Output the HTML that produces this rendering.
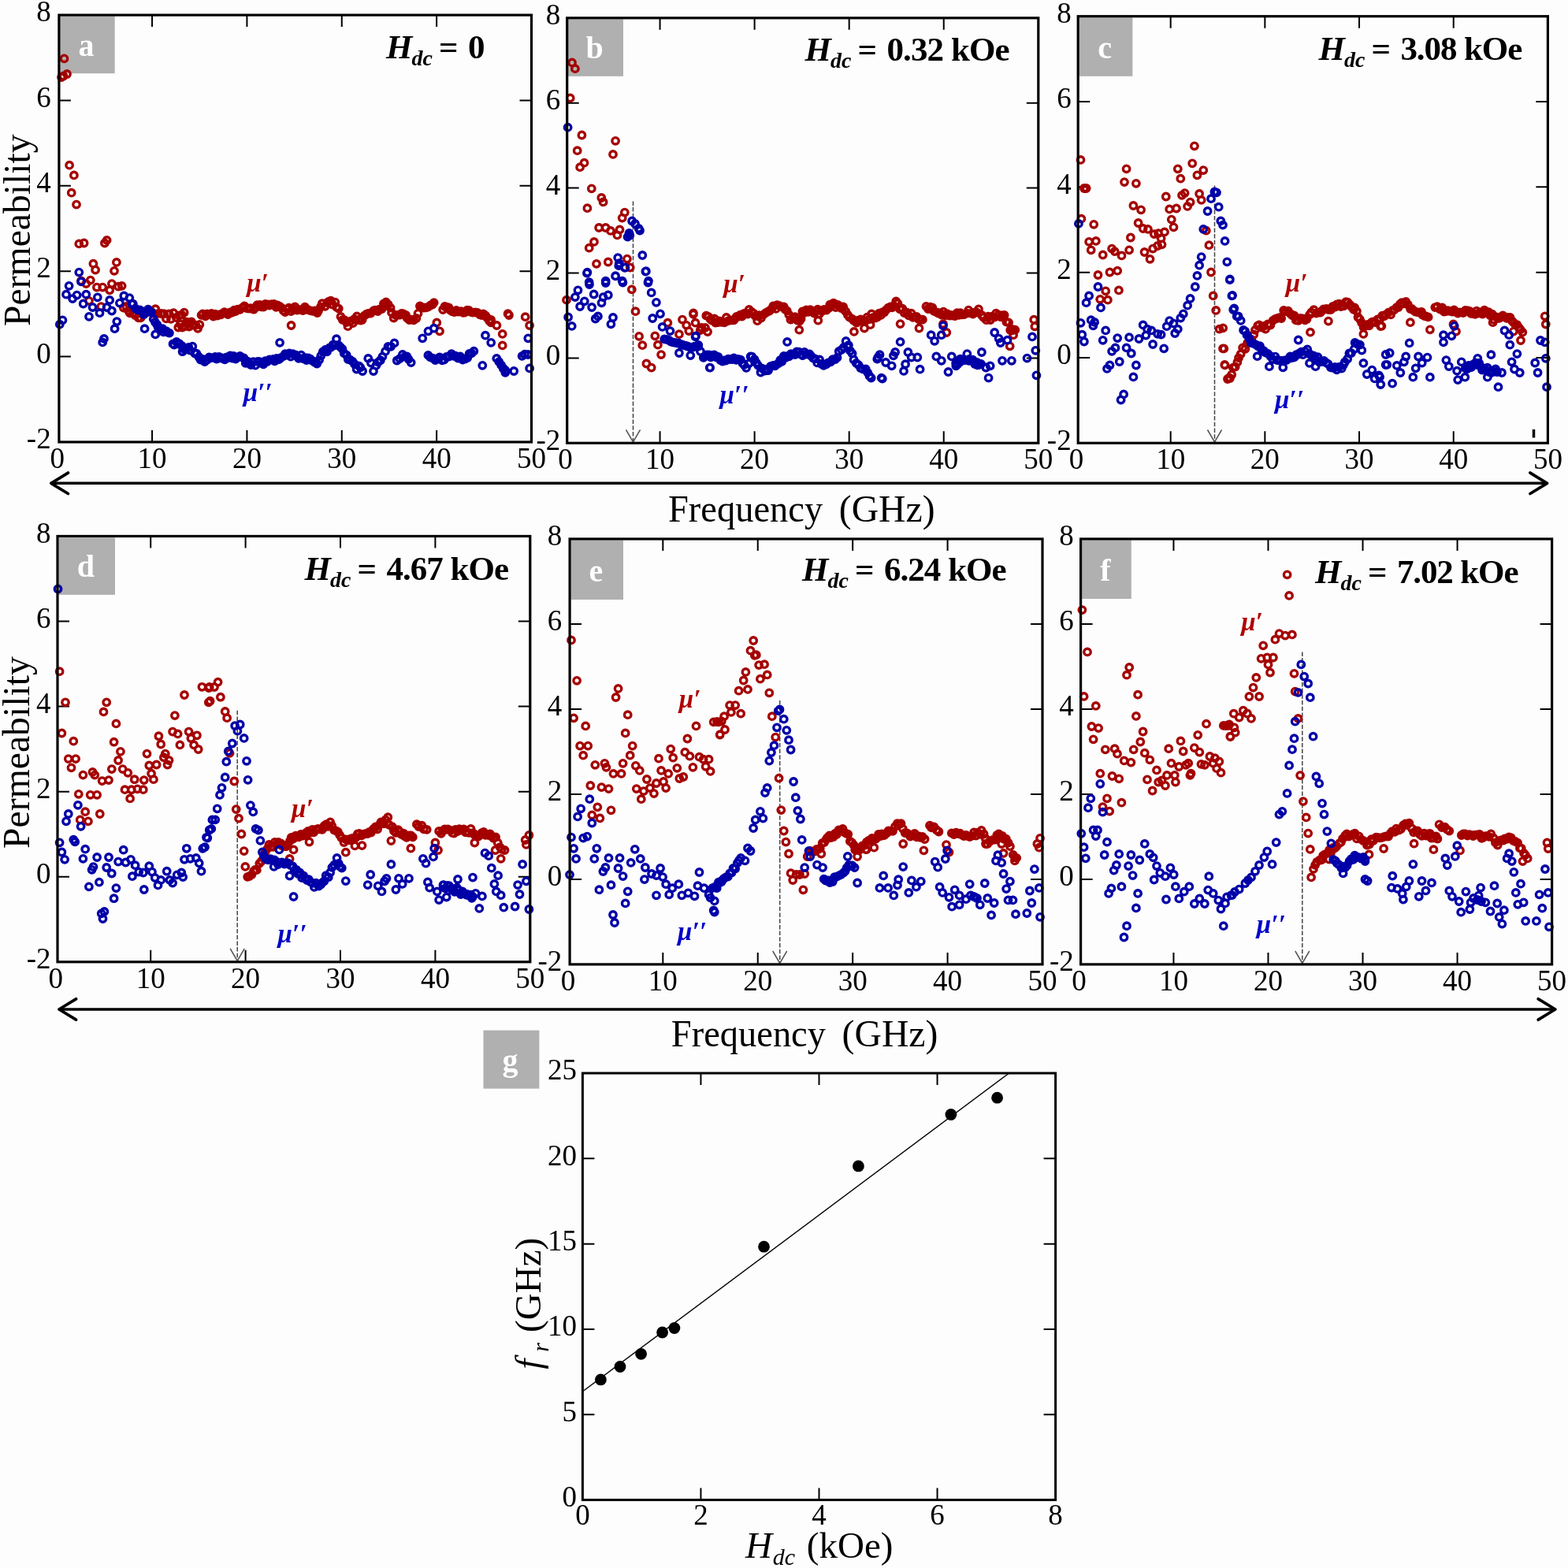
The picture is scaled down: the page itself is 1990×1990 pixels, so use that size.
<!DOCTYPE html>
<html><head><meta charset="utf-8"><title>Permeability spectra vs. frequency under DC field</title>
<style>
html,body{margin:0;padding:0;background:#fdfdfd;width:1990px;height:1990px;overflow:hidden;}
svg{display:block;}
.tl{font-family:'Liberation Serif','Times New Roman',serif;font-size:37px;fill:#000;}
.ax{font-family:'Liberation Serif','Times New Roman',serif;font-size:47.7px;fill:#000;}
.gx{font-family:'Liberation Serif','Times New Roman',serif;font-size:47px;fill:#000;}
.hl{font-family:'Liberation Serif','Times New Roman',serif;font-size:43px;font-weight:bold;fill:#000;}
.pl{font-family:'Liberation Serif','Times New Roman',serif;font-size:40px;font-weight:bold;fill:#fff;}
.mu{font-family:'Liberation Serif','Times New Roman',serif;font-size:33px;font-weight:bold;font-style:italic;}
</style></head><body>
<svg width="1990" height="1990" viewBox="0 0 1990 1990" xmlns="http://www.w3.org/2000/svg">
<rect x="76.2" y="20.6" width="69.5" height="72.6" fill="#b0b0b0"/>
<text x="109.45" y="70.5" class="pl" text-anchor="middle">a</text>
<rect x="721" y="24.3" width="70" height="72.5" fill="#b0b0b0"/>
<text x="754.5" y="74.1" class="pl" text-anchor="middle">b</text>
<rect x="1370" y="22.3" width="67.4" height="74.5" fill="#b0b0b0"/>
<text x="1402.2" y="74.1" class="pl" text-anchor="middle">c</text>
<rect x="74.5" y="682.4" width="71.5" height="72.5" fill="#b0b0b0"/>
<text x="108.75" y="732.2" class="pl" text-anchor="middle">d</text>
<rect x="724.7" y="685.5" width="66.3" height="75.5" fill="#b0b0b0"/>
<text x="756.35" y="738.3" class="pl" text-anchor="middle">e</text>
<rect x="1373.2" y="685.5" width="62.6" height="74.5" fill="#b0b0b0"/>
<text x="1403" y="737.3" class="pl" text-anchor="middle">f</text>
<path d="M193.06 561V546M193.06 19.1V34.1M313.42 561V546M313.42 19.1V34.1M433.78 561V546M433.78 19.1V34.1M554.14 561V546M554.14 19.1V34.1M74.9 127.48H89.9M674.5 127.48H659.5M74.9 235.86H89.9M674.5 235.86H659.5M74.9 344.24H89.9M674.5 344.24H659.5M74.9 452.62H89.9M674.5 452.62H659.5" stroke="#000" stroke-width="2" fill="none"/>
<text x="64.7" y="27.3" text-anchor="end" class="tl">8</text>
<text x="64.7" y="135.68" text-anchor="end" class="tl">6</text>
<text x="64.7" y="244.06" text-anchor="end" class="tl">4</text>
<text x="64.7" y="352.44" text-anchor="end" class="tl">2</text>
<text x="64.7" y="460.82" text-anchor="end" class="tl">0</text>
<text x="64.7" y="569.2" text-anchor="end" class="tl">-2</text>
<text x="72.7" y="594" text-anchor="middle" class="tl">0</text>
<text x="193.06" y="594" text-anchor="middle" class="tl">10</text>
<text x="313.42" y="594" text-anchor="middle" class="tl">20</text>
<text x="433.78" y="594" text-anchor="middle" class="tl">30</text>
<text x="554.14" y="594" text-anchor="middle" class="tl">40</text>
<text x="674.5" y="594" text-anchor="middle" class="tl">50</text>
<path d="M837.56 562.3V547.3M837.56 22.8V37.8M957.62 562.3V547.3M957.62 22.8V37.8M1077.68 562.3V547.3M1077.68 22.8V37.8M1197.74 562.3V547.3M1197.74 22.8V37.8M719.7 130.7H734.7M1317.8 130.7H1302.8M719.7 238.6H734.7M1317.8 238.6H1302.8M719.7 346.5H734.7M1317.8 346.5H1302.8M719.7 454.4H734.7M1317.8 454.4H1302.8" stroke="#000" stroke-width="2" fill="none"/>
<text x="711.3" y="31" text-anchor="end" class="tl">8</text>
<text x="711.3" y="138.9" text-anchor="end" class="tl">6</text>
<text x="711.3" y="246.8" text-anchor="end" class="tl">4</text>
<text x="711.3" y="354.7" text-anchor="end" class="tl">2</text>
<text x="711.3" y="462.6" text-anchor="end" class="tl">0</text>
<text x="711.3" y="570.5" text-anchor="end" class="tl">-2</text>
<text x="717.5" y="595.3" text-anchor="middle" class="tl">0</text>
<text x="837.56" y="595.3" text-anchor="middle" class="tl">10</text>
<text x="957.62" y="595.3" text-anchor="middle" class="tl">20</text>
<text x="1077.68" y="595.3" text-anchor="middle" class="tl">30</text>
<text x="1197.74" y="595.3" text-anchor="middle" class="tl">40</text>
<text x="1317.8" y="595.3" text-anchor="middle" class="tl">50</text>
<path d="M1485.68 562.3V547.3M1485.68 20.7V35.7M1605.36 562.3V547.3M1605.36 20.7V35.7M1725.04 562.3V547.3M1725.04 20.7V35.7M1844.72 562.3V547.3M1844.72 20.7V35.7M1368.2 129.02H1383.2M1964.4 129.02H1949.4M1368.2 237.34H1383.2M1964.4 237.34H1949.4M1368.2 345.66H1383.2M1964.4 345.66H1949.4M1368.2 453.98H1383.2M1964.4 453.98H1949.4" stroke="#000" stroke-width="2" fill="none"/>
<text x="1359.7" y="28.9" text-anchor="end" class="tl">8</text>
<text x="1359.7" y="137.22" text-anchor="end" class="tl">6</text>
<text x="1359.7" y="245.54" text-anchor="end" class="tl">4</text>
<text x="1359.7" y="353.86" text-anchor="end" class="tl">2</text>
<text x="1359.7" y="462.18" text-anchor="end" class="tl">0</text>
<text x="1359.7" y="570.5" text-anchor="end" class="tl">-2</text>
<text x="1366" y="595.3" text-anchor="middle" class="tl">0</text>
<text x="1485.68" y="595.3" text-anchor="middle" class="tl">10</text>
<text x="1605.36" y="595.3" text-anchor="middle" class="tl">20</text>
<text x="1725.04" y="595.3" text-anchor="middle" class="tl">30</text>
<text x="1844.72" y="595.3" text-anchor="middle" class="tl">40</text>
<text x="1964.4" y="595.3" text-anchor="middle" class="tl">50</text>
<path d="M191.2 1220.8V1205.8M191.2 680.5V695.5M311.6 1220.8V1205.8M311.6 680.5V695.5M432 1220.8V1205.8M432 680.5V695.5M552.4 1220.8V1205.8M552.4 680.5V695.5M73 788.56H88M672.8 788.56H657.8M73 896.62H88M672.8 896.62H657.8M73 1004.68H88M672.8 1004.68H657.8M73 1112.74H88M672.8 1112.74H657.8" stroke="#000" stroke-width="2" fill="none"/>
<text x="64.5" y="688.7" text-anchor="end" class="tl">8</text>
<text x="64.5" y="796.76" text-anchor="end" class="tl">6</text>
<text x="64.5" y="904.82" text-anchor="end" class="tl">4</text>
<text x="64.5" y="1012.88" text-anchor="end" class="tl">2</text>
<text x="64.5" y="1120.94" text-anchor="end" class="tl">0</text>
<text x="64.5" y="1229" text-anchor="end" class="tl">-2</text>
<text x="70.8" y="1253.8" text-anchor="middle" class="tl">0</text>
<text x="191.2" y="1253.8" text-anchor="middle" class="tl">10</text>
<text x="311.6" y="1253.8" text-anchor="middle" class="tl">20</text>
<text x="432" y="1253.8" text-anchor="middle" class="tl">30</text>
<text x="552.4" y="1253.8" text-anchor="middle" class="tl">40</text>
<text x="672.8" y="1253.8" text-anchor="middle" class="tl">50</text>
<path d="M841.32 1223.9V1208.9M841.32 684V699M961.74 1223.9V1208.9M961.74 684V699M1082.16 1223.9V1208.9M1082.16 684V699M1202.58 1223.9V1208.9M1202.58 684V699M723.1 791.98H738.1M1323 791.98H1308M723.1 899.96H738.1M1323 899.96H1308M723.1 1007.94H738.1M1323 1007.94H1308M723.1 1115.92H738.1M1323 1115.92H1308" stroke="#000" stroke-width="2" fill="none"/>
<text x="713.3" y="692.2" text-anchor="end" class="tl">8</text>
<text x="713.3" y="800.18" text-anchor="end" class="tl">6</text>
<text x="713.3" y="908.16" text-anchor="end" class="tl">4</text>
<text x="713.3" y="1016.14" text-anchor="end" class="tl">2</text>
<text x="713.3" y="1124.12" text-anchor="end" class="tl">0</text>
<text x="713.3" y="1232.1" text-anchor="end" class="tl">-2</text>
<text x="720.9" y="1256.9" text-anchor="middle" class="tl">0</text>
<text x="841.32" y="1256.9" text-anchor="middle" class="tl">10</text>
<text x="961.74" y="1256.9" text-anchor="middle" class="tl">20</text>
<text x="1082.16" y="1256.9" text-anchor="middle" class="tl">30</text>
<text x="1202.58" y="1256.9" text-anchor="middle" class="tl">40</text>
<text x="1323" y="1256.9" text-anchor="middle" class="tl">50</text>
<path d="M1489.44 1223.9V1208.9M1489.44 684V699M1609.48 1223.9V1208.9M1609.48 684V699M1729.52 1223.9V1208.9M1729.52 684V699M1849.56 1223.9V1208.9M1849.56 684V699M1371.6 791.98H1386.6M1969.6 791.98H1954.6M1371.6 899.96H1386.6M1969.6 899.96H1954.6M1371.6 1007.94H1386.6M1969.6 1007.94H1954.6M1371.6 1115.92H1386.6M1969.6 1115.92H1954.6" stroke="#000" stroke-width="2" fill="none"/>
<text x="1362.8" y="692.2" text-anchor="end" class="tl">8</text>
<text x="1362.8" y="800.18" text-anchor="end" class="tl">6</text>
<text x="1362.8" y="908.16" text-anchor="end" class="tl">4</text>
<text x="1362.8" y="1016.14" text-anchor="end" class="tl">2</text>
<text x="1362.8" y="1124.12" text-anchor="end" class="tl">0</text>
<text x="1362.8" y="1232.1" text-anchor="end" class="tl">-2</text>
<text x="1369.4" y="1256.9" text-anchor="middle" class="tl">0</text>
<text x="1489.44" y="1256.9" text-anchor="middle" class="tl">10</text>
<text x="1609.48" y="1256.9" text-anchor="middle" class="tl">20</text>
<text x="1729.52" y="1256.9" text-anchor="middle" class="tl">30</text>
<text x="1849.56" y="1256.9" text-anchor="middle" class="tl">40</text>
<text x="1969.6" y="1256.9" text-anchor="middle" class="tl">50</text>
<path d="M803.5 255.4V561" stroke="#444" stroke-width="1.5" stroke-dasharray="5.5 2.2" fill="none"/>
<path d="M794.5 545.5L803.5 561L812.5 545.5" stroke="#555" stroke-width="1.5" fill="none"/>
<path d="M1541.5 235.5V561" stroke="#444" stroke-width="1.5" stroke-dasharray="5.5 2.2" fill="none"/>
<path d="M1532.5 545.5L1541.5 561L1550.5 545.5" stroke="#555" stroke-width="1.5" fill="none"/>
<path d="M301.2 901.8V1219.5" stroke="#444" stroke-width="1.5" stroke-dasharray="5.5 2.2" fill="none"/>
<path d="M292.2 1204.0L301.2 1219.5L310.2 1204.0" stroke="#555" stroke-width="1.5" fill="none"/>
<path d="M989.7 889V1222.5" stroke="#444" stroke-width="1.5" stroke-dasharray="5.5 2.2" fill="none"/>
<path d="M980.7 1207.0L989.7 1222.5L998.7 1207.0" stroke="#555" stroke-width="1.5" fill="none"/>
<path d="M1652.8 827.4V1222.5" stroke="#444" stroke-width="1.5" stroke-dasharray="5.5 2.2" fill="none"/>
<path d="M1643.8 1207.0L1652.8 1222.5L1661.8 1207.0" stroke="#555" stroke-width="1.5" fill="none"/>
<path d="M83.9 209.7a4.2 4.2 0 1 0 8.4 0a4.2 4.2 0 1 0 -8.4 0M89.7 222.4a4.2 4.2 0 1 0 8.4 0a4.2 4.2 0 1 0 -8.4 0M86.5 244.7a4.2 4.2 0 1 0 8.4 0a4.2 4.2 0 1 0 -8.4 0M92.8 259.6a4.2 4.2 0 1 0 8.4 0a4.2 4.2 0 1 0 -8.4 0M96.1 309.4a4.2 4.2 0 1 0 8.4 0a4.2 4.2 0 1 0 -8.4 0M102.4 308.5a4.2 4.2 0 1 0 8.4 0a4.2 4.2 0 1 0 -8.4 0M128.7 308.5a4.2 4.2 0 1 0 8.4 0a4.2 4.2 0 1 0 -8.4 0M131.4 304.9a4.2 4.2 0 1 0 8.4 0a4.2 4.2 0 1 0 -8.4 0M114.2 334.7a4.2 4.2 0 1 0 8.4 0a4.2 4.2 0 1 0 -8.4 0M116.9 342.5a4.2 4.2 0 1 0 8.4 0a4.2 4.2 0 1 0 -8.4 0M143.7 332.9a4.2 4.2 0 1 0 8.4 0a4.2 4.2 0 1 0 -8.4 0M140.8 343.8a4.2 4.2 0 1 0 8.4 0a4.2 4.2 0 1 0 -8.4 0M98.8 356.5a4.2 4.2 0 1 0 8.4 0a4.2 4.2 0 1 0 -8.4 0M110.6 355.6a4.2 4.2 0 1 0 8.4 0a4.2 4.2 0 1 0 -8.4 0M105.1 360.1a4.2 4.2 0 1 0 8.4 0a4.2 4.2 0 1 0 -8.4 0M118.7 364.6a4.2 4.2 0 1 0 8.4 0a4.2 4.2 0 1 0 -8.4 0M126.0 364.6a4.2 4.2 0 1 0 8.4 0a4.2 4.2 0 1 0 -8.4 0M135.0 368.3a4.2 4.2 0 1 0 8.4 0a4.2 4.2 0 1 0 -8.4 0M137.7 360.1a4.2 4.2 0 1 0 8.4 0a4.2 4.2 0 1 0 -8.4 0M145.9 363.7a4.2 4.2 0 1 0 8.4 0a4.2 4.2 0 1 0 -8.4 0M150.4 362.8a4.2 4.2 0 1 0 8.4 0a4.2 4.2 0 1 0 -8.4 0M108.8 381.8a4.2 4.2 0 1 0 8.4 0a4.2 4.2 0 1 0 -8.4 0M124.1 389.1a4.2 4.2 0 1 0 8.4 0a4.2 4.2 0 1 0 -8.4 0M77.3 74.3a4.2 4.2 0 1 0 8.4 0a4.2 4.2 0 1 0 -8.4 0M80.8 94.0a4.2 4.2 0 1 0 8.4 0a4.2 4.2 0 1 0 -8.4 0M73.8 98.0a4.2 4.2 0 1 0 8.4 0a4.2 4.2 0 1 0 -8.4 0M76.3 96.5a4.2 4.2 0 1 0 8.4 0a4.2 4.2 0 1 0 -8.4 0M365.4 413.0a4.2 4.2 0 1 0 8.4 0a4.2 4.2 0 1 0 -8.4 0M550.1 409.4a4.2 4.2 0 1 0 8.4 0a4.2 4.2 0 1 0 -8.4 0M553.8 420.3a4.2 4.2 0 1 0 8.4 0a4.2 4.2 0 1 0 -8.4 0M633.5 423.9a4.2 4.2 0 1 0 8.4 0a4.2 4.2 0 1 0 -8.4 0M633.5 438.4a4.2 4.2 0 1 0 8.4 0a4.2 4.2 0 1 0 -8.4 0M662.5 402.2a4.2 4.2 0 1 0 8.4 0a4.2 4.2 0 1 0 -8.4 0M667.9 413.0a4.2 4.2 0 1 0 8.4 0a4.2 4.2 0 1 0 -8.4 0M626.2 413.0a4.2 4.2 0 1 0 8.4 0a4.2 4.2 0 1 0 -8.4 0M619.0 409.4a4.2 4.2 0 1 0 8.4 0a4.2 4.2 0 1 0 -8.4 0M152.6 390.6a4.2 4.2 0 1 0 8.4 0a4.2 4.2 0 1 0 -8.4 0M156.1 389.0a4.2 4.2 0 1 0 8.4 0a4.2 4.2 0 1 0 -8.4 0M159.1 394.5a4.2 4.2 0 1 0 8.4 0a4.2 4.2 0 1 0 -8.4 0M160.7 397.4a4.2 4.2 0 1 0 8.4 0a4.2 4.2 0 1 0 -8.4 0M164.6 397.4a4.2 4.2 0 1 0 8.4 0a4.2 4.2 0 1 0 -8.4 0M167.3 400.1a4.2 4.2 0 1 0 8.4 0a4.2 4.2 0 1 0 -8.4 0M171.6 403.4a4.2 4.2 0 1 0 8.4 0a4.2 4.2 0 1 0 -8.4 0M174.3 403.4a4.2 4.2 0 1 0 8.4 0a4.2 4.2 0 1 0 -8.4 0M177.0 399.4a4.2 4.2 0 1 0 8.4 0a4.2 4.2 0 1 0 -8.4 0M178.9 397.2a4.2 4.2 0 1 0 8.4 0a4.2 4.2 0 1 0 -8.4 0M181.8 396.4a4.2 4.2 0 1 0 8.4 0a4.2 4.2 0 1 0 -8.4 0M185.2 394.5a4.2 4.2 0 1 0 8.4 0a4.2 4.2 0 1 0 -8.4 0M187.8 395.6a4.2 4.2 0 1 0 8.4 0a4.2 4.2 0 1 0 -8.4 0M190.7 397.9a4.2 4.2 0 1 0 8.4 0a4.2 4.2 0 1 0 -8.4 0M193.1 392.2a4.2 4.2 0 1 0 8.4 0a4.2 4.2 0 1 0 -8.4 0M196.5 397.8a4.2 4.2 0 1 0 8.4 0a4.2 4.2 0 1 0 -8.4 0M200.4 398.0a4.2 4.2 0 1 0 8.4 0a4.2 4.2 0 1 0 -8.4 0M203.8 398.2a4.2 4.2 0 1 0 8.4 0a4.2 4.2 0 1 0 -8.4 0M206.7 404.4a4.2 4.2 0 1 0 8.4 0a4.2 4.2 0 1 0 -8.4 0M210.4 398.3a4.2 4.2 0 1 0 8.4 0a4.2 4.2 0 1 0 -8.4 0M212.7 404.9a4.2 4.2 0 1 0 8.4 0a4.2 4.2 0 1 0 -8.4 0M216.0 397.2a4.2 4.2 0 1 0 8.4 0a4.2 4.2 0 1 0 -8.4 0M219.5 403.0a4.2 4.2 0 1 0 8.4 0a4.2 4.2 0 1 0 -8.4 0M223.3 400.5a4.2 4.2 0 1 0 8.4 0a4.2 4.2 0 1 0 -8.4 0M226.6 399.6a4.2 4.2 0 1 0 8.4 0a4.2 4.2 0 1 0 -8.4 0M229.5 396.6a4.2 4.2 0 1 0 8.4 0a4.2 4.2 0 1 0 -8.4 0M232.9 408.7a4.2 4.2 0 1 0 8.4 0a4.2 4.2 0 1 0 -8.4 0M235.7 414.5a4.2 4.2 0 1 0 8.4 0a4.2 4.2 0 1 0 -8.4 0M238.8 408.4a4.2 4.2 0 1 0 8.4 0a4.2 4.2 0 1 0 -8.4 0M241.2 412.7a4.2 4.2 0 1 0 8.4 0a4.2 4.2 0 1 0 -8.4 0M244.2 412.6a4.2 4.2 0 1 0 8.4 0a4.2 4.2 0 1 0 -8.4 0M246.9 416.8a4.2 4.2 0 1 0 8.4 0a4.2 4.2 0 1 0 -8.4 0M249.1 412.0a4.2 4.2 0 1 0 8.4 0a4.2 4.2 0 1 0 -8.4 0M222.1 415.5a4.2 4.2 0 1 0 8.4 0a4.2 4.2 0 1 0 -8.4 0M224.7 411.4a4.2 4.2 0 1 0 8.4 0a4.2 4.2 0 1 0 -8.4 0M227.1 415.6a4.2 4.2 0 1 0 8.4 0a4.2 4.2 0 1 0 -8.4 0M230.8 414.2a4.2 4.2 0 1 0 8.4 0a4.2 4.2 0 1 0 -8.4 0M232.7 410.7a4.2 4.2 0 1 0 8.4 0a4.2 4.2 0 1 0 -8.4 0M235.8 410.0a4.2 4.2 0 1 0 8.4 0a4.2 4.2 0 1 0 -8.4 0M251.4 399.9a4.2 4.2 0 1 0 8.4 0a4.2 4.2 0 1 0 -8.4 0M253.1 398.5a4.2 4.2 0 1 0 8.4 0a4.2 4.2 0 1 0 -8.4 0M256.5 401.3a4.2 4.2 0 1 0 8.4 0a4.2 4.2 0 1 0 -8.4 0M258.9 398.3a4.2 4.2 0 1 0 8.4 0a4.2 4.2 0 1 0 -8.4 0M261.1 399.1a4.2 4.2 0 1 0 8.4 0a4.2 4.2 0 1 0 -8.4 0M264.2 398.0a4.2 4.2 0 1 0 8.4 0a4.2 4.2 0 1 0 -8.4 0M266.6 401.5a4.2 4.2 0 1 0 8.4 0a4.2 4.2 0 1 0 -8.4 0M268.7 398.7a4.2 4.2 0 1 0 8.4 0a4.2 4.2 0 1 0 -8.4 0M271.7 400.7a4.2 4.2 0 1 0 8.4 0a4.2 4.2 0 1 0 -8.4 0M273.6 399.5a4.2 4.2 0 1 0 8.4 0a4.2 4.2 0 1 0 -8.4 0M276.1 399.4a4.2 4.2 0 1 0 8.4 0a4.2 4.2 0 1 0 -8.4 0M278.0 397.9a4.2 4.2 0 1 0 8.4 0a4.2 4.2 0 1 0 -8.4 0M280.6 396.2a4.2 4.2 0 1 0 8.4 0a4.2 4.2 0 1 0 -8.4 0M283.5 397.1a4.2 4.2 0 1 0 8.4 0a4.2 4.2 0 1 0 -8.4 0M285.1 399.0a4.2 4.2 0 1 0 8.4 0a4.2 4.2 0 1 0 -8.4 0M288.6 396.2a4.2 4.2 0 1 0 8.4 0a4.2 4.2 0 1 0 -8.4 0M290.5 396.5a4.2 4.2 0 1 0 8.4 0a4.2 4.2 0 1 0 -8.4 0M293.0 393.7a4.2 4.2 0 1 0 8.4 0a4.2 4.2 0 1 0 -8.4 0M294.8 395.2a4.2 4.2 0 1 0 8.4 0a4.2 4.2 0 1 0 -8.4 0M297.4 392.6a4.2 4.2 0 1 0 8.4 0a4.2 4.2 0 1 0 -8.4 0M300.5 392.8a4.2 4.2 0 1 0 8.4 0a4.2 4.2 0 1 0 -8.4 0M303.5 390.3a4.2 4.2 0 1 0 8.4 0a4.2 4.2 0 1 0 -8.4 0M306.0 388.4a4.2 4.2 0 1 0 8.4 0a4.2 4.2 0 1 0 -8.4 0M309.5 391.4a4.2 4.2 0 1 0 8.4 0a4.2 4.2 0 1 0 -8.4 0M312.1 391.5a4.2 4.2 0 1 0 8.4 0a4.2 4.2 0 1 0 -8.4 0M314.0 391.2a4.2 4.2 0 1 0 8.4 0a4.2 4.2 0 1 0 -8.4 0M317.8 392.7a4.2 4.2 0 1 0 8.4 0a4.2 4.2 0 1 0 -8.4 0M320.2 390.2a4.2 4.2 0 1 0 8.4 0a4.2 4.2 0 1 0 -8.4 0M322.2 387.1a4.2 4.2 0 1 0 8.4 0a4.2 4.2 0 1 0 -8.4 0M325.5 387.0a4.2 4.2 0 1 0 8.4 0a4.2 4.2 0 1 0 -8.4 0M327.1 389.3a4.2 4.2 0 1 0 8.4 0a4.2 4.2 0 1 0 -8.4 0M330.2 389.5a4.2 4.2 0 1 0 8.4 0a4.2 4.2 0 1 0 -8.4 0M332.5 385.8a4.2 4.2 0 1 0 8.4 0a4.2 4.2 0 1 0 -8.4 0M336.0 386.3a4.2 4.2 0 1 0 8.4 0a4.2 4.2 0 1 0 -8.4 0M337.7 387.5a4.2 4.2 0 1 0 8.4 0a4.2 4.2 0 1 0 -8.4 0M340.6 386.1a4.2 4.2 0 1 0 8.4 0a4.2 4.2 0 1 0 -8.4 0M343.5 385.9a4.2 4.2 0 1 0 8.4 0a4.2 4.2 0 1 0 -8.4 0M346.3 389.9a4.2 4.2 0 1 0 8.4 0a4.2 4.2 0 1 0 -8.4 0M347.9 387.4a4.2 4.2 0 1 0 8.4 0a4.2 4.2 0 1 0 -8.4 0M350.5 388.6a4.2 4.2 0 1 0 8.4 0a4.2 4.2 0 1 0 -8.4 0M353.1 390.7a4.2 4.2 0 1 0 8.4 0a4.2 4.2 0 1 0 -8.4 0M355.6 394.3a4.2 4.2 0 1 0 8.4 0a4.2 4.2 0 1 0 -8.4 0M357.7 396.1a4.2 4.2 0 1 0 8.4 0a4.2 4.2 0 1 0 -8.4 0M360.6 392.4a4.2 4.2 0 1 0 8.4 0a4.2 4.2 0 1 0 -8.4 0M362.4 390.7a4.2 4.2 0 1 0 8.4 0a4.2 4.2 0 1 0 -8.4 0M365.1 395.1a4.2 4.2 0 1 0 8.4 0a4.2 4.2 0 1 0 -8.4 0M367.4 392.0a4.2 4.2 0 1 0 8.4 0a4.2 4.2 0 1 0 -8.4 0M370.2 389.5a4.2 4.2 0 1 0 8.4 0a4.2 4.2 0 1 0 -8.4 0M372.6 393.5a4.2 4.2 0 1 0 8.4 0a4.2 4.2 0 1 0 -8.4 0M375.2 392.8a4.2 4.2 0 1 0 8.4 0a4.2 4.2 0 1 0 -8.4 0M377.5 393.4a4.2 4.2 0 1 0 8.4 0a4.2 4.2 0 1 0 -8.4 0M380.3 394.0a4.2 4.2 0 1 0 8.4 0a4.2 4.2 0 1 0 -8.4 0M382.8 389.7a4.2 4.2 0 1 0 8.4 0a4.2 4.2 0 1 0 -8.4 0M385.1 392.2a4.2 4.2 0 1 0 8.4 0a4.2 4.2 0 1 0 -8.4 0M387.0 393.4a4.2 4.2 0 1 0 8.4 0a4.2 4.2 0 1 0 -8.4 0M390.3 394.3a4.2 4.2 0 1 0 8.4 0a4.2 4.2 0 1 0 -8.4 0M392.8 394.9a4.2 4.2 0 1 0 8.4 0a4.2 4.2 0 1 0 -8.4 0M395.4 394.5a4.2 4.2 0 1 0 8.4 0a4.2 4.2 0 1 0 -8.4 0M398.5 397.1a4.2 4.2 0 1 0 8.4 0a4.2 4.2 0 1 0 -8.4 0M399.8 394.4a4.2 4.2 0 1 0 8.4 0a4.2 4.2 0 1 0 -8.4 0M402.8 389.5a4.2 4.2 0 1 0 8.4 0a4.2 4.2 0 1 0 -8.4 0M404.6 385.2a4.2 4.2 0 1 0 8.4 0a4.2 4.2 0 1 0 -8.4 0M408.4 388.8a4.2 4.2 0 1 0 8.4 0a4.2 4.2 0 1 0 -8.4 0M411.2 384.0a4.2 4.2 0 1 0 8.4 0a4.2 4.2 0 1 0 -8.4 0M413.1 382.6a4.2 4.2 0 1 0 8.4 0a4.2 4.2 0 1 0 -8.4 0M415.6 381.7a4.2 4.2 0 1 0 8.4 0a4.2 4.2 0 1 0 -8.4 0M417.9 386.5a4.2 4.2 0 1 0 8.4 0a4.2 4.2 0 1 0 -8.4 0M421.2 383.6a4.2 4.2 0 1 0 8.4 0a4.2 4.2 0 1 0 -8.4 0M422.9 389.9a4.2 4.2 0 1 0 8.4 0a4.2 4.2 0 1 0 -8.4 0M425.6 391.6a4.2 4.2 0 1 0 8.4 0a4.2 4.2 0 1 0 -8.4 0M428.3 401.9a4.2 4.2 0 1 0 8.4 0a4.2 4.2 0 1 0 -8.4 0M430.6 405.9a4.2 4.2 0 1 0 8.4 0a4.2 4.2 0 1 0 -8.4 0M433.0 406.1a4.2 4.2 0 1 0 8.4 0a4.2 4.2 0 1 0 -8.4 0M435.5 409.1a4.2 4.2 0 1 0 8.4 0a4.2 4.2 0 1 0 -8.4 0M437.3 414.2a4.2 4.2 0 1 0 8.4 0a4.2 4.2 0 1 0 -8.4 0M440.6 407.7a4.2 4.2 0 1 0 8.4 0a4.2 4.2 0 1 0 -8.4 0M443.6 410.2a4.2 4.2 0 1 0 8.4 0a4.2 4.2 0 1 0 -8.4 0M445.5 405.0a4.2 4.2 0 1 0 8.4 0a4.2 4.2 0 1 0 -8.4 0M448.7 401.5a4.2 4.2 0 1 0 8.4 0a4.2 4.2 0 1 0 -8.4 0M450.8 406.0a4.2 4.2 0 1 0 8.4 0a4.2 4.2 0 1 0 -8.4 0M453.7 406.5a4.2 4.2 0 1 0 8.4 0a4.2 4.2 0 1 0 -8.4 0M455.4 406.0a4.2 4.2 0 1 0 8.4 0a4.2 4.2 0 1 0 -8.4 0M458.5 400.3a4.2 4.2 0 1 0 8.4 0a4.2 4.2 0 1 0 -8.4 0M461.3 398.5a4.2 4.2 0 1 0 8.4 0a4.2 4.2 0 1 0 -8.4 0M464.1 397.6a4.2 4.2 0 1 0 8.4 0a4.2 4.2 0 1 0 -8.4 0M466.2 397.5a4.2 4.2 0 1 0 8.4 0a4.2 4.2 0 1 0 -8.4 0M470.1 394.2a4.2 4.2 0 1 0 8.4 0a4.2 4.2 0 1 0 -8.4 0M472.4 393.7a4.2 4.2 0 1 0 8.4 0a4.2 4.2 0 1 0 -8.4 0M475.3 395.1a4.2 4.2 0 1 0 8.4 0a4.2 4.2 0 1 0 -8.4 0M477.2 392.7a4.2 4.2 0 1 0 8.4 0a4.2 4.2 0 1 0 -8.4 0M480.5 392.0a4.2 4.2 0 1 0 8.4 0a4.2 4.2 0 1 0 -8.4 0M482.7 385.5a4.2 4.2 0 1 0 8.4 0a4.2 4.2 0 1 0 -8.4 0M485.7 383.4a4.2 4.2 0 1 0 8.4 0a4.2 4.2 0 1 0 -8.4 0M488.5 386.4a4.2 4.2 0 1 0 8.4 0a4.2 4.2 0 1 0 -8.4 0M491.4 390.7a4.2 4.2 0 1 0 8.4 0a4.2 4.2 0 1 0 -8.4 0M492.8 396.6a4.2 4.2 0 1 0 8.4 0a4.2 4.2 0 1 0 -8.4 0M495.5 403.5a4.2 4.2 0 1 0 8.4 0a4.2 4.2 0 1 0 -8.4 0M497.8 399.9a4.2 4.2 0 1 0 8.4 0a4.2 4.2 0 1 0 -8.4 0M500.6 399.9a4.2 4.2 0 1 0 8.4 0a4.2 4.2 0 1 0 -8.4 0M503.6 399.5a4.2 4.2 0 1 0 8.4 0a4.2 4.2 0 1 0 -8.4 0M505.3 397.9a4.2 4.2 0 1 0 8.4 0a4.2 4.2 0 1 0 -8.4 0M507.4 398.2a4.2 4.2 0 1 0 8.4 0a4.2 4.2 0 1 0 -8.4 0M510.9 400.0a4.2 4.2 0 1 0 8.4 0a4.2 4.2 0 1 0 -8.4 0M512.5 403.5a4.2 4.2 0 1 0 8.4 0a4.2 4.2 0 1 0 -8.4 0M515.4 406.2a4.2 4.2 0 1 0 8.4 0a4.2 4.2 0 1 0 -8.4 0M518.6 405.6a4.2 4.2 0 1 0 8.4 0a4.2 4.2 0 1 0 -8.4 0M520.8 406.4a4.2 4.2 0 1 0 8.4 0a4.2 4.2 0 1 0 -8.4 0M524.2 404.0a4.2 4.2 0 1 0 8.4 0a4.2 4.2 0 1 0 -8.4 0M526.3 397.8a4.2 4.2 0 1 0 8.4 0a4.2 4.2 0 1 0 -8.4 0M528.7 388.5a4.2 4.2 0 1 0 8.4 0a4.2 4.2 0 1 0 -8.4 0M530.9 390.0a4.2 4.2 0 1 0 8.4 0a4.2 4.2 0 1 0 -8.4 0M533.6 390.5a4.2 4.2 0 1 0 8.4 0a4.2 4.2 0 1 0 -8.4 0M536.7 390.4a4.2 4.2 0 1 0 8.4 0a4.2 4.2 0 1 0 -8.4 0M539.0 389.6a4.2 4.2 0 1 0 8.4 0a4.2 4.2 0 1 0 -8.4 0M542.2 387.5a4.2 4.2 0 1 0 8.4 0a4.2 4.2 0 1 0 -8.4 0M544.5 386.7a4.2 4.2 0 1 0 8.4 0a4.2 4.2 0 1 0 -8.4 0M546.5 384.1a4.2 4.2 0 1 0 8.4 0a4.2 4.2 0 1 0 -8.4 0M557.9 393.0a4.2 4.2 0 1 0 8.4 0a4.2 4.2 0 1 0 -8.4 0M560.3 389.0a4.2 4.2 0 1 0 8.4 0a4.2 4.2 0 1 0 -8.4 0M562.8 389.7a4.2 4.2 0 1 0 8.4 0a4.2 4.2 0 1 0 -8.4 0M565.4 390.5a4.2 4.2 0 1 0 8.4 0a4.2 4.2 0 1 0 -8.4 0M567.5 393.8a4.2 4.2 0 1 0 8.4 0a4.2 4.2 0 1 0 -8.4 0M569.8 395.3a4.2 4.2 0 1 0 8.4 0a4.2 4.2 0 1 0 -8.4 0M572.4 396.2a4.2 4.2 0 1 0 8.4 0a4.2 4.2 0 1 0 -8.4 0M574.9 393.8a4.2 4.2 0 1 0 8.4 0a4.2 4.2 0 1 0 -8.4 0M577.6 395.7a4.2 4.2 0 1 0 8.4 0a4.2 4.2 0 1 0 -8.4 0M581.0 395.1a4.2 4.2 0 1 0 8.4 0a4.2 4.2 0 1 0 -8.4 0M583.7 396.9a4.2 4.2 0 1 0 8.4 0a4.2 4.2 0 1 0 -8.4 0M585.7 396.5a4.2 4.2 0 1 0 8.4 0a4.2 4.2 0 1 0 -8.4 0M588.7 393.7a4.2 4.2 0 1 0 8.4 0a4.2 4.2 0 1 0 -8.4 0M590.9 393.9a4.2 4.2 0 1 0 8.4 0a4.2 4.2 0 1 0 -8.4 0M593.7 396.1a4.2 4.2 0 1 0 8.4 0a4.2 4.2 0 1 0 -8.4 0M595.7 396.7a4.2 4.2 0 1 0 8.4 0a4.2 4.2 0 1 0 -8.4 0M599.1 396.4a4.2 4.2 0 1 0 8.4 0a4.2 4.2 0 1 0 -8.4 0M601.8 396.8a4.2 4.2 0 1 0 8.4 0a4.2 4.2 0 1 0 -8.4 0M604.8 399.3a4.2 4.2 0 1 0 8.4 0a4.2 4.2 0 1 0 -8.4 0M607.2 400.0a4.2 4.2 0 1 0 8.4 0a4.2 4.2 0 1 0 -8.4 0M609.2 398.3a4.2 4.2 0 1 0 8.4 0a4.2 4.2 0 1 0 -8.4 0M612.0 400.5a4.2 4.2 0 1 0 8.4 0a4.2 4.2 0 1 0 -8.4 0M613.8 403.1a4.2 4.2 0 1 0 8.4 0a4.2 4.2 0 1 0 -8.4 0M616.7 407.0a4.2 4.2 0 1 0 8.4 0a4.2 4.2 0 1 0 -8.4 0M619.0 406.0a4.2 4.2 0 1 0 8.4 0a4.2 4.2 0 1 0 -8.4 0M640.4 398.2a4.2 4.2 0 1 0 8.4 0a4.2 4.2 0 1 0 -8.4 0M641.8 400.0a4.2 4.2 0 1 0 8.4 0a4.2 4.2 0 1 0 -8.4 0" stroke="#a50000" stroke-width="3.4" fill="none"/>
<path d="M75.2 406.3a4.2 4.2 0 1 0 8.4 0a4.2 4.2 0 1 0 -8.4 0M71.6 411.7a4.2 4.2 0 1 0 8.4 0a4.2 4.2 0 1 0 -8.4 0M96.1 345.6a4.2 4.2 0 1 0 8.4 0a4.2 4.2 0 1 0 -8.4 0M98.8 357.4a4.2 4.2 0 1 0 8.4 0a4.2 4.2 0 1 0 -8.4 0M83.4 362.8a4.2 4.2 0 1 0 8.4 0a4.2 4.2 0 1 0 -8.4 0M79.8 373.7a4.2 4.2 0 1 0 8.4 0a4.2 4.2 0 1 0 -8.4 0M87.9 379.1a4.2 4.2 0 1 0 8.4 0a4.2 4.2 0 1 0 -8.4 0M93.4 374.6a4.2 4.2 0 1 0 8.4 0a4.2 4.2 0 1 0 -8.4 0M105.1 373.7a4.2 4.2 0 1 0 8.4 0a4.2 4.2 0 1 0 -8.4 0M101.5 385.5a4.2 4.2 0 1 0 8.4 0a4.2 4.2 0 1 0 -8.4 0M108.8 401.8a4.2 4.2 0 1 0 8.4 0a4.2 4.2 0 1 0 -8.4 0M113.3 390.0a4.2 4.2 0 1 0 8.4 0a4.2 4.2 0 1 0 -8.4 0M119.6 377.3a4.2 4.2 0 1 0 8.4 0a4.2 4.2 0 1 0 -8.4 0M122.3 397.2a4.2 4.2 0 1 0 8.4 0a4.2 4.2 0 1 0 -8.4 0M131.4 390.0a4.2 4.2 0 1 0 8.4 0a4.2 4.2 0 1 0 -8.4 0M135.0 380.9a4.2 4.2 0 1 0 8.4 0a4.2 4.2 0 1 0 -8.4 0M137.7 394.5a4.2 4.2 0 1 0 8.4 0a4.2 4.2 0 1 0 -8.4 0M144.1 408.1a4.2 4.2 0 1 0 8.4 0a4.2 4.2 0 1 0 -8.4 0M141.4 417.2a4.2 4.2 0 1 0 8.4 0a4.2 4.2 0 1 0 -8.4 0M127.8 429.9a4.2 4.2 0 1 0 8.4 0a4.2 4.2 0 1 0 -8.4 0M126.0 434.4a4.2 4.2 0 1 0 8.4 0a4.2 4.2 0 1 0 -8.4 0M147.7 384.6a4.2 4.2 0 1 0 8.4 0a4.2 4.2 0 1 0 -8.4 0M153.1 375.5a4.2 4.2 0 1 0 8.4 0a4.2 4.2 0 1 0 -8.4 0M179.4 417.2a4.2 4.2 0 1 0 8.4 0a4.2 4.2 0 1 0 -8.4 0M193.0 424.4a4.2 4.2 0 1 0 8.4 0a4.2 4.2 0 1 0 -8.4 0M227.4 446.2a4.2 4.2 0 1 0 8.4 0a4.2 4.2 0 1 0 -8.4 0M350.9 434.8a4.2 4.2 0 1 0 8.4 0a4.2 4.2 0 1 0 -8.4 0M539.3 420.3a4.2 4.2 0 1 0 8.4 0a4.2 4.2 0 1 0 -8.4 0M546.5 416.7a4.2 4.2 0 1 0 8.4 0a4.2 4.2 0 1 0 -8.4 0M611.8 425.7a4.2 4.2 0 1 0 8.4 0a4.2 4.2 0 1 0 -8.4 0M619.0 434.8a4.2 4.2 0 1 0 8.4 0a4.2 4.2 0 1 0 -8.4 0M666.1 429.3a4.2 4.2 0 1 0 8.4 0a4.2 4.2 0 1 0 -8.4 0M667.9 467.4a4.2 4.2 0 1 0 8.4 0a4.2 4.2 0 1 0 -8.4 0M532.0 429.3a4.2 4.2 0 1 0 8.4 0a4.2 4.2 0 1 0 -8.4 0M608.1 463.8a4.2 4.2 0 1 0 8.4 0a4.2 4.2 0 1 0 -8.4 0M637.1 472.8a4.2 4.2 0 1 0 8.4 0a4.2 4.2 0 1 0 -8.4 0M648.0 471.0a4.2 4.2 0 1 0 8.4 0a4.2 4.2 0 1 0 -8.4 0M160.1 378.1a4.2 4.2 0 1 0 8.4 0a4.2 4.2 0 1 0 -8.4 0M163.1 385.8a4.2 4.2 0 1 0 8.4 0a4.2 4.2 0 1 0 -8.4 0M164.6 385.6a4.2 4.2 0 1 0 8.4 0a4.2 4.2 0 1 0 -8.4 0M167.6 391.4a4.2 4.2 0 1 0 8.4 0a4.2 4.2 0 1 0 -8.4 0M170.3 393.2a4.2 4.2 0 1 0 8.4 0a4.2 4.2 0 1 0 -8.4 0M173.4 393.5a4.2 4.2 0 1 0 8.4 0a4.2 4.2 0 1 0 -8.4 0M175.7 394.9a4.2 4.2 0 1 0 8.4 0a4.2 4.2 0 1 0 -8.4 0M178.5 399.1a4.2 4.2 0 1 0 8.4 0a4.2 4.2 0 1 0 -8.4 0M180.9 396.8a4.2 4.2 0 1 0 8.4 0a4.2 4.2 0 1 0 -8.4 0M183.8 392.6a4.2 4.2 0 1 0 8.4 0a4.2 4.2 0 1 0 -8.4 0M185.5 394.9a4.2 4.2 0 1 0 8.4 0a4.2 4.2 0 1 0 -8.4 0M187.9 396.4a4.2 4.2 0 1 0 8.4 0a4.2 4.2 0 1 0 -8.4 0M190.6 404.9a4.2 4.2 0 1 0 8.4 0a4.2 4.2 0 1 0 -8.4 0M192.8 409.0a4.2 4.2 0 1 0 8.4 0a4.2 4.2 0 1 0 -8.4 0M195.3 412.2a4.2 4.2 0 1 0 8.4 0a4.2 4.2 0 1 0 -8.4 0M196.5 415.5a4.2 4.2 0 1 0 8.4 0a4.2 4.2 0 1 0 -8.4 0M198.9 416.9a4.2 4.2 0 1 0 8.4 0a4.2 4.2 0 1 0 -8.4 0M202.1 417.2a4.2 4.2 0 1 0 8.4 0a4.2 4.2 0 1 0 -8.4 0M203.3 421.3a4.2 4.2 0 1 0 8.4 0a4.2 4.2 0 1 0 -8.4 0M206.8 420.1a4.2 4.2 0 1 0 8.4 0a4.2 4.2 0 1 0 -8.4 0M208.9 421.9a4.2 4.2 0 1 0 8.4 0a4.2 4.2 0 1 0 -8.4 0M210.7 422.6a4.2 4.2 0 1 0 8.4 0a4.2 4.2 0 1 0 -8.4 0M215.3 436.4a4.2 4.2 0 1 0 8.4 0a4.2 4.2 0 1 0 -8.4 0M216.8 437.6a4.2 4.2 0 1 0 8.4 0a4.2 4.2 0 1 0 -8.4 0M219.8 433.8a4.2 4.2 0 1 0 8.4 0a4.2 4.2 0 1 0 -8.4 0M221.3 436.4a4.2 4.2 0 1 0 8.4 0a4.2 4.2 0 1 0 -8.4 0M223.4 436.2a4.2 4.2 0 1 0 8.4 0a4.2 4.2 0 1 0 -8.4 0M226.6 438.8a4.2 4.2 0 1 0 8.4 0a4.2 4.2 0 1 0 -8.4 0M229.7 443.2a4.2 4.2 0 1 0 8.4 0a4.2 4.2 0 1 0 -8.4 0M232.4 443.2a4.2 4.2 0 1 0 8.4 0a4.2 4.2 0 1 0 -8.4 0M235.2 440.8a4.2 4.2 0 1 0 8.4 0a4.2 4.2 0 1 0 -8.4 0M236.8 444.6a4.2 4.2 0 1 0 8.4 0a4.2 4.2 0 1 0 -8.4 0M240.1 439.6a4.2 4.2 0 1 0 8.4 0a4.2 4.2 0 1 0 -8.4 0M243.2 448.6a4.2 4.2 0 1 0 8.4 0a4.2 4.2 0 1 0 -8.4 0M245.2 448.7a4.2 4.2 0 1 0 8.4 0a4.2 4.2 0 1 0 -8.4 0M248.1 453.0a4.2 4.2 0 1 0 8.4 0a4.2 4.2 0 1 0 -8.4 0M250.4 456.6a4.2 4.2 0 1 0 8.4 0a4.2 4.2 0 1 0 -8.4 0M253.1 455.8a4.2 4.2 0 1 0 8.4 0a4.2 4.2 0 1 0 -8.4 0M255.6 459.0a4.2 4.2 0 1 0 8.4 0a4.2 4.2 0 1 0 -8.4 0M258.1 457.2a4.2 4.2 0 1 0 8.4 0a4.2 4.2 0 1 0 -8.4 0M261.2 453.3a4.2 4.2 0 1 0 8.4 0a4.2 4.2 0 1 0 -8.4 0M263.3 454.4a4.2 4.2 0 1 0 8.4 0a4.2 4.2 0 1 0 -8.4 0M266.0 453.8a4.2 4.2 0 1 0 8.4 0a4.2 4.2 0 1 0 -8.4 0M269.0 452.9a4.2 4.2 0 1 0 8.4 0a4.2 4.2 0 1 0 -8.4 0M270.7 455.7a4.2 4.2 0 1 0 8.4 0a4.2 4.2 0 1 0 -8.4 0M273.8 452.8a4.2 4.2 0 1 0 8.4 0a4.2 4.2 0 1 0 -8.4 0M276.5 454.7a4.2 4.2 0 1 0 8.4 0a4.2 4.2 0 1 0 -8.4 0M277.9 454.5a4.2 4.2 0 1 0 8.4 0a4.2 4.2 0 1 0 -8.4 0M281.1 456.4a4.2 4.2 0 1 0 8.4 0a4.2 4.2 0 1 0 -8.4 0M283.5 453.3a4.2 4.2 0 1 0 8.4 0a4.2 4.2 0 1 0 -8.4 0M285.2 454.1a4.2 4.2 0 1 0 8.4 0a4.2 4.2 0 1 0 -8.4 0M288.0 451.3a4.2 4.2 0 1 0 8.4 0a4.2 4.2 0 1 0 -8.4 0M290.5 454.6a4.2 4.2 0 1 0 8.4 0a4.2 4.2 0 1 0 -8.4 0M292.3 451.9a4.2 4.2 0 1 0 8.4 0a4.2 4.2 0 1 0 -8.4 0M294.9 455.5a4.2 4.2 0 1 0 8.4 0a4.2 4.2 0 1 0 -8.4 0M298.0 453.1a4.2 4.2 0 1 0 8.4 0a4.2 4.2 0 1 0 -8.4 0M300.3 451.9a4.2 4.2 0 1 0 8.4 0a4.2 4.2 0 1 0 -8.4 0M302.6 453.4a4.2 4.2 0 1 0 8.4 0a4.2 4.2 0 1 0 -8.4 0M305.3 454.3a4.2 4.2 0 1 0 8.4 0a4.2 4.2 0 1 0 -8.4 0M307.5 460.8a4.2 4.2 0 1 0 8.4 0a4.2 4.2 0 1 0 -8.4 0M310.1 458.6a4.2 4.2 0 1 0 8.4 0a4.2 4.2 0 1 0 -8.4 0M311.8 460.4a4.2 4.2 0 1 0 8.4 0a4.2 4.2 0 1 0 -8.4 0M314.2 463.2a4.2 4.2 0 1 0 8.4 0a4.2 4.2 0 1 0 -8.4 0M317.2 459.2a4.2 4.2 0 1 0 8.4 0a4.2 4.2 0 1 0 -8.4 0M319.9 463.7a4.2 4.2 0 1 0 8.4 0a4.2 4.2 0 1 0 -8.4 0M322.7 458.9a4.2 4.2 0 1 0 8.4 0a4.2 4.2 0 1 0 -8.4 0M324.7 459.0a4.2 4.2 0 1 0 8.4 0a4.2 4.2 0 1 0 -8.4 0M327.7 461.0a4.2 4.2 0 1 0 8.4 0a4.2 4.2 0 1 0 -8.4 0M330.1 462.4a4.2 4.2 0 1 0 8.4 0a4.2 4.2 0 1 0 -8.4 0M332.4 458.2a4.2 4.2 0 1 0 8.4 0a4.2 4.2 0 1 0 -8.4 0M334.7 459.2a4.2 4.2 0 1 0 8.4 0a4.2 4.2 0 1 0 -8.4 0M337.8 456.4a4.2 4.2 0 1 0 8.4 0a4.2 4.2 0 1 0 -8.4 0M340.5 456.6a4.2 4.2 0 1 0 8.4 0a4.2 4.2 0 1 0 -8.4 0M342.5 456.0a4.2 4.2 0 1 0 8.4 0a4.2 4.2 0 1 0 -8.4 0M344.4 458.4a4.2 4.2 0 1 0 8.4 0a4.2 4.2 0 1 0 -8.4 0M346.9 455.0a4.2 4.2 0 1 0 8.4 0a4.2 4.2 0 1 0 -8.4 0M349.8 456.2a4.2 4.2 0 1 0 8.4 0a4.2 4.2 0 1 0 -8.4 0M352.5 453.9a4.2 4.2 0 1 0 8.4 0a4.2 4.2 0 1 0 -8.4 0M355.8 451.8a4.2 4.2 0 1 0 8.4 0a4.2 4.2 0 1 0 -8.4 0M357.7 449.1a4.2 4.2 0 1 0 8.4 0a4.2 4.2 0 1 0 -8.4 0M360.1 450.5a4.2 4.2 0 1 0 8.4 0a4.2 4.2 0 1 0 -8.4 0M362.9 448.4a4.2 4.2 0 1 0 8.4 0a4.2 4.2 0 1 0 -8.4 0M364.8 452.7a4.2 4.2 0 1 0 8.4 0a4.2 4.2 0 1 0 -8.4 0M367.5 449.2a4.2 4.2 0 1 0 8.4 0a4.2 4.2 0 1 0 -8.4 0M370.8 450.4a4.2 4.2 0 1 0 8.4 0a4.2 4.2 0 1 0 -8.4 0M372.4 451.8a4.2 4.2 0 1 0 8.4 0a4.2 4.2 0 1 0 -8.4 0M374.8 454.8a4.2 4.2 0 1 0 8.4 0a4.2 4.2 0 1 0 -8.4 0M378.0 450.6a4.2 4.2 0 1 0 8.4 0a4.2 4.2 0 1 0 -8.4 0M380.4 455.0a4.2 4.2 0 1 0 8.4 0a4.2 4.2 0 1 0 -8.4 0M382.8 453.9a4.2 4.2 0 1 0 8.4 0a4.2 4.2 0 1 0 -8.4 0M384.8 457.0a4.2 4.2 0 1 0 8.4 0a4.2 4.2 0 1 0 -8.4 0M387.1 454.4a4.2 4.2 0 1 0 8.4 0a4.2 4.2 0 1 0 -8.4 0M389.2 455.3a4.2 4.2 0 1 0 8.4 0a4.2 4.2 0 1 0 -8.4 0M392.3 457.9a4.2 4.2 0 1 0 8.4 0a4.2 4.2 0 1 0 -8.4 0M395.2 459.8a4.2 4.2 0 1 0 8.4 0a4.2 4.2 0 1 0 -8.4 0M398.0 461.6a4.2 4.2 0 1 0 8.4 0a4.2 4.2 0 1 0 -8.4 0M400.9 456.9a4.2 4.2 0 1 0 8.4 0a4.2 4.2 0 1 0 -8.4 0M403.1 451.6a4.2 4.2 0 1 0 8.4 0a4.2 4.2 0 1 0 -8.4 0M405.6 446.4a4.2 4.2 0 1 0 8.4 0a4.2 4.2 0 1 0 -8.4 0M408.7 444.0a4.2 4.2 0 1 0 8.4 0a4.2 4.2 0 1 0 -8.4 0M410.8 446.4a4.2 4.2 0 1 0 8.4 0a4.2 4.2 0 1 0 -8.4 0M414.0 441.4a4.2 4.2 0 1 0 8.4 0a4.2 4.2 0 1 0 -8.4 0M415.7 440.9a4.2 4.2 0 1 0 8.4 0a4.2 4.2 0 1 0 -8.4 0M418.3 437.7a4.2 4.2 0 1 0 8.4 0a4.2 4.2 0 1 0 -8.4 0M421.2 438.0a4.2 4.2 0 1 0 8.4 0a4.2 4.2 0 1 0 -8.4 0M422.8 430.2a4.2 4.2 0 1 0 8.4 0a4.2 4.2 0 1 0 -8.4 0M425.7 438.3a4.2 4.2 0 1 0 8.4 0a4.2 4.2 0 1 0 -8.4 0M428.0 440.7a4.2 4.2 0 1 0 8.4 0a4.2 4.2 0 1 0 -8.4 0M430.2 442.9a4.2 4.2 0 1 0 8.4 0a4.2 4.2 0 1 0 -8.4 0M432.6 448.3a4.2 4.2 0 1 0 8.4 0a4.2 4.2 0 1 0 -8.4 0M435.6 450.7a4.2 4.2 0 1 0 8.4 0a4.2 4.2 0 1 0 -8.4 0M437.6 456.0a4.2 4.2 0 1 0 8.4 0a4.2 4.2 0 1 0 -8.4 0M440.1 456.6a4.2 4.2 0 1 0 8.4 0a4.2 4.2 0 1 0 -8.4 0M443.2 458.6a4.2 4.2 0 1 0 8.4 0a4.2 4.2 0 1 0 -8.4 0M445.9 462.2a4.2 4.2 0 1 0 8.4 0a4.2 4.2 0 1 0 -8.4 0M448.4 468.5a4.2 4.2 0 1 0 8.4 0a4.2 4.2 0 1 0 -8.4 0M451.6 464.7a4.2 4.2 0 1 0 8.4 0a4.2 4.2 0 1 0 -8.4 0M453.2 466.3a4.2 4.2 0 1 0 8.4 0a4.2 4.2 0 1 0 -8.4 0M455.9 471.0a4.2 4.2 0 1 0 8.4 0a4.2 4.2 0 1 0 -8.4 0M463.1 454.9a4.2 4.2 0 1 0 8.4 0a4.2 4.2 0 1 0 -8.4 0M466.7 460.5a4.2 4.2 0 1 0 8.4 0a4.2 4.2 0 1 0 -8.4 0M469.8 471.1a4.2 4.2 0 1 0 8.4 0a4.2 4.2 0 1 0 -8.4 0M473.1 463.9a4.2 4.2 0 1 0 8.4 0a4.2 4.2 0 1 0 -8.4 0M475.8 459.6a4.2 4.2 0 1 0 8.4 0a4.2 4.2 0 1 0 -8.4 0M478.6 457.2a4.2 4.2 0 1 0 8.4 0a4.2 4.2 0 1 0 -8.4 0M481.2 452.6a4.2 4.2 0 1 0 8.4 0a4.2 4.2 0 1 0 -8.4 0M484.9 445.9a4.2 4.2 0 1 0 8.4 0a4.2 4.2 0 1 0 -8.4 0M488.3 439.8a4.2 4.2 0 1 0 8.4 0a4.2 4.2 0 1 0 -8.4 0M491.9 439.8a4.2 4.2 0 1 0 8.4 0a4.2 4.2 0 1 0 -8.4 0M496.3 435.4a4.2 4.2 0 1 0 8.4 0a4.2 4.2 0 1 0 -8.4 0M499.6 457.5a4.2 4.2 0 1 0 8.4 0a4.2 4.2 0 1 0 -8.4 0M503.1 455.2a4.2 4.2 0 1 0 8.4 0a4.2 4.2 0 1 0 -8.4 0M506.7 450.0a4.2 4.2 0 1 0 8.4 0a4.2 4.2 0 1 0 -8.4 0M509.8 452.6a4.2 4.2 0 1 0 8.4 0a4.2 4.2 0 1 0 -8.4 0M512.2 452.4a4.2 4.2 0 1 0 8.4 0a4.2 4.2 0 1 0 -8.4 0M514.3 455.8a4.2 4.2 0 1 0 8.4 0a4.2 4.2 0 1 0 -8.4 0M517.5 460.1a4.2 4.2 0 1 0 8.4 0a4.2 4.2 0 1 0 -8.4 0M539.2 450.9a4.2 4.2 0 1 0 8.4 0a4.2 4.2 0 1 0 -8.4 0M541.9 453.4a4.2 4.2 0 1 0 8.4 0a4.2 4.2 0 1 0 -8.4 0M545.1 454.6a4.2 4.2 0 1 0 8.4 0a4.2 4.2 0 1 0 -8.4 0M548.3 457.2a4.2 4.2 0 1 0 8.4 0a4.2 4.2 0 1 0 -8.4 0M551.4 455.0a4.2 4.2 0 1 0 8.4 0a4.2 4.2 0 1 0 -8.4 0M553.7 453.5a4.2 4.2 0 1 0 8.4 0a4.2 4.2 0 1 0 -8.4 0M557.0 457.3a4.2 4.2 0 1 0 8.4 0a4.2 4.2 0 1 0 -8.4 0M559.5 456.7a4.2 4.2 0 1 0 8.4 0a4.2 4.2 0 1 0 -8.4 0M562.4 452.8a4.2 4.2 0 1 0 8.4 0a4.2 4.2 0 1 0 -8.4 0M565.5 452.5a4.2 4.2 0 1 0 8.4 0a4.2 4.2 0 1 0 -8.4 0M568.8 449.2a4.2 4.2 0 1 0 8.4 0a4.2 4.2 0 1 0 -8.4 0M571.6 451.8a4.2 4.2 0 1 0 8.4 0a4.2 4.2 0 1 0 -8.4 0M573.9 451.7a4.2 4.2 0 1 0 8.4 0a4.2 4.2 0 1 0 -8.4 0M577.1 454.7a4.2 4.2 0 1 0 8.4 0a4.2 4.2 0 1 0 -8.4 0M579.8 452.5a4.2 4.2 0 1 0 8.4 0a4.2 4.2 0 1 0 -8.4 0M583.0 456.5a4.2 4.2 0 1 0 8.4 0a4.2 4.2 0 1 0 -8.4 0M586.1 455.5a4.2 4.2 0 1 0 8.4 0a4.2 4.2 0 1 0 -8.4 0M589.1 454.0a4.2 4.2 0 1 0 8.4 0a4.2 4.2 0 1 0 -8.4 0M591.4 448.9a4.2 4.2 0 1 0 8.4 0a4.2 4.2 0 1 0 -8.4 0M594.3 448.4a4.2 4.2 0 1 0 8.4 0a4.2 4.2 0 1 0 -8.4 0M597.2 445.7a4.2 4.2 0 1 0 8.4 0a4.2 4.2 0 1 0 -8.4 0M626.1 454.9a4.2 4.2 0 1 0 8.4 0a4.2 4.2 0 1 0 -8.4 0M629.0 459.1a4.2 4.2 0 1 0 8.4 0a4.2 4.2 0 1 0 -8.4 0M631.9 463.3a4.2 4.2 0 1 0 8.4 0a4.2 4.2 0 1 0 -8.4 0M634.5 467.5a4.2 4.2 0 1 0 8.4 0a4.2 4.2 0 1 0 -8.4 0M637.1 470.0a4.2 4.2 0 1 0 8.4 0a4.2 4.2 0 1 0 -8.4 0M658.4 451.9a4.2 4.2 0 1 0 8.4 0a4.2 4.2 0 1 0 -8.4 0M661.8 449.6a4.2 4.2 0 1 0 8.4 0a4.2 4.2 0 1 0 -8.4 0M665.8 450.0a4.2 4.2 0 1 0 8.4 0a4.2 4.2 0 1 0 -8.4 0" stroke="#0000a8" stroke-width="3.4" fill="none"/>
<text x="313.2" y="369.5" class="mu" fill="#b00000">&#956;&#8242;</text>
<text x="308.7" y="509.3" class="mu" fill="#0000c8">&#956;&#8242;&#8242;</text>
<path d="M721.8 79.4a4.2 4.2 0 1 0 8.4 0a4.2 4.2 0 1 0 -8.4 0M725.7 87.2a4.2 4.2 0 1 0 8.4 0a4.2 4.2 0 1 0 -8.4 0M719.5 124.4a4.2 4.2 0 1 0 8.4 0a4.2 4.2 0 1 0 -8.4 0M734.2 171.5a4.2 4.2 0 1 0 8.4 0a4.2 4.2 0 1 0 -8.4 0M776.9 178.8a4.2 4.2 0 1 0 8.4 0a4.2 4.2 0 1 0 -8.4 0M728.5 191.2a4.2 4.2 0 1 0 8.4 0a4.2 4.2 0 1 0 -8.4 0M773.8 195.9a4.2 4.2 0 1 0 8.4 0a4.2 4.2 0 1 0 -8.4 0M737.3 206.7a4.2 4.2 0 1 0 8.4 0a4.2 4.2 0 1 0 -8.4 0M731.9 212.2a4.2 4.2 0 1 0 8.4 0a4.2 4.2 0 1 0 -8.4 0M746.6 239.3a4.2 4.2 0 1 0 8.4 0a4.2 4.2 0 1 0 -8.4 0M759.1 251.0a4.2 4.2 0 1 0 8.4 0a4.2 4.2 0 1 0 -8.4 0M761.4 256.4a4.2 4.2 0 1 0 8.4 0a4.2 4.2 0 1 0 -8.4 0M741.2 264.2a4.2 4.2 0 1 0 8.4 0a4.2 4.2 0 1 0 -8.4 0M788.6 269.6a4.2 4.2 0 1 0 8.4 0a4.2 4.2 0 1 0 -8.4 0M785.5 276.6a4.2 4.2 0 1 0 8.4 0a4.2 4.2 0 1 0 -8.4 0M755.9 289.0a4.2 4.2 0 1 0 8.4 0a4.2 4.2 0 1 0 -8.4 0M764.5 289.0a4.2 4.2 0 1 0 8.4 0a4.2 4.2 0 1 0 -8.4 0M770.7 292.9a4.2 4.2 0 1 0 8.4 0a4.2 4.2 0 1 0 -8.4 0M782.3 291.4a4.2 4.2 0 1 0 8.4 0a4.2 4.2 0 1 0 -8.4 0M779.2 298.4a4.2 4.2 0 1 0 8.4 0a4.2 4.2 0 1 0 -8.4 0M749.8 306.9a4.2 4.2 0 1 0 8.4 0a4.2 4.2 0 1 0 -8.4 0M743.5 314.7a4.2 4.2 0 1 0 8.4 0a4.2 4.2 0 1 0 -8.4 0M752.8 334.8a4.2 4.2 0 1 0 8.4 0a4.2 4.2 0 1 0 -8.4 0M767.6 332.5a4.2 4.2 0 1 0 8.4 0a4.2 4.2 0 1 0 -8.4 0M791.7 328.6a4.2 4.2 0 1 0 8.4 0a4.2 4.2 0 1 0 -8.4 0M795.5 339.5a4.2 4.2 0 1 0 8.4 0a4.2 4.2 0 1 0 -8.4 0M797.6 367.3a4.2 4.2 0 1 0 8.4 0a4.2 4.2 0 1 0 -8.4 0M714.8 380.7a4.2 4.2 0 1 0 8.4 0a4.2 4.2 0 1 0 -8.4 0M802.3 395.2a4.2 4.2 0 1 0 8.4 0a4.2 4.2 0 1 0 -8.4 0M806.9 426.8a4.2 4.2 0 1 0 8.4 0a4.2 4.2 0 1 0 -8.4 0M811.1 438.2a4.2 4.2 0 1 0 8.4 0a4.2 4.2 0 1 0 -8.4 0M827.1 426.3a4.2 4.2 0 1 0 8.4 0a4.2 4.2 0 1 0 -8.4 0M830.7 437.7a4.2 4.2 0 1 0 8.4 0a4.2 4.2 0 1 0 -8.4 0M834.9 450.1a4.2 4.2 0 1 0 8.4 0a4.2 4.2 0 1 0 -8.4 0M816.2 461.5a4.2 4.2 0 1 0 8.4 0a4.2 4.2 0 1 0 -8.4 0M822.5 466.6a4.2 4.2 0 1 0 8.4 0a4.2 4.2 0 1 0 -8.4 0M843.2 409.7a4.2 4.2 0 1 0 8.4 0a4.2 4.2 0 1 0 -8.4 0M857.7 424.2a4.2 4.2 0 1 0 8.4 0a4.2 4.2 0 1 0 -8.4 0M861.8 405.6a4.2 4.2 0 1 0 8.4 0a4.2 4.2 0 1 0 -8.4 0M867.0 412.8a4.2 4.2 0 1 0 8.4 0a4.2 4.2 0 1 0 -8.4 0M870.1 420.1a4.2 4.2 0 1 0 8.4 0a4.2 4.2 0 1 0 -8.4 0M875.8 398.8a4.2 4.2 0 1 0 8.4 0a4.2 4.2 0 1 0 -8.4 0M878.4 409.7a4.2 4.2 0 1 0 8.4 0a4.2 4.2 0 1 0 -8.4 0M884.6 419.0a4.2 4.2 0 1 0 8.4 0a4.2 4.2 0 1 0 -8.4 0M890.8 415.9a4.2 4.2 0 1 0 8.4 0a4.2 4.2 0 1 0 -8.4 0M893.9 421.1a4.2 4.2 0 1 0 8.4 0a4.2 4.2 0 1 0 -8.4 0M875.8 397.3a4.2 4.2 0 1 0 8.4 0a4.2 4.2 0 1 0 -8.4 0M886.2 415.9a4.2 4.2 0 1 0 8.4 0a4.2 4.2 0 1 0 -8.4 0M1010.1 418.7a4.2 4.2 0 1 0 8.4 0a4.2 4.2 0 1 0 -8.4 0M1034.1 406.7a4.2 4.2 0 1 0 8.4 0a4.2 4.2 0 1 0 -8.4 0M1079.7 420.9a4.2 4.2 0 1 0 8.4 0a4.2 4.2 0 1 0 -8.4 0M1092.8 416.5a4.2 4.2 0 1 0 8.4 0a4.2 4.2 0 1 0 -8.4 0M1100.4 412.2a4.2 4.2 0 1 0 8.4 0a4.2 4.2 0 1 0 -8.4 0M1138.4 411.1a4.2 4.2 0 1 0 8.4 0a4.2 4.2 0 1 0 -8.4 0M1162.3 416.5a4.2 4.2 0 1 0 8.4 0a4.2 4.2 0 1 0 -8.4 0M1192.8 411.1a4.2 4.2 0 1 0 8.4 0a4.2 4.2 0 1 0 -8.4 0M1197.1 422.0a4.2 4.2 0 1 0 8.4 0a4.2 4.2 0 1 0 -8.4 0M1277.5 439.3a4.2 4.2 0 1 0 8.4 0a4.2 4.2 0 1 0 -8.4 0M1308.0 405.7a4.2 4.2 0 1 0 8.4 0a4.2 4.2 0 1 0 -8.4 0M1309.1 414.3a4.2 4.2 0 1 0 8.4 0a4.2 4.2 0 1 0 -8.4 0M1281.9 425.2a4.2 4.2 0 1 0 8.4 0a4.2 4.2 0 1 0 -8.4 0M892.1 400.6a4.2 4.2 0 1 0 8.4 0a4.2 4.2 0 1 0 -8.4 0M894.8 401.8a4.2 4.2 0 1 0 8.4 0a4.2 4.2 0 1 0 -8.4 0M897.5 405.2a4.2 4.2 0 1 0 8.4 0a4.2 4.2 0 1 0 -8.4 0M899.3 406.7a4.2 4.2 0 1 0 8.4 0a4.2 4.2 0 1 0 -8.4 0M902.5 404.5a4.2 4.2 0 1 0 8.4 0a4.2 4.2 0 1 0 -8.4 0M903.8 409.7a4.2 4.2 0 1 0 8.4 0a4.2 4.2 0 1 0 -8.4 0M907.2 409.1a4.2 4.2 0 1 0 8.4 0a4.2 4.2 0 1 0 -8.4 0M908.8 407.4a4.2 4.2 0 1 0 8.4 0a4.2 4.2 0 1 0 -8.4 0M911.7 408.9a4.2 4.2 0 1 0 8.4 0a4.2 4.2 0 1 0 -8.4 0M915.2 409.3a4.2 4.2 0 1 0 8.4 0a4.2 4.2 0 1 0 -8.4 0M917.7 403.0a4.2 4.2 0 1 0 8.4 0a4.2 4.2 0 1 0 -8.4 0M920.2 407.1a4.2 4.2 0 1 0 8.4 0a4.2 4.2 0 1 0 -8.4 0M921.8 406.7a4.2 4.2 0 1 0 8.4 0a4.2 4.2 0 1 0 -8.4 0M924.4 406.4a4.2 4.2 0 1 0 8.4 0a4.2 4.2 0 1 0 -8.4 0M927.1 406.3a4.2 4.2 0 1 0 8.4 0a4.2 4.2 0 1 0 -8.4 0M930.5 401.8a4.2 4.2 0 1 0 8.4 0a4.2 4.2 0 1 0 -8.4 0M932.0 402.1a4.2 4.2 0 1 0 8.4 0a4.2 4.2 0 1 0 -8.4 0M935.3 399.7a4.2 4.2 0 1 0 8.4 0a4.2 4.2 0 1 0 -8.4 0M937.4 401.6a4.2 4.2 0 1 0 8.4 0a4.2 4.2 0 1 0 -8.4 0M940.1 397.8a4.2 4.2 0 1 0 8.4 0a4.2 4.2 0 1 0 -8.4 0M941.8 397.5a4.2 4.2 0 1 0 8.4 0a4.2 4.2 0 1 0 -8.4 0M944.9 398.6a4.2 4.2 0 1 0 8.4 0a4.2 4.2 0 1 0 -8.4 0M946.5 393.0a4.2 4.2 0 1 0 8.4 0a4.2 4.2 0 1 0 -8.4 0M949.9 396.0a4.2 4.2 0 1 0 8.4 0a4.2 4.2 0 1 0 -8.4 0M952.1 397.6a4.2 4.2 0 1 0 8.4 0a4.2 4.2 0 1 0 -8.4 0M954.5 401.2a4.2 4.2 0 1 0 8.4 0a4.2 4.2 0 1 0 -8.4 0M957.0 407.2a4.2 4.2 0 1 0 8.4 0a4.2 4.2 0 1 0 -8.4 0M959.1 400.1a4.2 4.2 0 1 0 8.4 0a4.2 4.2 0 1 0 -8.4 0M961.8 403.6a4.2 4.2 0 1 0 8.4 0a4.2 4.2 0 1 0 -8.4 0M964.6 399.3a4.2 4.2 0 1 0 8.4 0a4.2 4.2 0 1 0 -8.4 0M967.6 397.2a4.2 4.2 0 1 0 8.4 0a4.2 4.2 0 1 0 -8.4 0M969.8 395.9a4.2 4.2 0 1 0 8.4 0a4.2 4.2 0 1 0 -8.4 0M972.4 394.5a4.2 4.2 0 1 0 8.4 0a4.2 4.2 0 1 0 -8.4 0M975.1 392.2a4.2 4.2 0 1 0 8.4 0a4.2 4.2 0 1 0 -8.4 0M977.1 388.5a4.2 4.2 0 1 0 8.4 0a4.2 4.2 0 1 0 -8.4 0M980.6 391.9a4.2 4.2 0 1 0 8.4 0a4.2 4.2 0 1 0 -8.4 0M982.1 387.2a4.2 4.2 0 1 0 8.4 0a4.2 4.2 0 1 0 -8.4 0M984.6 387.9a4.2 4.2 0 1 0 8.4 0a4.2 4.2 0 1 0 -8.4 0M987.8 389.3a4.2 4.2 0 1 0 8.4 0a4.2 4.2 0 1 0 -8.4 0M990.6 389.5a4.2 4.2 0 1 0 8.4 0a4.2 4.2 0 1 0 -8.4 0M992.2 392.6a4.2 4.2 0 1 0 8.4 0a4.2 4.2 0 1 0 -8.4 0M994.7 394.7a4.2 4.2 0 1 0 8.4 0a4.2 4.2 0 1 0 -8.4 0M997.1 399.3a4.2 4.2 0 1 0 8.4 0a4.2 4.2 0 1 0 -8.4 0M999.2 405.7a4.2 4.2 0 1 0 8.4 0a4.2 4.2 0 1 0 -8.4 0M1002.0 403.6a4.2 4.2 0 1 0 8.4 0a4.2 4.2 0 1 0 -8.4 0M1004.8 402.2a4.2 4.2 0 1 0 8.4 0a4.2 4.2 0 1 0 -8.4 0M1007.8 406.7a4.2 4.2 0 1 0 8.4 0a4.2 4.2 0 1 0 -8.4 0M1010.6 407.4a4.2 4.2 0 1 0 8.4 0a4.2 4.2 0 1 0 -8.4 0M1012.4 404.5a4.2 4.2 0 1 0 8.4 0a4.2 4.2 0 1 0 -8.4 0M1014.2 395.5a4.2 4.2 0 1 0 8.4 0a4.2 4.2 0 1 0 -8.4 0M1017.2 396.6a4.2 4.2 0 1 0 8.4 0a4.2 4.2 0 1 0 -8.4 0M1019.1 393.3a4.2 4.2 0 1 0 8.4 0a4.2 4.2 0 1 0 -8.4 0M1021.5 395.8a4.2 4.2 0 1 0 8.4 0a4.2 4.2 0 1 0 -8.4 0M1024.1 393.1a4.2 4.2 0 1 0 8.4 0a4.2 4.2 0 1 0 -8.4 0M1026.7 394.7a4.2 4.2 0 1 0 8.4 0a4.2 4.2 0 1 0 -8.4 0M1029.1 397.6a4.2 4.2 0 1 0 8.4 0a4.2 4.2 0 1 0 -8.4 0M1031.1 394.8a4.2 4.2 0 1 0 8.4 0a4.2 4.2 0 1 0 -8.4 0M1033.6 392.7a4.2 4.2 0 1 0 8.4 0a4.2 4.2 0 1 0 -8.4 0M1035.7 398.3a4.2 4.2 0 1 0 8.4 0a4.2 4.2 0 1 0 -8.4 0M1038.9 395.1a4.2 4.2 0 1 0 8.4 0a4.2 4.2 0 1 0 -8.4 0M1041.5 392.9a4.2 4.2 0 1 0 8.4 0a4.2 4.2 0 1 0 -8.4 0M1044.7 393.6a4.2 4.2 0 1 0 8.4 0a4.2 4.2 0 1 0 -8.4 0M1047.6 391.0a4.2 4.2 0 1 0 8.4 0a4.2 4.2 0 1 0 -8.4 0M1049.1 386.6a4.2 4.2 0 1 0 8.4 0a4.2 4.2 0 1 0 -8.4 0M1051.7 387.4a4.2 4.2 0 1 0 8.4 0a4.2 4.2 0 1 0 -8.4 0M1053.7 384.7a4.2 4.2 0 1 0 8.4 0a4.2 4.2 0 1 0 -8.4 0M1056.5 390.1a4.2 4.2 0 1 0 8.4 0a4.2 4.2 0 1 0 -8.4 0M1059.1 387.0a4.2 4.2 0 1 0 8.4 0a4.2 4.2 0 1 0 -8.4 0M1061.8 388.9a4.2 4.2 0 1 0 8.4 0a4.2 4.2 0 1 0 -8.4 0M1063.4 391.0a4.2 4.2 0 1 0 8.4 0a4.2 4.2 0 1 0 -8.4 0M1066.0 389.3a4.2 4.2 0 1 0 8.4 0a4.2 4.2 0 1 0 -8.4 0M1069.0 395.2a4.2 4.2 0 1 0 8.4 0a4.2 4.2 0 1 0 -8.4 0M1071.6 399.5a4.2 4.2 0 1 0 8.4 0a4.2 4.2 0 1 0 -8.4 0M1073.9 402.6a4.2 4.2 0 1 0 8.4 0a4.2 4.2 0 1 0 -8.4 0M1077.2 404.6a4.2 4.2 0 1 0 8.4 0a4.2 4.2 0 1 0 -8.4 0M1079.2 406.8a4.2 4.2 0 1 0 8.4 0a4.2 4.2 0 1 0 -8.4 0M1083.0 409.7a4.2 4.2 0 1 0 8.4 0a4.2 4.2 0 1 0 -8.4 0M1084.6 406.6a4.2 4.2 0 1 0 8.4 0a4.2 4.2 0 1 0 -8.4 0M1088.0 405.4a4.2 4.2 0 1 0 8.4 0a4.2 4.2 0 1 0 -8.4 0M1090.1 407.9a4.2 4.2 0 1 0 8.4 0a4.2 4.2 0 1 0 -8.4 0M1093.5 407.2a4.2 4.2 0 1 0 8.4 0a4.2 4.2 0 1 0 -8.4 0M1096.3 402.6a4.2 4.2 0 1 0 8.4 0a4.2 4.2 0 1 0 -8.4 0M1099.4 405.0a4.2 4.2 0 1 0 8.4 0a4.2 4.2 0 1 0 -8.4 0M1102.0 398.5a4.2 4.2 0 1 0 8.4 0a4.2 4.2 0 1 0 -8.4 0M1104.1 403.0a4.2 4.2 0 1 0 8.4 0a4.2 4.2 0 1 0 -8.4 0M1106.8 403.5a4.2 4.2 0 1 0 8.4 0a4.2 4.2 0 1 0 -8.4 0M1109.1 402.7a4.2 4.2 0 1 0 8.4 0a4.2 4.2 0 1 0 -8.4 0M1111.5 397.7a4.2 4.2 0 1 0 8.4 0a4.2 4.2 0 1 0 -8.4 0M1113.9 399.9a4.2 4.2 0 1 0 8.4 0a4.2 4.2 0 1 0 -8.4 0M1116.0 396.1a4.2 4.2 0 1 0 8.4 0a4.2 4.2 0 1 0 -8.4 0M1117.9 396.7a4.2 4.2 0 1 0 8.4 0a4.2 4.2 0 1 0 -8.4 0M1120.3 393.3a4.2 4.2 0 1 0 8.4 0a4.2 4.2 0 1 0 -8.4 0M1123.0 390.6a4.2 4.2 0 1 0 8.4 0a4.2 4.2 0 1 0 -8.4 0M1125.8 389.4a4.2 4.2 0 1 0 8.4 0a4.2 4.2 0 1 0 -8.4 0M1127.9 390.3a4.2 4.2 0 1 0 8.4 0a4.2 4.2 0 1 0 -8.4 0M1130.1 388.1a4.2 4.2 0 1 0 8.4 0a4.2 4.2 0 1 0 -8.4 0M1133.0 382.4a4.2 4.2 0 1 0 8.4 0a4.2 4.2 0 1 0 -8.4 0M1135.2 385.1a4.2 4.2 0 1 0 8.4 0a4.2 4.2 0 1 0 -8.4 0M1137.9 392.4a4.2 4.2 0 1 0 8.4 0a4.2 4.2 0 1 0 -8.4 0M1141.1 391.7a4.2 4.2 0 1 0 8.4 0a4.2 4.2 0 1 0 -8.4 0M1143.4 397.1a4.2 4.2 0 1 0 8.4 0a4.2 4.2 0 1 0 -8.4 0M1147.0 396.7a4.2 4.2 0 1 0 8.4 0a4.2 4.2 0 1 0 -8.4 0M1149.0 400.3a4.2 4.2 0 1 0 8.4 0a4.2 4.2 0 1 0 -8.4 0M1152.4 397.7a4.2 4.2 0 1 0 8.4 0a4.2 4.2 0 1 0 -8.4 0M1154.5 402.8a4.2 4.2 0 1 0 8.4 0a4.2 4.2 0 1 0 -8.4 0M1157.5 402.3a4.2 4.2 0 1 0 8.4 0a4.2 4.2 0 1 0 -8.4 0M1159.1 402.0a4.2 4.2 0 1 0 8.4 0a4.2 4.2 0 1 0 -8.4 0M1162.1 405.3a4.2 4.2 0 1 0 8.4 0a4.2 4.2 0 1 0 -8.4 0M1164.3 405.3a4.2 4.2 0 1 0 8.4 0a4.2 4.2 0 1 0 -8.4 0M1166.7 405.7a4.2 4.2 0 1 0 8.4 0a4.2 4.2 0 1 0 -8.4 0M1171.3 388.9a4.2 4.2 0 1 0 8.4 0a4.2 4.2 0 1 0 -8.4 0M1173.7 392.0a4.2 4.2 0 1 0 8.4 0a4.2 4.2 0 1 0 -8.4 0M1176.6 389.7a4.2 4.2 0 1 0 8.4 0a4.2 4.2 0 1 0 -8.4 0M1179.1 390.5a4.2 4.2 0 1 0 8.4 0a4.2 4.2 0 1 0 -8.4 0M1181.1 394.9a4.2 4.2 0 1 0 8.4 0a4.2 4.2 0 1 0 -8.4 0M1184.6 396.3a4.2 4.2 0 1 0 8.4 0a4.2 4.2 0 1 0 -8.4 0M1186.6 397.6a4.2 4.2 0 1 0 8.4 0a4.2 4.2 0 1 0 -8.4 0M1188.6 397.1a4.2 4.2 0 1 0 8.4 0a4.2 4.2 0 1 0 -8.4 0M1190.9 399.7a4.2 4.2 0 1 0 8.4 0a4.2 4.2 0 1 0 -8.4 0M1193.2 395.6a4.2 4.2 0 1 0 8.4 0a4.2 4.2 0 1 0 -8.4 0M1196.2 400.0a4.2 4.2 0 1 0 8.4 0a4.2 4.2 0 1 0 -8.4 0M1197.8 398.2a4.2 4.2 0 1 0 8.4 0a4.2 4.2 0 1 0 -8.4 0M1200.8 400.7a4.2 4.2 0 1 0 8.4 0a4.2 4.2 0 1 0 -8.4 0M1203.1 400.0a4.2 4.2 0 1 0 8.4 0a4.2 4.2 0 1 0 -8.4 0M1205.2 400.5a4.2 4.2 0 1 0 8.4 0a4.2 4.2 0 1 0 -8.4 0M1207.8 401.1a4.2 4.2 0 1 0 8.4 0a4.2 4.2 0 1 0 -8.4 0M1210.5 397.1a4.2 4.2 0 1 0 8.4 0a4.2 4.2 0 1 0 -8.4 0M1213.0 399.9a4.2 4.2 0 1 0 8.4 0a4.2 4.2 0 1 0 -8.4 0M1214.6 397.2a4.2 4.2 0 1 0 8.4 0a4.2 4.2 0 1 0 -8.4 0M1217.2 399.4a4.2 4.2 0 1 0 8.4 0a4.2 4.2 0 1 0 -8.4 0M1219.5 399.2a4.2 4.2 0 1 0 8.4 0a4.2 4.2 0 1 0 -8.4 0M1222.8 397.6a4.2 4.2 0 1 0 8.4 0a4.2 4.2 0 1 0 -8.4 0M1225.0 393.6a4.2 4.2 0 1 0 8.4 0a4.2 4.2 0 1 0 -8.4 0M1228.3 397.6a4.2 4.2 0 1 0 8.4 0a4.2 4.2 0 1 0 -8.4 0M1230.6 398.5a4.2 4.2 0 1 0 8.4 0a4.2 4.2 0 1 0 -8.4 0M1232.7 396.7a4.2 4.2 0 1 0 8.4 0a4.2 4.2 0 1 0 -8.4 0M1235.3 396.4a4.2 4.2 0 1 0 8.4 0a4.2 4.2 0 1 0 -8.4 0M1237.8 392.5a4.2 4.2 0 1 0 8.4 0a4.2 4.2 0 1 0 -8.4 0M1241.7 400.0a4.2 4.2 0 1 0 8.4 0a4.2 4.2 0 1 0 -8.4 0M1244.0 402.8a4.2 4.2 0 1 0 8.4 0a4.2 4.2 0 1 0 -8.4 0M1247.6 406.2a4.2 4.2 0 1 0 8.4 0a4.2 4.2 0 1 0 -8.4 0M1249.9 401.7a4.2 4.2 0 1 0 8.4 0a4.2 4.2 0 1 0 -8.4 0M1252.7 406.1a4.2 4.2 0 1 0 8.4 0a4.2 4.2 0 1 0 -8.4 0M1254.7 401.6a4.2 4.2 0 1 0 8.4 0a4.2 4.2 0 1 0 -8.4 0M1257.9 402.7a4.2 4.2 0 1 0 8.4 0a4.2 4.2 0 1 0 -8.4 0M1260.0 397.6a4.2 4.2 0 1 0 8.4 0a4.2 4.2 0 1 0 -8.4 0M1263.2 399.6a4.2 4.2 0 1 0 8.4 0a4.2 4.2 0 1 0 -8.4 0M1265.5 402.2a4.2 4.2 0 1 0 8.4 0a4.2 4.2 0 1 0 -8.4 0M1268.1 400.1a4.2 4.2 0 1 0 8.4 0a4.2 4.2 0 1 0 -8.4 0M1270.4 400.0a4.2 4.2 0 1 0 8.4 0a4.2 4.2 0 1 0 -8.4 0M1273.1 408.5a4.2 4.2 0 1 0 8.4 0a4.2 4.2 0 1 0 -8.4 0M1275.9 409.3a4.2 4.2 0 1 0 8.4 0a4.2 4.2 0 1 0 -8.4 0M1278.0 419.0a4.2 4.2 0 1 0 8.4 0a4.2 4.2 0 1 0 -8.4 0M1280.2 419.4a4.2 4.2 0 1 0 8.4 0a4.2 4.2 0 1 0 -8.4 0M1281.5 418.1a4.2 4.2 0 1 0 8.4 0a4.2 4.2 0 1 0 -8.4 0M1284.1 418.7a4.2 4.2 0 1 0 8.4 0a4.2 4.2 0 1 0 -8.4 0" stroke="#a50000" stroke-width="3.4" fill="none"/>
<path d="M716.4 161.7a4.2 4.2 0 1 0 8.4 0a4.2 4.2 0 1 0 -8.4 0M797.9 280.5a4.2 4.2 0 1 0 8.4 0a4.2 4.2 0 1 0 -8.4 0M794.3 296.0a4.2 4.2 0 1 0 8.4 0a4.2 4.2 0 1 0 -8.4 0M801.8 284.0a4.2 4.2 0 1 0 8.4 0a4.2 4.2 0 1 0 -8.4 0M807.8 292.5a4.2 4.2 0 1 0 8.4 0a4.2 4.2 0 1 0 -8.4 0M795.1 298.8a4.2 4.2 0 1 0 8.4 0a4.2 4.2 0 1 0 -8.4 0M806.4 289.8a4.2 4.2 0 1 0 8.4 0a4.2 4.2 0 1 0 -8.4 0M792.4 300.7a4.2 4.2 0 1 0 8.4 0a4.2 4.2 0 1 0 -8.4 0M811.1 324.0a4.2 4.2 0 1 0 8.4 0a4.2 4.2 0 1 0 -8.4 0M780.0 327.1a4.2 4.2 0 1 0 8.4 0a4.2 4.2 0 1 0 -8.4 0M781.6 334.1a4.2 4.2 0 1 0 8.4 0a4.2 4.2 0 1 0 -8.4 0M789.3 339.5a4.2 4.2 0 1 0 8.4 0a4.2 4.2 0 1 0 -8.4 0M741.2 345.7a4.2 4.2 0 1 0 8.4 0a4.2 4.2 0 1 0 -8.4 0M776.9 350.4a4.2 4.2 0 1 0 8.4 0a4.2 4.2 0 1 0 -8.4 0M815.7 344.2a4.2 4.2 0 1 0 8.4 0a4.2 4.2 0 1 0 -8.4 0M743.5 358.1a4.2 4.2 0 1 0 8.4 0a4.2 4.2 0 1 0 -8.4 0M764.5 356.6a4.2 4.2 0 1 0 8.4 0a4.2 4.2 0 1 0 -8.4 0M785.5 356.6a4.2 4.2 0 1 0 8.4 0a4.2 4.2 0 1 0 -8.4 0M818.8 356.6a4.2 4.2 0 1 0 8.4 0a4.2 4.2 0 1 0 -8.4 0M781.1 337.2a4.2 4.2 0 1 0 8.4 0a4.2 4.2 0 1 0 -8.4 0M788.8 339.8a4.2 4.2 0 1 0 8.4 0a4.2 4.2 0 1 0 -8.4 0M740.7 346.6a4.2 4.2 0 1 0 8.4 0a4.2 4.2 0 1 0 -8.4 0M776.9 350.2a4.2 4.2 0 1 0 8.4 0a4.2 4.2 0 1 0 -8.4 0M786.2 358.5a4.2 4.2 0 1 0 8.4 0a4.2 4.2 0 1 0 -8.4 0M764.5 359.0a4.2 4.2 0 1 0 8.4 0a4.2 4.2 0 1 0 -8.4 0M743.8 361.1a4.2 4.2 0 1 0 8.4 0a4.2 4.2 0 1 0 -8.4 0M729.3 368.3a4.2 4.2 0 1 0 8.4 0a4.2 4.2 0 1 0 -8.4 0M725.7 377.1a4.2 4.2 0 1 0 8.4 0a4.2 4.2 0 1 0 -8.4 0M749.5 373.5a4.2 4.2 0 1 0 8.4 0a4.2 4.2 0 1 0 -8.4 0M767.6 374.5a4.2 4.2 0 1 0 8.4 0a4.2 4.2 0 1 0 -8.4 0M761.4 377.1a4.2 4.2 0 1 0 8.4 0a4.2 4.2 0 1 0 -8.4 0M737.6 382.3a4.2 4.2 0 1 0 8.4 0a4.2 4.2 0 1 0 -8.4 0M731.9 389.0a4.2 4.2 0 1 0 8.4 0a4.2 4.2 0 1 0 -8.4 0M746.9 390.0a4.2 4.2 0 1 0 8.4 0a4.2 4.2 0 1 0 -8.4 0M759.3 384.3a4.2 4.2 0 1 0 8.4 0a4.2 4.2 0 1 0 -8.4 0M754.7 401.4a4.2 4.2 0 1 0 8.4 0a4.2 4.2 0 1 0 -8.4 0M751.5 404.5a4.2 4.2 0 1 0 8.4 0a4.2 4.2 0 1 0 -8.4 0M773.8 403.0a4.2 4.2 0 1 0 8.4 0a4.2 4.2 0 1 0 -8.4 0M771.2 411.3a4.2 4.2 0 1 0 8.4 0a4.2 4.2 0 1 0 -8.4 0M716.9 402.5a4.2 4.2 0 1 0 8.4 0a4.2 4.2 0 1 0 -8.4 0M721.5 413.9a4.2 4.2 0 1 0 8.4 0a4.2 4.2 0 1 0 -8.4 0M815.2 344.5a4.2 4.2 0 1 0 8.4 0a4.2 4.2 0 1 0 -8.4 0M818.3 358.5a4.2 4.2 0 1 0 8.4 0a4.2 4.2 0 1 0 -8.4 0M822.5 371.4a4.2 4.2 0 1 0 8.4 0a4.2 4.2 0 1 0 -8.4 0M828.7 383.8a4.2 4.2 0 1 0 8.4 0a4.2 4.2 0 1 0 -8.4 0M833.8 398.3a4.2 4.2 0 1 0 8.4 0a4.2 4.2 0 1 0 -8.4 0M824.0 404.0a4.2 4.2 0 1 0 8.4 0a4.2 4.2 0 1 0 -8.4 0M836.4 414.9a4.2 4.2 0 1 0 8.4 0a4.2 4.2 0 1 0 -8.4 0M846.3 420.1a4.2 4.2 0 1 0 8.4 0a4.2 4.2 0 1 0 -8.4 0M839.0 430.4a4.2 4.2 0 1 0 8.4 0a4.2 4.2 0 1 0 -8.4 0M857.7 448.0a4.2 4.2 0 1 0 8.4 0a4.2 4.2 0 1 0 -8.4 0M872.1 451.1a4.2 4.2 0 1 0 8.4 0a4.2 4.2 0 1 0 -8.4 0M878.4 427.3a4.2 4.2 0 1 0 8.4 0a4.2 4.2 0 1 0 -8.4 0M897.0 466.6a4.2 4.2 0 1 0 8.4 0a4.2 4.2 0 1 0 -8.4 0M878.9 426.3a4.2 4.2 0 1 0 8.4 0a4.2 4.2 0 1 0 -8.4 0M882.0 439.7a4.2 4.2 0 1 0 8.4 0a4.2 4.2 0 1 0 -8.4 0M896.5 466.6a4.2 4.2 0 1 0 8.4 0a4.2 4.2 0 1 0 -8.4 0M994.9 433.9a4.2 4.2 0 1 0 8.4 0a4.2 4.2 0 1 0 -8.4 0M1110.1 453.5a4.2 4.2 0 1 0 8.4 0a4.2 4.2 0 1 0 -8.4 0M1114.5 479.6a4.2 4.2 0 1 0 8.4 0a4.2 4.2 0 1 0 -8.4 0M1112.3 450.2a4.2 4.2 0 1 0 8.4 0a4.2 4.2 0 1 0 -8.4 0M1109.1 455.7a4.2 4.2 0 1 0 8.4 0a4.2 4.2 0 1 0 -8.4 0M1119.9 460.0a4.2 4.2 0 1 0 8.4 0a4.2 4.2 0 1 0 -8.4 0M1127.5 464.3a4.2 4.2 0 1 0 8.4 0a4.2 4.2 0 1 0 -8.4 0M1115.6 480.7a4.2 4.2 0 1 0 8.4 0a4.2 4.2 0 1 0 -8.4 0M1138.4 433.9a4.2 4.2 0 1 0 8.4 0a4.2 4.2 0 1 0 -8.4 0M1131.9 447.0a4.2 4.2 0 1 0 8.4 0a4.2 4.2 0 1 0 -8.4 0M1129.7 451.3a4.2 4.2 0 1 0 8.4 0a4.2 4.2 0 1 0 -8.4 0M1148.2 447.0a4.2 4.2 0 1 0 8.4 0a4.2 4.2 0 1 0 -8.4 0M1152.5 453.5a4.2 4.2 0 1 0 8.4 0a4.2 4.2 0 1 0 -8.4 0M1160.1 453.5a4.2 4.2 0 1 0 8.4 0a4.2 4.2 0 1 0 -8.4 0M1144.9 462.2a4.2 4.2 0 1 0 8.4 0a4.2 4.2 0 1 0 -8.4 0M1142.8 470.9a4.2 4.2 0 1 0 8.4 0a4.2 4.2 0 1 0 -8.4 0M1163.4 468.7a4.2 4.2 0 1 0 8.4 0a4.2 4.2 0 1 0 -8.4 0M1177.5 425.2a4.2 4.2 0 1 0 8.4 0a4.2 4.2 0 1 0 -8.4 0M1181.9 432.8a4.2 4.2 0 1 0 8.4 0a4.2 4.2 0 1 0 -8.4 0M1190.6 425.2a4.2 4.2 0 1 0 8.4 0a4.2 4.2 0 1 0 -8.4 0M1192.8 413.3a4.2 4.2 0 1 0 8.4 0a4.2 4.2 0 1 0 -8.4 0M1184.1 452.4a4.2 4.2 0 1 0 8.4 0a4.2 4.2 0 1 0 -8.4 0M1190.6 457.8a4.2 4.2 0 1 0 8.4 0a4.2 4.2 0 1 0 -8.4 0M1199.3 472.0a4.2 4.2 0 1 0 8.4 0a4.2 4.2 0 1 0 -8.4 0M1203.6 452.4a4.2 4.2 0 1 0 8.4 0a4.2 4.2 0 1 0 -8.4 0M1209.1 464.3a4.2 4.2 0 1 0 8.4 0a4.2 4.2 0 1 0 -8.4 0M1214.5 455.7a4.2 4.2 0 1 0 8.4 0a4.2 4.2 0 1 0 -8.4 0M1223.2 449.1a4.2 4.2 0 1 0 8.4 0a4.2 4.2 0 1 0 -8.4 0M1225.4 457.8a4.2 4.2 0 1 0 8.4 0a4.2 4.2 0 1 0 -8.4 0M1236.2 463.3a4.2 4.2 0 1 0 8.4 0a4.2 4.2 0 1 0 -8.4 0M1241.7 447.0a4.2 4.2 0 1 0 8.4 0a4.2 4.2 0 1 0 -8.4 0M1247.1 466.5a4.2 4.2 0 1 0 8.4 0a4.2 4.2 0 1 0 -8.4 0M1252.5 464.3a4.2 4.2 0 1 0 8.4 0a4.2 4.2 0 1 0 -8.4 0M1250.4 479.6a4.2 4.2 0 1 0 8.4 0a4.2 4.2 0 1 0 -8.4 0M1258.0 422.0a4.2 4.2 0 1 0 8.4 0a4.2 4.2 0 1 0 -8.4 0M1263.4 429.6a4.2 4.2 0 1 0 8.4 0a4.2 4.2 0 1 0 -8.4 0M1265.6 435.0a4.2 4.2 0 1 0 8.4 0a4.2 4.2 0 1 0 -8.4 0M1274.3 431.7a4.2 4.2 0 1 0 8.4 0a4.2 4.2 0 1 0 -8.4 0M1267.8 457.8a4.2 4.2 0 1 0 8.4 0a4.2 4.2 0 1 0 -8.4 0M1279.7 457.8a4.2 4.2 0 1 0 8.4 0a4.2 4.2 0 1 0 -8.4 0M1299.3 454.6a4.2 4.2 0 1 0 8.4 0a4.2 4.2 0 1 0 -8.4 0M1305.8 427.4a4.2 4.2 0 1 0 8.4 0a4.2 4.2 0 1 0 -8.4 0M1310.1 444.8a4.2 4.2 0 1 0 8.4 0a4.2 4.2 0 1 0 -8.4 0M1311.2 476.3a4.2 4.2 0 1 0 8.4 0a4.2 4.2 0 1 0 -8.4 0M841.7 430.8a4.2 4.2 0 1 0 8.4 0a4.2 4.2 0 1 0 -8.4 0M845.0 432.0a4.2 4.2 0 1 0 8.4 0a4.2 4.2 0 1 0 -8.4 0M847.2 433.6a4.2 4.2 0 1 0 8.4 0a4.2 4.2 0 1 0 -8.4 0M849.8 434.4a4.2 4.2 0 1 0 8.4 0a4.2 4.2 0 1 0 -8.4 0M852.4 434.8a4.2 4.2 0 1 0 8.4 0a4.2 4.2 0 1 0 -8.4 0M854.8 435.3a4.2 4.2 0 1 0 8.4 0a4.2 4.2 0 1 0 -8.4 0M857.0 435.5a4.2 4.2 0 1 0 8.4 0a4.2 4.2 0 1 0 -8.4 0M859.9 437.0a4.2 4.2 0 1 0 8.4 0a4.2 4.2 0 1 0 -8.4 0M862.0 437.7a4.2 4.2 0 1 0 8.4 0a4.2 4.2 0 1 0 -8.4 0M865.4 438.6a4.2 4.2 0 1 0 8.4 0a4.2 4.2 0 1 0 -8.4 0M868.2 439.5a4.2 4.2 0 1 0 8.4 0a4.2 4.2 0 1 0 -8.4 0M870.8 440.4a4.2 4.2 0 1 0 8.4 0a4.2 4.2 0 1 0 -8.4 0M872.9 440.9a4.2 4.2 0 1 0 8.4 0a4.2 4.2 0 1 0 -8.4 0M875.4 440.5a4.2 4.2 0 1 0 8.4 0a4.2 4.2 0 1 0 -8.4 0M877.4 439.7a4.2 4.2 0 1 0 8.4 0a4.2 4.2 0 1 0 -8.4 0M879.9 439.6a4.2 4.2 0 1 0 8.4 0a4.2 4.2 0 1 0 -8.4 0M882.1 437.9a4.2 4.2 0 1 0 8.4 0a4.2 4.2 0 1 0 -8.4 0M884.8 446.0a4.2 4.2 0 1 0 8.4 0a4.2 4.2 0 1 0 -8.4 0M888.6 453.9a4.2 4.2 0 1 0 8.4 0a4.2 4.2 0 1 0 -8.4 0M890.3 452.4a4.2 4.2 0 1 0 8.4 0a4.2 4.2 0 1 0 -8.4 0M892.5 450.5a4.2 4.2 0 1 0 8.4 0a4.2 4.2 0 1 0 -8.4 0M895.4 450.4a4.2 4.2 0 1 0 8.4 0a4.2 4.2 0 1 0 -8.4 0M897.9 453.3a4.2 4.2 0 1 0 8.4 0a4.2 4.2 0 1 0 -8.4 0M899.8 450.9a4.2 4.2 0 1 0 8.4 0a4.2 4.2 0 1 0 -8.4 0M902.2 450.5a4.2 4.2 0 1 0 8.4 0a4.2 4.2 0 1 0 -8.4 0M905.3 453.6a4.2 4.2 0 1 0 8.4 0a4.2 4.2 0 1 0 -8.4 0M907.3 452.9a4.2 4.2 0 1 0 8.4 0a4.2 4.2 0 1 0 -8.4 0M910.1 457.0a4.2 4.2 0 1 0 8.4 0a4.2 4.2 0 1 0 -8.4 0M912.8 458.7a4.2 4.2 0 1 0 8.4 0a4.2 4.2 0 1 0 -8.4 0M914.8 457.5a4.2 4.2 0 1 0 8.4 0a4.2 4.2 0 1 0 -8.4 0M917.0 457.7a4.2 4.2 0 1 0 8.4 0a4.2 4.2 0 1 0 -8.4 0M920.0 455.6a4.2 4.2 0 1 0 8.4 0a4.2 4.2 0 1 0 -8.4 0M922.4 456.0a4.2 4.2 0 1 0 8.4 0a4.2 4.2 0 1 0 -8.4 0M925.5 456.0a4.2 4.2 0 1 0 8.4 0a4.2 4.2 0 1 0 -8.4 0M927.2 454.5a4.2 4.2 0 1 0 8.4 0a4.2 4.2 0 1 0 -8.4 0M930.2 456.8a4.2 4.2 0 1 0 8.4 0a4.2 4.2 0 1 0 -8.4 0M932.8 455.8a4.2 4.2 0 1 0 8.4 0a4.2 4.2 0 1 0 -8.4 0M935.8 456.7a4.2 4.2 0 1 0 8.4 0a4.2 4.2 0 1 0 -8.4 0M938.4 461.2a4.2 4.2 0 1 0 8.4 0a4.2 4.2 0 1 0 -8.4 0M940.1 463.0a4.2 4.2 0 1 0 8.4 0a4.2 4.2 0 1 0 -8.4 0M942.9 466.9a4.2 4.2 0 1 0 8.4 0a4.2 4.2 0 1 0 -8.4 0M945.9 461.6a4.2 4.2 0 1 0 8.4 0a4.2 4.2 0 1 0 -8.4 0M948.4 452.3a4.2 4.2 0 1 0 8.4 0a4.2 4.2 0 1 0 -8.4 0M950.1 452.7a4.2 4.2 0 1 0 8.4 0a4.2 4.2 0 1 0 -8.4 0M953.3 456.2a4.2 4.2 0 1 0 8.4 0a4.2 4.2 0 1 0 -8.4 0M955.6 460.4a4.2 4.2 0 1 0 8.4 0a4.2 4.2 0 1 0 -8.4 0M958.0 463.8a4.2 4.2 0 1 0 8.4 0a4.2 4.2 0 1 0 -8.4 0M961.3 472.5a4.2 4.2 0 1 0 8.4 0a4.2 4.2 0 1 0 -8.4 0M963.1 467.6a4.2 4.2 0 1 0 8.4 0a4.2 4.2 0 1 0 -8.4 0M966.5 470.6a4.2 4.2 0 1 0 8.4 0a4.2 4.2 0 1 0 -8.4 0M968.5 468.6a4.2 4.2 0 1 0 8.4 0a4.2 4.2 0 1 0 -8.4 0M970.9 470.1a4.2 4.2 0 1 0 8.4 0a4.2 4.2 0 1 0 -8.4 0M973.8 464.9a4.2 4.2 0 1 0 8.4 0a4.2 4.2 0 1 0 -8.4 0M976.9 464.0a4.2 4.2 0 1 0 8.4 0a4.2 4.2 0 1 0 -8.4 0M979.4 464.4a4.2 4.2 0 1 0 8.4 0a4.2 4.2 0 1 0 -8.4 0M980.6 463.2a4.2 4.2 0 1 0 8.4 0a4.2 4.2 0 1 0 -8.4 0M983.9 461.0a4.2 4.2 0 1 0 8.4 0a4.2 4.2 0 1 0 -8.4 0M986.1 457.0a4.2 4.2 0 1 0 8.4 0a4.2 4.2 0 1 0 -8.4 0M988.1 458.8a4.2 4.2 0 1 0 8.4 0a4.2 4.2 0 1 0 -8.4 0M990.6 451.8a4.2 4.2 0 1 0 8.4 0a4.2 4.2 0 1 0 -8.4 0M993.1 453.8a4.2 4.2 0 1 0 8.4 0a4.2 4.2 0 1 0 -8.4 0M995.5 452.0a4.2 4.2 0 1 0 8.4 0a4.2 4.2 0 1 0 -8.4 0M997.2 452.3a4.2 4.2 0 1 0 8.4 0a4.2 4.2 0 1 0 -8.4 0M999.6 449.2a4.2 4.2 0 1 0 8.4 0a4.2 4.2 0 1 0 -8.4 0M1002.4 449.5a4.2 4.2 0 1 0 8.4 0a4.2 4.2 0 1 0 -8.4 0M1004.7 450.0a4.2 4.2 0 1 0 8.4 0a4.2 4.2 0 1 0 -8.4 0M1006.9 446.5a4.2 4.2 0 1 0 8.4 0a4.2 4.2 0 1 0 -8.4 0M1009.6 446.7a4.2 4.2 0 1 0 8.4 0a4.2 4.2 0 1 0 -8.4 0M1012.4 449.9a4.2 4.2 0 1 0 8.4 0a4.2 4.2 0 1 0 -8.4 0M1014.6 451.2a4.2 4.2 0 1 0 8.4 0a4.2 4.2 0 1 0 -8.4 0M1016.7 446.9a4.2 4.2 0 1 0 8.4 0a4.2 4.2 0 1 0 -8.4 0M1019.8 449.3a4.2 4.2 0 1 0 8.4 0a4.2 4.2 0 1 0 -8.4 0M1023.2 449.3a4.2 4.2 0 1 0 8.4 0a4.2 4.2 0 1 0 -8.4 0M1025.0 451.7a4.2 4.2 0 1 0 8.4 0a4.2 4.2 0 1 0 -8.4 0M1027.9 454.5a4.2 4.2 0 1 0 8.4 0a4.2 4.2 0 1 0 -8.4 0M1030.3 455.4a4.2 4.2 0 1 0 8.4 0a4.2 4.2 0 1 0 -8.4 0M1033.0 460.4a4.2 4.2 0 1 0 8.4 0a4.2 4.2 0 1 0 -8.4 0M1035.9 456.5a4.2 4.2 0 1 0 8.4 0a4.2 4.2 0 1 0 -8.4 0M1038.5 462.0a4.2 4.2 0 1 0 8.4 0a4.2 4.2 0 1 0 -8.4 0M1041.1 463.8a4.2 4.2 0 1 0 8.4 0a4.2 4.2 0 1 0 -8.4 0M1044.4 462.4a4.2 4.2 0 1 0 8.4 0a4.2 4.2 0 1 0 -8.4 0M1046.4 460.7a4.2 4.2 0 1 0 8.4 0a4.2 4.2 0 1 0 -8.4 0M1049.9 459.4a4.2 4.2 0 1 0 8.4 0a4.2 4.2 0 1 0 -8.4 0M1052.6 456.1a4.2 4.2 0 1 0 8.4 0a4.2 4.2 0 1 0 -8.4 0M1055.8 456.1a4.2 4.2 0 1 0 8.4 0a4.2 4.2 0 1 0 -8.4 0M1058.3 453.8a4.2 4.2 0 1 0 8.4 0a4.2 4.2 0 1 0 -8.4 0M1060.5 445.9a4.2 4.2 0 1 0 8.4 0a4.2 4.2 0 1 0 -8.4 0M1063.9 443.8a4.2 4.2 0 1 0 8.4 0a4.2 4.2 0 1 0 -8.4 0M1066.5 440.8a4.2 4.2 0 1 0 8.4 0a4.2 4.2 0 1 0 -8.4 0M1069.4 432.9a4.2 4.2 0 1 0 8.4 0a4.2 4.2 0 1 0 -8.4 0M1071.3 439.7a4.2 4.2 0 1 0 8.4 0a4.2 4.2 0 1 0 -8.4 0M1072.7 438.1a4.2 4.2 0 1 0 8.4 0a4.2 4.2 0 1 0 -8.4 0M1074.9 445.4a4.2 4.2 0 1 0 8.4 0a4.2 4.2 0 1 0 -8.4 0M1077.4 448.6a4.2 4.2 0 1 0 8.4 0a4.2 4.2 0 1 0 -8.4 0M1079.4 456.5a4.2 4.2 0 1 0 8.4 0a4.2 4.2 0 1 0 -8.4 0M1082.5 460.8a4.2 4.2 0 1 0 8.4 0a4.2 4.2 0 1 0 -8.4 0M1085.3 463.1a4.2 4.2 0 1 0 8.4 0a4.2 4.2 0 1 0 -8.4 0M1088.0 467.0a4.2 4.2 0 1 0 8.4 0a4.2 4.2 0 1 0 -8.4 0M1090.7 468.4a4.2 4.2 0 1 0 8.4 0a4.2 4.2 0 1 0 -8.4 0M1094.5 468.4a4.2 4.2 0 1 0 8.4 0a4.2 4.2 0 1 0 -8.4 0M1097.0 472.8a4.2 4.2 0 1 0 8.4 0a4.2 4.2 0 1 0 -8.4 0M1099.3 477.2a4.2 4.2 0 1 0 8.4 0a4.2 4.2 0 1 0 -8.4 0M1101.5 479.6a4.2 4.2 0 1 0 8.4 0a4.2 4.2 0 1 0 -8.4 0M1208.9 460.9a4.2 4.2 0 1 0 8.4 0a4.2 4.2 0 1 0 -8.4 0M1210.9 462.5a4.2 4.2 0 1 0 8.4 0a4.2 4.2 0 1 0 -8.4 0M1213.7 459.9a4.2 4.2 0 1 0 8.4 0a4.2 4.2 0 1 0 -8.4 0M1215.6 458.4a4.2 4.2 0 1 0 8.4 0a4.2 4.2 0 1 0 -8.4 0M1218.2 455.9a4.2 4.2 0 1 0 8.4 0a4.2 4.2 0 1 0 -8.4 0M1220.4 457.2a4.2 4.2 0 1 0 8.4 0a4.2 4.2 0 1 0 -8.4 0M1223.1 456.9a4.2 4.2 0 1 0 8.4 0a4.2 4.2 0 1 0 -8.4 0M1225.9 456.0a4.2 4.2 0 1 0 8.4 0a4.2 4.2 0 1 0 -8.4 0M1228.6 457.5a4.2 4.2 0 1 0 8.4 0a4.2 4.2 0 1 0 -8.4 0M1230.3 456.6a4.2 4.2 0 1 0 8.4 0a4.2 4.2 0 1 0 -8.4 0M1233.0 462.1a4.2 4.2 0 1 0 8.4 0a4.2 4.2 0 1 0 -8.4 0M1235.7 460.0a4.2 4.2 0 1 0 8.4 0a4.2 4.2 0 1 0 -8.4 0M1237.9 463.2a4.2 4.2 0 1 0 8.4 0a4.2 4.2 0 1 0 -8.4 0M1240.8 462.0a4.2 4.2 0 1 0 8.4 0a4.2 4.2 0 1 0 -8.4 0" stroke="#0000a8" stroke-width="3.4" fill="none"/>
<text x="918.2" y="371.3" class="mu" fill="#b00000">&#956;&#8242;</text>
<text x="913.5" y="511.5" class="mu" fill="#0000c8">&#956;&#8242;&#8242;</text>
<path d="M1367.3 202.9a4.2 4.2 0 1 0 8.4 0a4.2 4.2 0 1 0 -8.4 0M1371.7 239.0a4.2 4.2 0 1 0 8.4 0a4.2 4.2 0 1 0 -8.4 0M1374.4 239.0a4.2 4.2 0 1 0 8.4 0a4.2 4.2 0 1 0 -8.4 0M1425.4 214.3a4.2 4.2 0 1 0 8.4 0a4.2 4.2 0 1 0 -8.4 0M1422.8 231.1a4.2 4.2 0 1 0 8.4 0a4.2 4.2 0 1 0 -8.4 0M1437.7 232.8a4.2 4.2 0 1 0 8.4 0a4.2 4.2 0 1 0 -8.4 0M1368.2 277.7a4.2 4.2 0 1 0 8.4 0a4.2 4.2 0 1 0 -8.4 0M1384.0 284.8a4.2 4.2 0 1 0 8.4 0a4.2 4.2 0 1 0 -8.4 0M1434.2 261.0a4.2 4.2 0 1 0 8.4 0a4.2 4.2 0 1 0 -8.4 0M1443.9 266.3a4.2 4.2 0 1 0 8.4 0a4.2 4.2 0 1 0 -8.4 0M1440.4 283.0a4.2 4.2 0 1 0 8.4 0a4.2 4.2 0 1 0 -8.4 0M1446.5 290.0a4.2 4.2 0 1 0 8.4 0a4.2 4.2 0 1 0 -8.4 0M1452.7 290.9a4.2 4.2 0 1 0 8.4 0a4.2 4.2 0 1 0 -8.4 0M1460.6 297.1a4.2 4.2 0 1 0 8.4 0a4.2 4.2 0 1 0 -8.4 0M1430.7 301.5a4.2 4.2 0 1 0 8.4 0a4.2 4.2 0 1 0 -8.4 0M1377.9 306.8a4.2 4.2 0 1 0 8.4 0a4.2 4.2 0 1 0 -8.4 0M1386.7 305.9a4.2 4.2 0 1 0 8.4 0a4.2 4.2 0 1 0 -8.4 0M1380.5 317.3a4.2 4.2 0 1 0 8.4 0a4.2 4.2 0 1 0 -8.4 0M1395.5 323.5a4.2 4.2 0 1 0 8.4 0a4.2 4.2 0 1 0 -8.4 0M1406.9 315.6a4.2 4.2 0 1 0 8.4 0a4.2 4.2 0 1 0 -8.4 0M1410.5 319.1a4.2 4.2 0 1 0 8.4 0a4.2 4.2 0 1 0 -8.4 0M1419.3 324.4a4.2 4.2 0 1 0 8.4 0a4.2 4.2 0 1 0 -8.4 0M1428.9 317.3a4.2 4.2 0 1 0 8.4 0a4.2 4.2 0 1 0 -8.4 0M1448.3 320.0a4.2 4.2 0 1 0 8.4 0a4.2 4.2 0 1 0 -8.4 0M1455.3 328.8a4.2 4.2 0 1 0 8.4 0a4.2 4.2 0 1 0 -8.4 0M1458.9 315.6a4.2 4.2 0 1 0 8.4 0a4.2 4.2 0 1 0 -8.4 0M1465.0 312.0a4.2 4.2 0 1 0 8.4 0a4.2 4.2 0 1 0 -8.4 0M1470.3 310.3a4.2 4.2 0 1 0 8.4 0a4.2 4.2 0 1 0 -8.4 0M1469.4 302.4a4.2 4.2 0 1 0 8.4 0a4.2 4.2 0 1 0 -8.4 0M1473.8 294.4a4.2 4.2 0 1 0 8.4 0a4.2 4.2 0 1 0 -8.4 0M1465.9 296.2a4.2 4.2 0 1 0 8.4 0a4.2 4.2 0 1 0 -8.4 0M1485.3 288.3a4.2 4.2 0 1 0 8.4 0a4.2 4.2 0 1 0 -8.4 0M1482.6 278.6a4.2 4.2 0 1 0 8.4 0a4.2 4.2 0 1 0 -8.4 0M1480.0 265.4a4.2 4.2 0 1 0 8.4 0a4.2 4.2 0 1 0 -8.4 0M1488.8 264.5a4.2 4.2 0 1 0 8.4 0a4.2 4.2 0 1 0 -8.4 0M1475.6 249.5a4.2 4.2 0 1 0 8.4 0a4.2 4.2 0 1 0 -8.4 0M1490.6 214.3a4.2 4.2 0 1 0 8.4 0a4.2 4.2 0 1 0 -8.4 0M1494.1 226.7a4.2 4.2 0 1 0 8.4 0a4.2 4.2 0 1 0 -8.4 0M1499.4 245.1a4.2 4.2 0 1 0 8.4 0a4.2 4.2 0 1 0 -8.4 0M1495.8 247.8a4.2 4.2 0 1 0 8.4 0a4.2 4.2 0 1 0 -8.4 0M1506.4 256.6a4.2 4.2 0 1 0 8.4 0a4.2 4.2 0 1 0 -8.4 0M1502.9 261.9a4.2 4.2 0 1 0 8.4 0a4.2 4.2 0 1 0 -8.4 0M1509.0 207.3a4.2 4.2 0 1 0 8.4 0a4.2 4.2 0 1 0 -8.4 0M1511.7 185.3a4.2 4.2 0 1 0 8.4 0a4.2 4.2 0 1 0 -8.4 0M1515.2 222.3a4.2 4.2 0 1 0 8.4 0a4.2 4.2 0 1 0 -8.4 0M1523.1 216.1a4.2 4.2 0 1 0 8.4 0a4.2 4.2 0 1 0 -8.4 0M1517.9 246.0a4.2 4.2 0 1 0 8.4 0a4.2 4.2 0 1 0 -8.4 0M1520.5 253.9a4.2 4.2 0 1 0 8.4 0a4.2 4.2 0 1 0 -8.4 0M1526.6 292.7a4.2 4.2 0 1 0 8.4 0a4.2 4.2 0 1 0 -8.4 0M1530.2 311.2a4.2 4.2 0 1 0 8.4 0a4.2 4.2 0 1 0 -8.4 0M1532.8 345.5a4.2 4.2 0 1 0 8.4 0a4.2 4.2 0 1 0 -8.4 0M1535.5 375.4a4.2 4.2 0 1 0 8.4 0a4.2 4.2 0 1 0 -8.4 0M1539.0 393.9a4.2 4.2 0 1 0 8.4 0a4.2 4.2 0 1 0 -8.4 0M1543.4 417.7a4.2 4.2 0 1 0 8.4 0a4.2 4.2 0 1 0 -8.4 0M1547.8 442.3a4.2 4.2 0 1 0 8.4 0a4.2 4.2 0 1 0 -8.4 0M1550.4 463.4a4.2 4.2 0 1 0 8.4 0a4.2 4.2 0 1 0 -8.4 0M1555.7 479.3a4.2 4.2 0 1 0 8.4 0a4.2 4.2 0 1 0 -8.4 0M1389.3 349.0a4.2 4.2 0 1 0 8.4 0a4.2 4.2 0 1 0 -8.4 0M1404.3 345.5a4.2 4.2 0 1 0 8.4 0a4.2 4.2 0 1 0 -8.4 0M1414.0 343.7a4.2 4.2 0 1 0 8.4 0a4.2 4.2 0 1 0 -8.4 0M1399.0 369.3a4.2 4.2 0 1 0 8.4 0a4.2 4.2 0 1 0 -8.4 0M1415.7 368.4a4.2 4.2 0 1 0 8.4 0a4.2 4.2 0 1 0 -8.4 0M1392.0 379.8a4.2 4.2 0 1 0 8.4 0a4.2 4.2 0 1 0 -8.4 0M1401.7 380.7a4.2 4.2 0 1 0 8.4 0a4.2 4.2 0 1 0 -8.4 0M1548.0 416.3a4.2 4.2 0 1 0 8.4 0a4.2 4.2 0 1 0 -8.4 0M1549.1 442.4a4.2 4.2 0 1 0 8.4 0a4.2 4.2 0 1 0 -8.4 0M1550.1 463.0a4.2 4.2 0 1 0 8.4 0a4.2 4.2 0 1 0 -8.4 0M1553.8 481.0a4.2 4.2 0 1 0 8.4 0a4.2 4.2 0 1 0 -8.4 0M1658.8 421.7a4.2 4.2 0 1 0 8.4 0a4.2 4.2 0 1 0 -8.4 0M1681.7 407.6a4.2 4.2 0 1 0 8.4 0a4.2 4.2 0 1 0 -8.4 0M1726.2 423.9a4.2 4.2 0 1 0 8.4 0a4.2 4.2 0 1 0 -8.4 0M1748.0 414.1a4.2 4.2 0 1 0 8.4 0a4.2 4.2 0 1 0 -8.4 0M1749.2 413.8a4.2 4.2 0 1 0 8.4 0a4.2 4.2 0 1 0 -8.4 0M1785.7 409.2a4.2 4.2 0 1 0 8.4 0a4.2 4.2 0 1 0 -8.4 0M1810.7 418.3a4.2 4.2 0 1 0 8.4 0a4.2 4.2 0 1 0 -8.4 0M1840.3 411.5a4.2 4.2 0 1 0 8.4 0a4.2 4.2 0 1 0 -8.4 0M1843.8 420.6a4.2 4.2 0 1 0 8.4 0a4.2 4.2 0 1 0 -8.4 0M1890.4 409.2a4.2 4.2 0 1 0 8.4 0a4.2 4.2 0 1 0 -8.4 0M1916.6 420.6a4.2 4.2 0 1 0 8.4 0a4.2 4.2 0 1 0 -8.4 0M1956.5 401.3a4.2 4.2 0 1 0 8.4 0a4.2 4.2 0 1 0 -8.4 0M1957.6 411.5a4.2 4.2 0 1 0 8.4 0a4.2 4.2 0 1 0 -8.4 0M1556.8 480.0a4.2 4.2 0 1 0 8.4 0a4.2 4.2 0 1 0 -8.4 0M1559.0 475.5a4.2 4.2 0 1 0 8.4 0a4.2 4.2 0 1 0 -8.4 0M1560.8 466.7a4.2 4.2 0 1 0 8.4 0a4.2 4.2 0 1 0 -8.4 0M1563.5 465.5a4.2 4.2 0 1 0 8.4 0a4.2 4.2 0 1 0 -8.4 0M1566.2 459.7a4.2 4.2 0 1 0 8.4 0a4.2 4.2 0 1 0 -8.4 0M1567.8 454.2a4.2 4.2 0 1 0 8.4 0a4.2 4.2 0 1 0 -8.4 0M1570.4 449.4a4.2 4.2 0 1 0 8.4 0a4.2 4.2 0 1 0 -8.4 0M1572.9 441.3a4.2 4.2 0 1 0 8.4 0a4.2 4.2 0 1 0 -8.4 0M1576.2 442.9a4.2 4.2 0 1 0 8.4 0a4.2 4.2 0 1 0 -8.4 0M1578.9 435.4a4.2 4.2 0 1 0 8.4 0a4.2 4.2 0 1 0 -8.4 0M1581.7 433.4a4.2 4.2 0 1 0 8.4 0a4.2 4.2 0 1 0 -8.4 0M1584.2 430.9a4.2 4.2 0 1 0 8.4 0a4.2 4.2 0 1 0 -8.4 0M1587.1 424.5a4.2 4.2 0 1 0 8.4 0a4.2 4.2 0 1 0 -8.4 0M1588.7 418.8a4.2 4.2 0 1 0 8.4 0a4.2 4.2 0 1 0 -8.4 0M1592.0 413.3a4.2 4.2 0 1 0 8.4 0a4.2 4.2 0 1 0 -8.4 0M1593.7 412.5a4.2 4.2 0 1 0 8.4 0a4.2 4.2 0 1 0 -8.4 0M1597.0 415.7a4.2 4.2 0 1 0 8.4 0a4.2 4.2 0 1 0 -8.4 0M1599.9 413.9a4.2 4.2 0 1 0 8.4 0a4.2 4.2 0 1 0 -8.4 0M1601.9 417.6a4.2 4.2 0 1 0 8.4 0a4.2 4.2 0 1 0 -8.4 0M1604.8 411.5a4.2 4.2 0 1 0 8.4 0a4.2 4.2 0 1 0 -8.4 0M1608.1 412.7a4.2 4.2 0 1 0 8.4 0a4.2 4.2 0 1 0 -8.4 0M1611.5 406.7a4.2 4.2 0 1 0 8.4 0a4.2 4.2 0 1 0 -8.4 0M1614.2 404.8a4.2 4.2 0 1 0 8.4 0a4.2 4.2 0 1 0 -8.4 0M1616.3 404.2a4.2 4.2 0 1 0 8.4 0a4.2 4.2 0 1 0 -8.4 0M1619.5 403.1a4.2 4.2 0 1 0 8.4 0a4.2 4.2 0 1 0 -8.4 0M1622.0 404.1a4.2 4.2 0 1 0 8.4 0a4.2 4.2 0 1 0 -8.4 0M1625.0 394.0a4.2 4.2 0 1 0 8.4 0a4.2 4.2 0 1 0 -8.4 0M1627.2 395.0a4.2 4.2 0 1 0 8.4 0a4.2 4.2 0 1 0 -8.4 0M1630.7 394.6a4.2 4.2 0 1 0 8.4 0a4.2 4.2 0 1 0 -8.4 0M1633.8 398.4a4.2 4.2 0 1 0 8.4 0a4.2 4.2 0 1 0 -8.4 0M1635.9 400.3a4.2 4.2 0 1 0 8.4 0a4.2 4.2 0 1 0 -8.4 0M1638.3 400.5a4.2 4.2 0 1 0 8.4 0a4.2 4.2 0 1 0 -8.4 0M1640.6 406.4a4.2 4.2 0 1 0 8.4 0a4.2 4.2 0 1 0 -8.4 0M1643.7 406.8a4.2 4.2 0 1 0 8.4 0a4.2 4.2 0 1 0 -8.4 0M1646.4 404.0a4.2 4.2 0 1 0 8.4 0a4.2 4.2 0 1 0 -8.4 0M1649.5 404.5a4.2 4.2 0 1 0 8.4 0a4.2 4.2 0 1 0 -8.4 0M1652.1 406.4a4.2 4.2 0 1 0 8.4 0a4.2 4.2 0 1 0 -8.4 0M1654.3 405.1a4.2 4.2 0 1 0 8.4 0a4.2 4.2 0 1 0 -8.4 0M1657.9 399.3a4.2 4.2 0 1 0 8.4 0a4.2 4.2 0 1 0 -8.4 0M1660.0 396.3a4.2 4.2 0 1 0 8.4 0a4.2 4.2 0 1 0 -8.4 0M1663.2 393.2a4.2 4.2 0 1 0 8.4 0a4.2 4.2 0 1 0 -8.4 0M1666.3 397.6a4.2 4.2 0 1 0 8.4 0a4.2 4.2 0 1 0 -8.4 0M1668.5 396.8a4.2 4.2 0 1 0 8.4 0a4.2 4.2 0 1 0 -8.4 0M1671.6 396.6a4.2 4.2 0 1 0 8.4 0a4.2 4.2 0 1 0 -8.4 0M1673.5 394.4a4.2 4.2 0 1 0 8.4 0a4.2 4.2 0 1 0 -8.4 0M1675.6 392.5a4.2 4.2 0 1 0 8.4 0a4.2 4.2 0 1 0 -8.4 0M1679.5 391.8a4.2 4.2 0 1 0 8.4 0a4.2 4.2 0 1 0 -8.4 0M1681.3 392.8a4.2 4.2 0 1 0 8.4 0a4.2 4.2 0 1 0 -8.4 0M1684.6 393.2a4.2 4.2 0 1 0 8.4 0a4.2 4.2 0 1 0 -8.4 0M1687.2 388.9a4.2 4.2 0 1 0 8.4 0a4.2 4.2 0 1 0 -8.4 0M1690.4 389.6a4.2 4.2 0 1 0 8.4 0a4.2 4.2 0 1 0 -8.4 0M1692.3 386.5a4.2 4.2 0 1 0 8.4 0a4.2 4.2 0 1 0 -8.4 0M1695.4 385.6a4.2 4.2 0 1 0 8.4 0a4.2 4.2 0 1 0 -8.4 0M1697.5 389.2a4.2 4.2 0 1 0 8.4 0a4.2 4.2 0 1 0 -8.4 0M1701.2 388.3a4.2 4.2 0 1 0 8.4 0a4.2 4.2 0 1 0 -8.4 0M1703.9 383.1a4.2 4.2 0 1 0 8.4 0a4.2 4.2 0 1 0 -8.4 0M1706.3 383.7a4.2 4.2 0 1 0 8.4 0a4.2 4.2 0 1 0 -8.4 0M1709.0 386.6a4.2 4.2 0 1 0 8.4 0a4.2 4.2 0 1 0 -8.4 0M1711.4 389.6a4.2 4.2 0 1 0 8.4 0a4.2 4.2 0 1 0 -8.4 0M1713.8 392.9a4.2 4.2 0 1 0 8.4 0a4.2 4.2 0 1 0 -8.4 0M1715.0 390.5a4.2 4.2 0 1 0 8.4 0a4.2 4.2 0 1 0 -8.4 0M1717.7 394.9a4.2 4.2 0 1 0 8.4 0a4.2 4.2 0 1 0 -8.4 0M1719.3 402.5a4.2 4.2 0 1 0 8.4 0a4.2 4.2 0 1 0 -8.4 0M1721.6 405.1a4.2 4.2 0 1 0 8.4 0a4.2 4.2 0 1 0 -8.4 0M1723.9 409.6a4.2 4.2 0 1 0 8.4 0a4.2 4.2 0 1 0 -8.4 0M1726.4 415.2a4.2 4.2 0 1 0 8.4 0a4.2 4.2 0 1 0 -8.4 0M1728.0 412.6a4.2 4.2 0 1 0 8.4 0a4.2 4.2 0 1 0 -8.4 0M1731.4 412.0a4.2 4.2 0 1 0 8.4 0a4.2 4.2 0 1 0 -8.4 0M1733.4 413.3a4.2 4.2 0 1 0 8.4 0a4.2 4.2 0 1 0 -8.4 0M1736.7 408.9a4.2 4.2 0 1 0 8.4 0a4.2 4.2 0 1 0 -8.4 0M1738.3 408.4a4.2 4.2 0 1 0 8.4 0a4.2 4.2 0 1 0 -8.4 0M1741.2 409.2a4.2 4.2 0 1 0 8.4 0a4.2 4.2 0 1 0 -8.4 0M1744.1 405.4a4.2 4.2 0 1 0 8.4 0a4.2 4.2 0 1 0 -8.4 0M1746.9 405.4a4.2 4.2 0 1 0 8.4 0a4.2 4.2 0 1 0 -8.4 0M1750.1 400.6a4.2 4.2 0 1 0 8.4 0a4.2 4.2 0 1 0 -8.4 0M1752.9 401.0a4.2 4.2 0 1 0 8.4 0a4.2 4.2 0 1 0 -8.4 0M1754.5 399.3a4.2 4.2 0 1 0 8.4 0a4.2 4.2 0 1 0 -8.4 0M1757.9 396.7a4.2 4.2 0 1 0 8.4 0a4.2 4.2 0 1 0 -8.4 0M1760.8 399.4a4.2 4.2 0 1 0 8.4 0a4.2 4.2 0 1 0 -8.4 0M1763.3 393.9a4.2 4.2 0 1 0 8.4 0a4.2 4.2 0 1 0 -8.4 0M1765.1 393.4a4.2 4.2 0 1 0 8.4 0a4.2 4.2 0 1 0 -8.4 0M1768.2 390.2a4.2 4.2 0 1 0 8.4 0a4.2 4.2 0 1 0 -8.4 0M1770.5 390.1a4.2 4.2 0 1 0 8.4 0a4.2 4.2 0 1 0 -8.4 0M1772.7 385.9a4.2 4.2 0 1 0 8.4 0a4.2 4.2 0 1 0 -8.4 0M1774.7 384.2a4.2 4.2 0 1 0 8.4 0a4.2 4.2 0 1 0 -8.4 0M1777.2 385.4a4.2 4.2 0 1 0 8.4 0a4.2 4.2 0 1 0 -8.4 0M1780.1 382.9a4.2 4.2 0 1 0 8.4 0a4.2 4.2 0 1 0 -8.4 0M1782.7 386.7a4.2 4.2 0 1 0 8.4 0a4.2 4.2 0 1 0 -8.4 0M1785.8 392.1a4.2 4.2 0 1 0 8.4 0a4.2 4.2 0 1 0 -8.4 0M1787.6 391.8a4.2 4.2 0 1 0 8.4 0a4.2 4.2 0 1 0 -8.4 0M1789.7 393.9a4.2 4.2 0 1 0 8.4 0a4.2 4.2 0 1 0 -8.4 0M1792.1 395.7a4.2 4.2 0 1 0 8.4 0a4.2 4.2 0 1 0 -8.4 0M1794.3 396.1a4.2 4.2 0 1 0 8.4 0a4.2 4.2 0 1 0 -8.4 0M1797.6 396.5a4.2 4.2 0 1 0 8.4 0a4.2 4.2 0 1 0 -8.4 0M1799.9 395.9a4.2 4.2 0 1 0 8.4 0a4.2 4.2 0 1 0 -8.4 0M1801.1 399.7a4.2 4.2 0 1 0 8.4 0a4.2 4.2 0 1 0 -8.4 0M1803.8 401.1a4.2 4.2 0 1 0 8.4 0a4.2 4.2 0 1 0 -8.4 0M1805.8 401.5a4.2 4.2 0 1 0 8.4 0a4.2 4.2 0 1 0 -8.4 0M1808.4 402.4a4.2 4.2 0 1 0 8.4 0a4.2 4.2 0 1 0 -8.4 0M1817.1 390.1a4.2 4.2 0 1 0 8.4 0a4.2 4.2 0 1 0 -8.4 0M1819.8 389.1a4.2 4.2 0 1 0 8.4 0a4.2 4.2 0 1 0 -8.4 0M1823.5 392.7a4.2 4.2 0 1 0 8.4 0a4.2 4.2 0 1 0 -8.4 0M1826.1 390.4a4.2 4.2 0 1 0 8.4 0a4.2 4.2 0 1 0 -8.4 0M1828.6 395.5a4.2 4.2 0 1 0 8.4 0a4.2 4.2 0 1 0 -8.4 0M1831.1 395.1a4.2 4.2 0 1 0 8.4 0a4.2 4.2 0 1 0 -8.4 0M1833.3 394.1a4.2 4.2 0 1 0 8.4 0a4.2 4.2 0 1 0 -8.4 0M1835.7 394.8a4.2 4.2 0 1 0 8.4 0a4.2 4.2 0 1 0 -8.4 0M1838.9 395.6a4.2 4.2 0 1 0 8.4 0a4.2 4.2 0 1 0 -8.4 0M1841.2 393.5a4.2 4.2 0 1 0 8.4 0a4.2 4.2 0 1 0 -8.4 0M1843.1 395.5a4.2 4.2 0 1 0 8.4 0a4.2 4.2 0 1 0 -8.4 0M1846.0 397.5a4.2 4.2 0 1 0 8.4 0a4.2 4.2 0 1 0 -8.4 0M1848.5 396.4a4.2 4.2 0 1 0 8.4 0a4.2 4.2 0 1 0 -8.4 0M1851.0 396.7a4.2 4.2 0 1 0 8.4 0a4.2 4.2 0 1 0 -8.4 0M1852.7 397.2a4.2 4.2 0 1 0 8.4 0a4.2 4.2 0 1 0 -8.4 0M1855.5 393.8a4.2 4.2 0 1 0 8.4 0a4.2 4.2 0 1 0 -8.4 0M1858.0 394.2a4.2 4.2 0 1 0 8.4 0a4.2 4.2 0 1 0 -8.4 0M1861.0 395.0a4.2 4.2 0 1 0 8.4 0a4.2 4.2 0 1 0 -8.4 0M1862.7 397.9a4.2 4.2 0 1 0 8.4 0a4.2 4.2 0 1 0 -8.4 0M1865.4 398.0a4.2 4.2 0 1 0 8.4 0a4.2 4.2 0 1 0 -8.4 0M1868.0 398.9a4.2 4.2 0 1 0 8.4 0a4.2 4.2 0 1 0 -8.4 0M1869.8 394.6a4.2 4.2 0 1 0 8.4 0a4.2 4.2 0 1 0 -8.4 0M1872.6 397.4a4.2 4.2 0 1 0 8.4 0a4.2 4.2 0 1 0 -8.4 0M1875.7 396.1a4.2 4.2 0 1 0 8.4 0a4.2 4.2 0 1 0 -8.4 0M1877.3 398.7a4.2 4.2 0 1 0 8.4 0a4.2 4.2 0 1 0 -8.4 0M1879.7 393.7a4.2 4.2 0 1 0 8.4 0a4.2 4.2 0 1 0 -8.4 0M1882.3 396.5a4.2 4.2 0 1 0 8.4 0a4.2 4.2 0 1 0 -8.4 0M1885.1 396.1a4.2 4.2 0 1 0 8.4 0a4.2 4.2 0 1 0 -8.4 0M1887.1 400.4a4.2 4.2 0 1 0 8.4 0a4.2 4.2 0 1 0 -8.4 0M1889.6 398.7a4.2 4.2 0 1 0 8.4 0a4.2 4.2 0 1 0 -8.4 0M1891.6 405.6a4.2 4.2 0 1 0 8.4 0a4.2 4.2 0 1 0 -8.4 0M1894.2 402.1a4.2 4.2 0 1 0 8.4 0a4.2 4.2 0 1 0 -8.4 0M1896.5 403.8a4.2 4.2 0 1 0 8.4 0a4.2 4.2 0 1 0 -8.4 0M1898.5 403.8a4.2 4.2 0 1 0 8.4 0a4.2 4.2 0 1 0 -8.4 0M1900.4 402.5a4.2 4.2 0 1 0 8.4 0a4.2 4.2 0 1 0 -8.4 0M1903.1 400.5a4.2 4.2 0 1 0 8.4 0a4.2 4.2 0 1 0 -8.4 0M1905.7 402.5a4.2 4.2 0 1 0 8.4 0a4.2 4.2 0 1 0 -8.4 0M1908.0 403.9a4.2 4.2 0 1 0 8.4 0a4.2 4.2 0 1 0 -8.4 0M1909.5 402.8a4.2 4.2 0 1 0 8.4 0a4.2 4.2 0 1 0 -8.4 0M1912.3 402.8a4.2 4.2 0 1 0 8.4 0a4.2 4.2 0 1 0 -8.4 0M1914.9 407.3a4.2 4.2 0 1 0 8.4 0a4.2 4.2 0 1 0 -8.4 0M1916.9 409.6a4.2 4.2 0 1 0 8.4 0a4.2 4.2 0 1 0 -8.4 0M1919.4 412.2a4.2 4.2 0 1 0 8.4 0a4.2 4.2 0 1 0 -8.4 0M1921.1 412.2a4.2 4.2 0 1 0 8.4 0a4.2 4.2 0 1 0 -8.4 0M1923.6 415.8a4.2 4.2 0 1 0 8.4 0a4.2 4.2 0 1 0 -8.4 0M1925.5 418.3a4.2 4.2 0 1 0 8.4 0a4.2 4.2 0 1 0 -8.4 0M1928.1 421.7a4.2 4.2 0 1 0 8.4 0a4.2 4.2 0 1 0 -8.4 0M1925.8 432.0a4.2 4.2 0 1 0 8.4 0a4.2 4.2 0 1 0 -8.4 0" stroke="#a50000" stroke-width="3.4" fill="none"/>
<path d="M1364.7 283.9a4.2 4.2 0 1 0 8.4 0a4.2 4.2 0 1 0 -8.4 0M1537.2 243.4a4.2 4.2 0 1 0 8.4 0a4.2 4.2 0 1 0 -8.4 0M1539.8 244.3a4.2 4.2 0 1 0 8.4 0a4.2 4.2 0 1 0 -8.4 0M1532.8 252.2a4.2 4.2 0 1 0 8.4 0a4.2 4.2 0 1 0 -8.4 0M1542.5 262.7a4.2 4.2 0 1 0 8.4 0a4.2 4.2 0 1 0 -8.4 0M1528.4 268.0a4.2 4.2 0 1 0 8.4 0a4.2 4.2 0 1 0 -8.4 0M1545.1 280.4a4.2 4.2 0 1 0 8.4 0a4.2 4.2 0 1 0 -8.4 0M1547.8 285.6a4.2 4.2 0 1 0 8.4 0a4.2 4.2 0 1 0 -8.4 0M1523.1 290.9a4.2 4.2 0 1 0 8.4 0a4.2 4.2 0 1 0 -8.4 0M1550.4 305.9a4.2 4.2 0 1 0 8.4 0a4.2 4.2 0 1 0 -8.4 0M1520.5 326.1a4.2 4.2 0 1 0 8.4 0a4.2 4.2 0 1 0 -8.4 0M1517.9 336.7a4.2 4.2 0 1 0 8.4 0a4.2 4.2 0 1 0 -8.4 0M1553.1 332.3a4.2 4.2 0 1 0 8.4 0a4.2 4.2 0 1 0 -8.4 0M1515.2 349.9a4.2 4.2 0 1 0 8.4 0a4.2 4.2 0 1 0 -8.4 0M1556.6 355.2a4.2 4.2 0 1 0 8.4 0a4.2 4.2 0 1 0 -8.4 0M1512.6 364.0a4.2 4.2 0 1 0 8.4 0a4.2 4.2 0 1 0 -8.4 0M1559.2 375.4a4.2 4.2 0 1 0 8.4 0a4.2 4.2 0 1 0 -8.4 0M1506.4 378.9a4.2 4.2 0 1 0 8.4 0a4.2 4.2 0 1 0 -8.4 0M1502.9 387.7a4.2 4.2 0 1 0 8.4 0a4.2 4.2 0 1 0 -8.4 0M1497.6 398.3a4.2 4.2 0 1 0 8.4 0a4.2 4.2 0 1 0 -8.4 0M1494.1 403.6a4.2 4.2 0 1 0 8.4 0a4.2 4.2 0 1 0 -8.4 0M1561.0 393.0a4.2 4.2 0 1 0 8.4 0a4.2 4.2 0 1 0 -8.4 0M1480.0 407.1a4.2 4.2 0 1 0 8.4 0a4.2 4.2 0 1 0 -8.4 0M1485.3 410.6a4.2 4.2 0 1 0 8.4 0a4.2 4.2 0 1 0 -8.4 0M1490.6 417.7a4.2 4.2 0 1 0 8.4 0a4.2 4.2 0 1 0 -8.4 0M1487.0 423.0a4.2 4.2 0 1 0 8.4 0a4.2 4.2 0 1 0 -8.4 0M1476.5 414.2a4.2 4.2 0 1 0 8.4 0a4.2 4.2 0 1 0 -8.4 0M1446.5 412.4a4.2 4.2 0 1 0 8.4 0a4.2 4.2 0 1 0 -8.4 0M1451.8 417.7a4.2 4.2 0 1 0 8.4 0a4.2 4.2 0 1 0 -8.4 0M1457.1 419.4a4.2 4.2 0 1 0 8.4 0a4.2 4.2 0 1 0 -8.4 0M1465.0 423.8a4.2 4.2 0 1 0 8.4 0a4.2 4.2 0 1 0 -8.4 0M1469.4 424.7a4.2 4.2 0 1 0 8.4 0a4.2 4.2 0 1 0 -8.4 0M1450.1 425.6a4.2 4.2 0 1 0 8.4 0a4.2 4.2 0 1 0 -8.4 0M1441.3 430.0a4.2 4.2 0 1 0 8.4 0a4.2 4.2 0 1 0 -8.4 0M1458.9 437.0a4.2 4.2 0 1 0 8.4 0a4.2 4.2 0 1 0 -8.4 0M1473.0 442.3a4.2 4.2 0 1 0 8.4 0a4.2 4.2 0 1 0 -8.4 0M1428.9 428.2a4.2 4.2 0 1 0 8.4 0a4.2 4.2 0 1 0 -8.4 0M1414.0 429.1a4.2 4.2 0 1 0 8.4 0a4.2 4.2 0 1 0 -8.4 0M1399.0 419.4a4.2 4.2 0 1 0 8.4 0a4.2 4.2 0 1 0 -8.4 0M1395.5 431.8a4.2 4.2 0 1 0 8.4 0a4.2 4.2 0 1 0 -8.4 0M1411.3 441.4a4.2 4.2 0 1 0 8.4 0a4.2 4.2 0 1 0 -8.4 0M1406.9 445.8a4.2 4.2 0 1 0 8.4 0a4.2 4.2 0 1 0 -8.4 0M1425.4 441.4a4.2 4.2 0 1 0 8.4 0a4.2 4.2 0 1 0 -8.4 0M1431.6 448.5a4.2 4.2 0 1 0 8.4 0a4.2 4.2 0 1 0 -8.4 0M1416.6 459.0a4.2 4.2 0 1 0 8.4 0a4.2 4.2 0 1 0 -8.4 0M1437.7 463.5a4.2 4.2 0 1 0 8.4 0a4.2 4.2 0 1 0 -8.4 0M1404.3 463.5a4.2 4.2 0 1 0 8.4 0a4.2 4.2 0 1 0 -8.4 0M1400.8 467.9a4.2 4.2 0 1 0 8.4 0a4.2 4.2 0 1 0 -8.4 0M1434.2 478.4a4.2 4.2 0 1 0 8.4 0a4.2 4.2 0 1 0 -8.4 0M1421.9 500.4a4.2 4.2 0 1 0 8.4 0a4.2 4.2 0 1 0 -8.4 0M1418.4 507.5a4.2 4.2 0 1 0 8.4 0a4.2 4.2 0 1 0 -8.4 0M1389.3 364.0a4.2 4.2 0 1 0 8.4 0a4.2 4.2 0 1 0 -8.4 0M1377.9 375.4a4.2 4.2 0 1 0 8.4 0a4.2 4.2 0 1 0 -8.4 0M1374.4 384.2a4.2 4.2 0 1 0 8.4 0a4.2 4.2 0 1 0 -8.4 0M1392.8 390.4a4.2 4.2 0 1 0 8.4 0a4.2 4.2 0 1 0 -8.4 0M1380.5 406.2a4.2 4.2 0 1 0 8.4 0a4.2 4.2 0 1 0 -8.4 0M1384.9 408.9a4.2 4.2 0 1 0 8.4 0a4.2 4.2 0 1 0 -8.4 0M1383.2 413.3a4.2 4.2 0 1 0 8.4 0a4.2 4.2 0 1 0 -8.4 0M1367.3 409.8a4.2 4.2 0 1 0 8.4 0a4.2 4.2 0 1 0 -8.4 0M1369.1 424.7a4.2 4.2 0 1 0 8.4 0a4.2 4.2 0 1 0 -8.4 0M1371.7 433.5a4.2 4.2 0 1 0 8.4 0a4.2 4.2 0 1 0 -8.4 0M1556.7 354.3a4.2 4.2 0 1 0 8.4 0a4.2 4.2 0 1 0 -8.4 0M1559.9 375.0a4.2 4.2 0 1 0 8.4 0a4.2 4.2 0 1 0 -8.4 0M1562.1 391.3a4.2 4.2 0 1 0 8.4 0a4.2 4.2 0 1 0 -8.4 0M1591.5 452.2a4.2 4.2 0 1 0 8.4 0a4.2 4.2 0 1 0 -8.4 0M1606.7 465.2a4.2 4.2 0 1 0 8.4 0a4.2 4.2 0 1 0 -8.4 0M1624.1 466.3a4.2 4.2 0 1 0 8.4 0a4.2 4.2 0 1 0 -8.4 0M1643.6 431.5a4.2 4.2 0 1 0 8.4 0a4.2 4.2 0 1 0 -8.4 0M1657.8 460.9a4.2 4.2 0 1 0 8.4 0a4.2 4.2 0 1 0 -8.4 0M1665.4 465.2a4.2 4.2 0 1 0 8.4 0a4.2 4.2 0 1 0 -8.4 0M1726.2 460.9a4.2 4.2 0 1 0 8.4 0a4.2 4.2 0 1 0 -8.4 0M1730.6 475.0a4.2 4.2 0 1 0 8.4 0a4.2 4.2 0 1 0 -8.4 0M1737.1 469.6a4.2 4.2 0 1 0 8.4 0a4.2 4.2 0 1 0 -8.4 0M1740.4 480.4a4.2 4.2 0 1 0 8.4 0a4.2 4.2 0 1 0 -8.4 0M1746.9 478.3a4.2 4.2 0 1 0 8.4 0a4.2 4.2 0 1 0 -8.4 0M1748.0 488.0a4.2 4.2 0 1 0 8.4 0a4.2 4.2 0 1 0 -8.4 0M1754.5 450.0a4.2 4.2 0 1 0 8.4 0a4.2 4.2 0 1 0 -8.4 0M1754.5 463.0a4.2 4.2 0 1 0 8.4 0a4.2 4.2 0 1 0 -8.4 0M1784.5 435.4a4.2 4.2 0 1 0 8.4 0a4.2 4.2 0 1 0 -8.4 0M1759.5 448.0a4.2 4.2 0 1 0 8.4 0a4.2 4.2 0 1 0 -8.4 0M1756.1 462.8a4.2 4.2 0 1 0 8.4 0a4.2 4.2 0 1 0 -8.4 0M1768.6 463.9a4.2 4.2 0 1 0 8.4 0a4.2 4.2 0 1 0 -8.4 0M1773.1 473.0a4.2 4.2 0 1 0 8.4 0a4.2 4.2 0 1 0 -8.4 0M1780.0 452.5a4.2 4.2 0 1 0 8.4 0a4.2 4.2 0 1 0 -8.4 0M1777.7 459.3a4.2 4.2 0 1 0 8.4 0a4.2 4.2 0 1 0 -8.4 0M1795.9 452.5a4.2 4.2 0 1 0 8.4 0a4.2 4.2 0 1 0 -8.4 0M1807.3 453.6a4.2 4.2 0 1 0 8.4 0a4.2 4.2 0 1 0 -8.4 0M1800.5 460.5a4.2 4.2 0 1 0 8.4 0a4.2 4.2 0 1 0 -8.4 0M1792.5 467.3a4.2 4.2 0 1 0 8.4 0a4.2 4.2 0 1 0 -8.4 0M1789.1 478.7a4.2 4.2 0 1 0 8.4 0a4.2 4.2 0 1 0 -8.4 0M1810.7 478.7a4.2 4.2 0 1 0 8.4 0a4.2 4.2 0 1 0 -8.4 0M1748.1 487.8a4.2 4.2 0 1 0 8.4 0a4.2 4.2 0 1 0 -8.4 0M1762.9 486.7a4.2 4.2 0 1 0 8.4 0a4.2 4.2 0 1 0 -8.4 0M1745.8 476.4a4.2 4.2 0 1 0 8.4 0a4.2 4.2 0 1 0 -8.4 0M1827.8 425.2a4.2 4.2 0 1 0 8.4 0a4.2 4.2 0 1 0 -8.4 0M1838.1 426.3a4.2 4.2 0 1 0 8.4 0a4.2 4.2 0 1 0 -8.4 0M1841.5 413.8a4.2 4.2 0 1 0 8.4 0a4.2 4.2 0 1 0 -8.4 0M1827.8 434.3a4.2 4.2 0 1 0 8.4 0a4.2 4.2 0 1 0 -8.4 0M1831.2 457.1a4.2 4.2 0 1 0 8.4 0a4.2 4.2 0 1 0 -8.4 0M1834.6 465.0a4.2 4.2 0 1 0 8.4 0a4.2 4.2 0 1 0 -8.4 0M1844.9 470.7a4.2 4.2 0 1 0 8.4 0a4.2 4.2 0 1 0 -8.4 0M1850.6 459.3a4.2 4.2 0 1 0 8.4 0a4.2 4.2 0 1 0 -8.4 0M1859.7 463.9a4.2 4.2 0 1 0 8.4 0a4.2 4.2 0 1 0 -8.4 0M1871.1 454.8a4.2 4.2 0 1 0 8.4 0a4.2 4.2 0 1 0 -8.4 0M1876.8 469.6a4.2 4.2 0 1 0 8.4 0a4.2 4.2 0 1 0 -8.4 0M1888.2 473.0a4.2 4.2 0 1 0 8.4 0a4.2 4.2 0 1 0 -8.4 0M1893.9 468.5a4.2 4.2 0 1 0 8.4 0a4.2 4.2 0 1 0 -8.4 0M1901.8 473.0a4.2 4.2 0 1 0 8.4 0a4.2 4.2 0 1 0 -8.4 0M1855.1 478.7a4.2 4.2 0 1 0 8.4 0a4.2 4.2 0 1 0 -8.4 0M1846.0 482.1a4.2 4.2 0 1 0 8.4 0a4.2 4.2 0 1 0 -8.4 0M1883.6 478.7a4.2 4.2 0 1 0 8.4 0a4.2 4.2 0 1 0 -8.4 0M1897.3 491.2a4.2 4.2 0 1 0 8.4 0a4.2 4.2 0 1 0 -8.4 0M1888.2 450.2a4.2 4.2 0 1 0 8.4 0a4.2 4.2 0 1 0 -8.4 0M1905.3 419.5a4.2 4.2 0 1 0 8.4 0a4.2 4.2 0 1 0 -8.4 0M1910.9 425.2a4.2 4.2 0 1 0 8.4 0a4.2 4.2 0 1 0 -8.4 0M1912.1 437.7a4.2 4.2 0 1 0 8.4 0a4.2 4.2 0 1 0 -8.4 0M1921.2 449.1a4.2 4.2 0 1 0 8.4 0a4.2 4.2 0 1 0 -8.4 0M1914.4 459.3a4.2 4.2 0 1 0 8.4 0a4.2 4.2 0 1 0 -8.4 0M1917.8 468.5a4.2 4.2 0 1 0 8.4 0a4.2 4.2 0 1 0 -8.4 0M1924.6 473.0a4.2 4.2 0 1 0 8.4 0a4.2 4.2 0 1 0 -8.4 0M1950.8 432.0a4.2 4.2 0 1 0 8.4 0a4.2 4.2 0 1 0 -8.4 0M1956.5 434.3a4.2 4.2 0 1 0 8.4 0a4.2 4.2 0 1 0 -8.4 0M1944.0 460.5a4.2 4.2 0 1 0 8.4 0a4.2 4.2 0 1 0 -8.4 0M1947.4 473.0a4.2 4.2 0 1 0 8.4 0a4.2 4.2 0 1 0 -8.4 0M1957.6 454.8a4.2 4.2 0 1 0 8.4 0a4.2 4.2 0 1 0 -8.4 0M1958.8 491.2a4.2 4.2 0 1 0 8.4 0a4.2 4.2 0 1 0 -8.4 0M1565.5 401.3a4.2 4.2 0 1 0 8.4 0a4.2 4.2 0 1 0 -8.4 0M1567.5 401.5a4.2 4.2 0 1 0 8.4 0a4.2 4.2 0 1 0 -8.4 0M1570.5 406.9a4.2 4.2 0 1 0 8.4 0a4.2 4.2 0 1 0 -8.4 0M1573.9 419.0a4.2 4.2 0 1 0 8.4 0a4.2 4.2 0 1 0 -8.4 0M1576.0 420.5a4.2 4.2 0 1 0 8.4 0a4.2 4.2 0 1 0 -8.4 0M1578.3 425.2a4.2 4.2 0 1 0 8.4 0a4.2 4.2 0 1 0 -8.4 0M1581.1 429.5a4.2 4.2 0 1 0 8.4 0a4.2 4.2 0 1 0 -8.4 0M1583.7 435.2a4.2 4.2 0 1 0 8.4 0a4.2 4.2 0 1 0 -8.4 0M1586.9 436.2a4.2 4.2 0 1 0 8.4 0a4.2 4.2 0 1 0 -8.4 0M1589.6 437.4a4.2 4.2 0 1 0 8.4 0a4.2 4.2 0 1 0 -8.4 0M1592.6 439.5a4.2 4.2 0 1 0 8.4 0a4.2 4.2 0 1 0 -8.4 0M1594.8 439.2a4.2 4.2 0 1 0 8.4 0a4.2 4.2 0 1 0 -8.4 0M1597.6 445.7a4.2 4.2 0 1 0 8.4 0a4.2 4.2 0 1 0 -8.4 0M1599.6 445.1a4.2 4.2 0 1 0 8.4 0a4.2 4.2 0 1 0 -8.4 0M1602.2 447.7a4.2 4.2 0 1 0 8.4 0a4.2 4.2 0 1 0 -8.4 0M1604.9 448.9a4.2 4.2 0 1 0 8.4 0a4.2 4.2 0 1 0 -8.4 0M1608.1 452.0a4.2 4.2 0 1 0 8.4 0a4.2 4.2 0 1 0 -8.4 0M1611.1 456.1a4.2 4.2 0 1 0 8.4 0a4.2 4.2 0 1 0 -8.4 0M1614.2 452.6a4.2 4.2 0 1 0 8.4 0a4.2 4.2 0 1 0 -8.4 0M1616.6 457.0a4.2 4.2 0 1 0 8.4 0a4.2 4.2 0 1 0 -8.4 0M1618.8 457.3a4.2 4.2 0 1 0 8.4 0a4.2 4.2 0 1 0 -8.4 0M1621.0 457.6a4.2 4.2 0 1 0 8.4 0a4.2 4.2 0 1 0 -8.4 0M1624.6 458.3a4.2 4.2 0 1 0 8.4 0a4.2 4.2 0 1 0 -8.4 0M1625.9 457.3a4.2 4.2 0 1 0 8.4 0a4.2 4.2 0 1 0 -8.4 0M1628.5 457.1a4.2 4.2 0 1 0 8.4 0a4.2 4.2 0 1 0 -8.4 0M1631.4 455.2a4.2 4.2 0 1 0 8.4 0a4.2 4.2 0 1 0 -8.4 0M1633.3 452.5a4.2 4.2 0 1 0 8.4 0a4.2 4.2 0 1 0 -8.4 0M1635.6 454.0a4.2 4.2 0 1 0 8.4 0a4.2 4.2 0 1 0 -8.4 0M1638.4 453.4a4.2 4.2 0 1 0 8.4 0a4.2 4.2 0 1 0 -8.4 0M1640.9 450.2a4.2 4.2 0 1 0 8.4 0a4.2 4.2 0 1 0 -8.4 0M1643.1 449.8a4.2 4.2 0 1 0 8.4 0a4.2 4.2 0 1 0 -8.4 0M1644.7 448.4a4.2 4.2 0 1 0 8.4 0a4.2 4.2 0 1 0 -8.4 0M1647.3 446.6a4.2 4.2 0 1 0 8.4 0a4.2 4.2 0 1 0 -8.4 0M1649.5 450.2a4.2 4.2 0 1 0 8.4 0a4.2 4.2 0 1 0 -8.4 0M1651.9 445.8a4.2 4.2 0 1 0 8.4 0a4.2 4.2 0 1 0 -8.4 0M1655.0 443.3a4.2 4.2 0 1 0 8.4 0a4.2 4.2 0 1 0 -8.4 0M1657.5 448.8a4.2 4.2 0 1 0 8.4 0a4.2 4.2 0 1 0 -8.4 0M1659.5 450.6a4.2 4.2 0 1 0 8.4 0a4.2 4.2 0 1 0 -8.4 0M1662.8 451.4a4.2 4.2 0 1 0 8.4 0a4.2 4.2 0 1 0 -8.4 0M1665.2 455.2a4.2 4.2 0 1 0 8.4 0a4.2 4.2 0 1 0 -8.4 0M1668.3 453.2a4.2 4.2 0 1 0 8.4 0a4.2 4.2 0 1 0 -8.4 0M1670.3 459.5a4.2 4.2 0 1 0 8.4 0a4.2 4.2 0 1 0 -8.4 0M1674.0 458.9a4.2 4.2 0 1 0 8.4 0a4.2 4.2 0 1 0 -8.4 0M1676.1 457.9a4.2 4.2 0 1 0 8.4 0a4.2 4.2 0 1 0 -8.4 0M1679.3 460.6a4.2 4.2 0 1 0 8.4 0a4.2 4.2 0 1 0 -8.4 0M1681.3 461.9a4.2 4.2 0 1 0 8.4 0a4.2 4.2 0 1 0 -8.4 0M1684.7 466.3a4.2 4.2 0 1 0 8.4 0a4.2 4.2 0 1 0 -8.4 0M1687.6 466.9a4.2 4.2 0 1 0 8.4 0a4.2 4.2 0 1 0 -8.4 0M1690.0 466.0a4.2 4.2 0 1 0 8.4 0a4.2 4.2 0 1 0 -8.4 0M1692.3 469.4a4.2 4.2 0 1 0 8.4 0a4.2 4.2 0 1 0 -8.4 0M1695.0 465.8a4.2 4.2 0 1 0 8.4 0a4.2 4.2 0 1 0 -8.4 0M1698.5 467.7a4.2 4.2 0 1 0 8.4 0a4.2 4.2 0 1 0 -8.4 0M1700.8 463.1a4.2 4.2 0 1 0 8.4 0a4.2 4.2 0 1 0 -8.4 0M1702.6 459.5a4.2 4.2 0 1 0 8.4 0a4.2 4.2 0 1 0 -8.4 0M1706.0 455.5a4.2 4.2 0 1 0 8.4 0a4.2 4.2 0 1 0 -8.4 0M1708.2 448.5a4.2 4.2 0 1 0 8.4 0a4.2 4.2 0 1 0 -8.4 0M1710.8 448.1a4.2 4.2 0 1 0 8.4 0a4.2 4.2 0 1 0 -8.4 0M1714.5 443.1a4.2 4.2 0 1 0 8.4 0a4.2 4.2 0 1 0 -8.4 0M1715.4 435.0a4.2 4.2 0 1 0 8.4 0a4.2 4.2 0 1 0 -8.4 0M1718.3 436.7a4.2 4.2 0 1 0 8.4 0a4.2 4.2 0 1 0 -8.4 0M1721.7 437.6a4.2 4.2 0 1 0 8.4 0a4.2 4.2 0 1 0 -8.4 0M1724.1 444.6a4.2 4.2 0 1 0 8.4 0a4.2 4.2 0 1 0 -8.4 0M1855.6 467.4a4.2 4.2 0 1 0 8.4 0a4.2 4.2 0 1 0 -8.4 0M1858.0 468.2a4.2 4.2 0 1 0 8.4 0a4.2 4.2 0 1 0 -8.4 0M1860.4 466.4a4.2 4.2 0 1 0 8.4 0a4.2 4.2 0 1 0 -8.4 0M1863.1 466.0a4.2 4.2 0 1 0 8.4 0a4.2 4.2 0 1 0 -8.4 0M1865.6 462.3a4.2 4.2 0 1 0 8.4 0a4.2 4.2 0 1 0 -8.4 0M1868.4 460.4a4.2 4.2 0 1 0 8.4 0a4.2 4.2 0 1 0 -8.4 0M1870.6 463.1a4.2 4.2 0 1 0 8.4 0a4.2 4.2 0 1 0 -8.4 0M1873.0 461.0a4.2 4.2 0 1 0 8.4 0a4.2 4.2 0 1 0 -8.4 0M1875.7 465.9a4.2 4.2 0 1 0 8.4 0a4.2 4.2 0 1 0 -8.4 0M1878.5 468.0a4.2 4.2 0 1 0 8.4 0a4.2 4.2 0 1 0 -8.4 0M1881.1 469.4a4.2 4.2 0 1 0 8.4 0a4.2 4.2 0 1 0 -8.4 0M1883.5 466.7a4.2 4.2 0 1 0 8.4 0a4.2 4.2 0 1 0 -8.4 0M1886.3 472.4a4.2 4.2 0 1 0 8.4 0a4.2 4.2 0 1 0 -8.4 0M1888.4 471.1a4.2 4.2 0 1 0 8.4 0a4.2 4.2 0 1 0 -8.4 0M1890.7 472.1a4.2 4.2 0 1 0 8.4 0a4.2 4.2 0 1 0 -8.4 0M1893.1 469.1a4.2 4.2 0 1 0 8.4 0a4.2 4.2 0 1 0 -8.4 0M1895.8 472.0a4.2 4.2 0 1 0 8.4 0a4.2 4.2 0 1 0 -8.4 0" stroke="#0000a8" stroke-width="3.4" fill="none"/>
<text x="1631.8" y="369.7" class="mu" fill="#b00000">&#956;&#8242;</text>
<text x="1618.0" y="517.6" class="mu" fill="#0000c8">&#956;&#8242;&#8242;</text>
<path d="M71.4 852.2a4.2 4.2 0 1 0 8.4 0a4.2 4.2 0 1 0 -8.4 0M78.8 891.3a4.2 4.2 0 1 0 8.4 0a4.2 4.2 0 1 0 -8.4 0M74.2 930.5a4.2 4.2 0 1 0 8.4 0a4.2 4.2 0 1 0 -8.4 0M89.1 940.7a4.2 4.2 0 1 0 8.4 0a4.2 4.2 0 1 0 -8.4 0M82.6 963.1a4.2 4.2 0 1 0 8.4 0a4.2 4.2 0 1 0 -8.4 0M91.9 963.1a4.2 4.2 0 1 0 8.4 0a4.2 4.2 0 1 0 -8.4 0M86.3 974.3a4.2 4.2 0 1 0 8.4 0a4.2 4.2 0 1 0 -8.4 0M101.2 983.6a4.2 4.2 0 1 0 8.4 0a4.2 4.2 0 1 0 -8.4 0M113.3 979.9a4.2 4.2 0 1 0 8.4 0a4.2 4.2 0 1 0 -8.4 0M116.1 983.6a4.2 4.2 0 1 0 8.4 0a4.2 4.2 0 1 0 -8.4 0M125.4 991.1a4.2 4.2 0 1 0 8.4 0a4.2 4.2 0 1 0 -8.4 0M133.8 990.1a4.2 4.2 0 1 0 8.4 0a4.2 4.2 0 1 0 -8.4 0M131.0 891.3a4.2 4.2 0 1 0 8.4 0a4.2 4.2 0 1 0 -8.4 0M127.3 903.4a4.2 4.2 0 1 0 8.4 0a4.2 4.2 0 1 0 -8.4 0M143.2 918.4a4.2 4.2 0 1 0 8.4 0a4.2 4.2 0 1 0 -8.4 0M140.4 941.7a4.2 4.2 0 1 0 8.4 0a4.2 4.2 0 1 0 -8.4 0M148.7 953.8a4.2 4.2 0 1 0 8.4 0a4.2 4.2 0 1 0 -8.4 0M145.9 965.0a4.2 4.2 0 1 0 8.4 0a4.2 4.2 0 1 0 -8.4 0M137.6 976.1a4.2 4.2 0 1 0 8.4 0a4.2 4.2 0 1 0 -8.4 0M151.5 976.1a4.2 4.2 0 1 0 8.4 0a4.2 4.2 0 1 0 -8.4 0M158.1 980.8a4.2 4.2 0 1 0 8.4 0a4.2 4.2 0 1 0 -8.4 0M166.5 989.2a4.2 4.2 0 1 0 8.4 0a4.2 4.2 0 1 0 -8.4 0M178.6 990.1a4.2 4.2 0 1 0 8.4 0a4.2 4.2 0 1 0 -8.4 0M190.7 989.2a4.2 4.2 0 1 0 8.4 0a4.2 4.2 0 1 0 -8.4 0M187.9 981.7a4.2 4.2 0 1 0 8.4 0a4.2 4.2 0 1 0 -8.4 0M185.1 971.5a4.2 4.2 0 1 0 8.4 0a4.2 4.2 0 1 0 -8.4 0M194.4 970.5a4.2 4.2 0 1 0 8.4 0a4.2 4.2 0 1 0 -8.4 0M182.3 956.6a4.2 4.2 0 1 0 8.4 0a4.2 4.2 0 1 0 -8.4 0M154.3 1002.2a4.2 4.2 0 1 0 8.4 0a4.2 4.2 0 1 0 -8.4 0M162.7 1002.2a4.2 4.2 0 1 0 8.4 0a4.2 4.2 0 1 0 -8.4 0M170.2 1001.3a4.2 4.2 0 1 0 8.4 0a4.2 4.2 0 1 0 -8.4 0M177.6 1002.2a4.2 4.2 0 1 0 8.4 0a4.2 4.2 0 1 0 -8.4 0M160.9 1013.4a4.2 4.2 0 1 0 8.4 0a4.2 4.2 0 1 0 -8.4 0M95.6 1007.8a4.2 4.2 0 1 0 8.4 0a4.2 4.2 0 1 0 -8.4 0M110.5 1008.8a4.2 4.2 0 1 0 8.4 0a4.2 4.2 0 1 0 -8.4 0M118.9 1008.8a4.2 4.2 0 1 0 8.4 0a4.2 4.2 0 1 0 -8.4 0M104.0 1030.2a4.2 4.2 0 1 0 8.4 0a4.2 4.2 0 1 0 -8.4 0M97.5 1040.4a4.2 4.2 0 1 0 8.4 0a4.2 4.2 0 1 0 -8.4 0M107.7 1042.3a4.2 4.2 0 1 0 8.4 0a4.2 4.2 0 1 0 -8.4 0M122.6 1033.0a4.2 4.2 0 1 0 8.4 0a4.2 4.2 0 1 0 -8.4 0M197.2 934.2a4.2 4.2 0 1 0 8.4 0a4.2 4.2 0 1 0 -8.4 0M200.0 944.5a4.2 4.2 0 1 0 8.4 0a4.2 4.2 0 1 0 -8.4 0M205.6 956.6a4.2 4.2 0 1 0 8.4 0a4.2 4.2 0 1 0 -8.4 0M203.7 961.2a4.2 4.2 0 1 0 8.4 0a4.2 4.2 0 1 0 -8.4 0M210.3 965.0a4.2 4.2 0 1 0 8.4 0a4.2 4.2 0 1 0 -8.4 0M208.4 970.5a4.2 4.2 0 1 0 8.4 0a4.2 4.2 0 1 0 -8.4 0M214.9 928.6a4.2 4.2 0 1 0 8.4 0a4.2 4.2 0 1 0 -8.4 0M221.4 931.4a4.2 4.2 0 1 0 8.4 0a4.2 4.2 0 1 0 -8.4 0M217.7 908.1a4.2 4.2 0 1 0 8.4 0a4.2 4.2 0 1 0 -8.4 0M224.2 945.4a4.2 4.2 0 1 0 8.4 0a4.2 4.2 0 1 0 -8.4 0M229.8 882.0a4.2 4.2 0 1 0 8.4 0a4.2 4.2 0 1 0 -8.4 0M235.4 928.6a4.2 4.2 0 1 0 8.4 0a4.2 4.2 0 1 0 -8.4 0M238.2 937.0a4.2 4.2 0 1 0 8.4 0a4.2 4.2 0 1 0 -8.4 0M245.7 933.3a4.2 4.2 0 1 0 8.4 0a4.2 4.2 0 1 0 -8.4 0M241.9 945.4a4.2 4.2 0 1 0 8.4 0a4.2 4.2 0 1 0 -8.4 0M247.5 951.0a4.2 4.2 0 1 0 8.4 0a4.2 4.2 0 1 0 -8.4 0M252.2 871.8a4.2 4.2 0 1 0 8.4 0a4.2 4.2 0 1 0 -8.4 0M261.5 871.8a4.2 4.2 0 1 0 8.4 0a4.2 4.2 0 1 0 -8.4 0M260.6 891.3a4.2 4.2 0 1 0 8.4 0a4.2 4.2 0 1 0 -8.4 0M272.4 865.7a4.2 4.2 0 1 0 8.4 0a4.2 4.2 0 1 0 -8.4 0M260.8 873.1a4.2 4.2 0 1 0 8.4 0a4.2 4.2 0 1 0 -8.4 0M262.4 889.7a4.2 4.2 0 1 0 8.4 0a4.2 4.2 0 1 0 -8.4 0M275.7 884.7a4.2 4.2 0 1 0 8.4 0a4.2 4.2 0 1 0 -8.4 0M267.8 872.0a4.2 4.2 0 1 0 8.4 0a4.2 4.2 0 1 0 -8.4 0M281.5 902.9a4.2 4.2 0 1 0 8.4 0a4.2 4.2 0 1 0 -8.4 0M283.9 911.2a4.2 4.2 0 1 0 8.4 0a4.2 4.2 0 1 0 -8.4 0M287.3 955.9a4.2 4.2 0 1 0 8.4 0a4.2 4.2 0 1 0 -8.4 0M293.1 991.5a4.2 4.2 0 1 0 8.4 0a4.2 4.2 0 1 0 -8.4 0M295.5 1027.1a4.2 4.2 0 1 0 8.4 0a4.2 4.2 0 1 0 -8.4 0M298.8 1038.7a4.2 4.2 0 1 0 8.4 0a4.2 4.2 0 1 0 -8.4 0M302.2 1058.5a4.2 4.2 0 1 0 8.4 0a4.2 4.2 0 1 0 -8.4 0M305.5 1080.1a4.2 4.2 0 1 0 8.4 0a4.2 4.2 0 1 0 -8.4 0M307.1 1099.9a4.2 4.2 0 1 0 8.4 0a4.2 4.2 0 1 0 -8.4 0M368.4 1078.4a4.2 4.2 0 1 0 8.4 0a4.2 4.2 0 1 0 -8.4 0M363.4 1090.0a4.2 4.2 0 1 0 8.4 0a4.2 4.2 0 1 0 -8.4 0M388.3 1068.5a4.2 4.2 0 1 0 8.4 0a4.2 4.2 0 1 0 -8.4 0M434.6 1081.7a4.2 4.2 0 1 0 8.4 0a4.2 4.2 0 1 0 -8.4 0M446.2 1073.4a4.2 4.2 0 1 0 8.4 0a4.2 4.2 0 1 0 -8.4 0M455.3 1073.1a4.2 4.2 0 1 0 8.4 0a4.2 4.2 0 1 0 -8.4 0M492.2 1067.1a4.2 4.2 0 1 0 8.4 0a4.2 4.2 0 1 0 -8.4 0M517.2 1076.7a4.2 4.2 0 1 0 8.4 0a4.2 4.2 0 1 0 -8.4 0M548.2 1069.5a4.2 4.2 0 1 0 8.4 0a4.2 4.2 0 1 0 -8.4 0M551.8 1079.0a4.2 4.2 0 1 0 8.4 0a4.2 4.2 0 1 0 -8.4 0M598.2 1069.5a4.2 4.2 0 1 0 8.4 0a4.2 4.2 0 1 0 -8.4 0M624.4 1079.0a4.2 4.2 0 1 0 8.4 0a4.2 4.2 0 1 0 -8.4 0M631.5 1089.8a4.2 4.2 0 1 0 8.4 0a4.2 4.2 0 1 0 -8.4 0M667.2 1060.0a4.2 4.2 0 1 0 8.4 0a4.2 4.2 0 1 0 -8.4 0M662.5 1066.0a4.2 4.2 0 1 0 8.4 0a4.2 4.2 0 1 0 -8.4 0M663.7 1071.9a4.2 4.2 0 1 0 8.4 0a4.2 4.2 0 1 0 -8.4 0M310.0 1112.9a4.2 4.2 0 1 0 8.4 0a4.2 4.2 0 1 0 -8.4 0M312.4 1112.0a4.2 4.2 0 1 0 8.4 0a4.2 4.2 0 1 0 -8.4 0M315.3 1110.1a4.2 4.2 0 1 0 8.4 0a4.2 4.2 0 1 0 -8.4 0M317.9 1105.4a4.2 4.2 0 1 0 8.4 0a4.2 4.2 0 1 0 -8.4 0M319.5 1104.0a4.2 4.2 0 1 0 8.4 0a4.2 4.2 0 1 0 -8.4 0M321.6 1104.2a4.2 4.2 0 1 0 8.4 0a4.2 4.2 0 1 0 -8.4 0M325.1 1095.8a4.2 4.2 0 1 0 8.4 0a4.2 4.2 0 1 0 -8.4 0M327.6 1093.0a4.2 4.2 0 1 0 8.4 0a4.2 4.2 0 1 0 -8.4 0M330.4 1088.0a4.2 4.2 0 1 0 8.4 0a4.2 4.2 0 1 0 -8.4 0M332.3 1082.0a4.2 4.2 0 1 0 8.4 0a4.2 4.2 0 1 0 -8.4 0M335.2 1077.1a4.2 4.2 0 1 0 8.4 0a4.2 4.2 0 1 0 -8.4 0M337.2 1071.9a4.2 4.2 0 1 0 8.4 0a4.2 4.2 0 1 0 -8.4 0M339.6 1074.7a4.2 4.2 0 1 0 8.4 0a4.2 4.2 0 1 0 -8.4 0M342.4 1074.8a4.2 4.2 0 1 0 8.4 0a4.2 4.2 0 1 0 -8.4 0M344.5 1068.8a4.2 4.2 0 1 0 8.4 0a4.2 4.2 0 1 0 -8.4 0M347.1 1071.1a4.2 4.2 0 1 0 8.4 0a4.2 4.2 0 1 0 -8.4 0M349.1 1069.0a4.2 4.2 0 1 0 8.4 0a4.2 4.2 0 1 0 -8.4 0M352.1 1070.3a4.2 4.2 0 1 0 8.4 0a4.2 4.2 0 1 0 -8.4 0M353.3 1073.2a4.2 4.2 0 1 0 8.4 0a4.2 4.2 0 1 0 -8.4 0M355.5 1072.6a4.2 4.2 0 1 0 8.4 0a4.2 4.2 0 1 0 -8.4 0M358.7 1074.3a4.2 4.2 0 1 0 8.4 0a4.2 4.2 0 1 0 -8.4 0M360.8 1071.8a4.2 4.2 0 1 0 8.4 0a4.2 4.2 0 1 0 -8.4 0M363.8 1067.2a4.2 4.2 0 1 0 8.4 0a4.2 4.2 0 1 0 -8.4 0M365.5 1063.0a4.2 4.2 0 1 0 8.4 0a4.2 4.2 0 1 0 -8.4 0M367.9 1064.5a4.2 4.2 0 1 0 8.4 0a4.2 4.2 0 1 0 -8.4 0M371.0 1060.6a4.2 4.2 0 1 0 8.4 0a4.2 4.2 0 1 0 -8.4 0M372.9 1061.7a4.2 4.2 0 1 0 8.4 0a4.2 4.2 0 1 0 -8.4 0M375.0 1062.4a4.2 4.2 0 1 0 8.4 0a4.2 4.2 0 1 0 -8.4 0M377.6 1058.9a4.2 4.2 0 1 0 8.4 0a4.2 4.2 0 1 0 -8.4 0M380.3 1060.7a4.2 4.2 0 1 0 8.4 0a4.2 4.2 0 1 0 -8.4 0M382.7 1060.1a4.2 4.2 0 1 0 8.4 0a4.2 4.2 0 1 0 -8.4 0M384.3 1057.0a4.2 4.2 0 1 0 8.4 0a4.2 4.2 0 1 0 -8.4 0M386.8 1054.9a4.2 4.2 0 1 0 8.4 0a4.2 4.2 0 1 0 -8.4 0M389.5 1056.8a4.2 4.2 0 1 0 8.4 0a4.2 4.2 0 1 0 -8.4 0M392.2 1052.8a4.2 4.2 0 1 0 8.4 0a4.2 4.2 0 1 0 -8.4 0M394.0 1056.3a4.2 4.2 0 1 0 8.4 0a4.2 4.2 0 1 0 -8.4 0M397.0 1052.6a4.2 4.2 0 1 0 8.4 0a4.2 4.2 0 1 0 -8.4 0M399.7 1051.9a4.2 4.2 0 1 0 8.4 0a4.2 4.2 0 1 0 -8.4 0M401.1 1052.3a4.2 4.2 0 1 0 8.4 0a4.2 4.2 0 1 0 -8.4 0M404.7 1052.9a4.2 4.2 0 1 0 8.4 0a4.2 4.2 0 1 0 -8.4 0M407.4 1047.9a4.2 4.2 0 1 0 8.4 0a4.2 4.2 0 1 0 -8.4 0M410.0 1046.1a4.2 4.2 0 1 0 8.4 0a4.2 4.2 0 1 0 -8.4 0M411.9 1048.9a4.2 4.2 0 1 0 8.4 0a4.2 4.2 0 1 0 -8.4 0M415.0 1043.4a4.2 4.2 0 1 0 8.4 0a4.2 4.2 0 1 0 -8.4 0M417.1 1048.2a4.2 4.2 0 1 0 8.4 0a4.2 4.2 0 1 0 -8.4 0M420.0 1053.6a4.2 4.2 0 1 0 8.4 0a4.2 4.2 0 1 0 -8.4 0M422.4 1054.5a4.2 4.2 0 1 0 8.4 0a4.2 4.2 0 1 0 -8.4 0M424.6 1055.6a4.2 4.2 0 1 0 8.4 0a4.2 4.2 0 1 0 -8.4 0M427.0 1059.9a4.2 4.2 0 1 0 8.4 0a4.2 4.2 0 1 0 -8.4 0M429.3 1063.4a4.2 4.2 0 1 0 8.4 0a4.2 4.2 0 1 0 -8.4 0M432.3 1069.1a4.2 4.2 0 1 0 8.4 0a4.2 4.2 0 1 0 -8.4 0M434.9 1065.3a4.2 4.2 0 1 0 8.4 0a4.2 4.2 0 1 0 -8.4 0M438.4 1066.4a4.2 4.2 0 1 0 8.4 0a4.2 4.2 0 1 0 -8.4 0M440.5 1064.6a4.2 4.2 0 1 0 8.4 0a4.2 4.2 0 1 0 -8.4 0M442.9 1064.0a4.2 4.2 0 1 0 8.4 0a4.2 4.2 0 1 0 -8.4 0M444.4 1063.7a4.2 4.2 0 1 0 8.4 0a4.2 4.2 0 1 0 -8.4 0M447.1 1063.4a4.2 4.2 0 1 0 8.4 0a4.2 4.2 0 1 0 -8.4 0M449.6 1058.4a4.2 4.2 0 1 0 8.4 0a4.2 4.2 0 1 0 -8.4 0M451.7 1057.9a4.2 4.2 0 1 0 8.4 0a4.2 4.2 0 1 0 -8.4 0M454.7 1060.3a4.2 4.2 0 1 0 8.4 0a4.2 4.2 0 1 0 -8.4 0M458.2 1058.5a4.2 4.2 0 1 0 8.4 0a4.2 4.2 0 1 0 -8.4 0M460.2 1057.9a4.2 4.2 0 1 0 8.4 0a4.2 4.2 0 1 0 -8.4 0M462.2 1058.2a4.2 4.2 0 1 0 8.4 0a4.2 4.2 0 1 0 -8.4 0M464.5 1055.9a4.2 4.2 0 1 0 8.4 0a4.2 4.2 0 1 0 -8.4 0M466.7 1056.5a4.2 4.2 0 1 0 8.4 0a4.2 4.2 0 1 0 -8.4 0M469.6 1052.1a4.2 4.2 0 1 0 8.4 0a4.2 4.2 0 1 0 -8.4 0M472.4 1049.5a4.2 4.2 0 1 0 8.4 0a4.2 4.2 0 1 0 -8.4 0M474.9 1052.3a4.2 4.2 0 1 0 8.4 0a4.2 4.2 0 1 0 -8.4 0M477.8 1046.4a4.2 4.2 0 1 0 8.4 0a4.2 4.2 0 1 0 -8.4 0M479.3 1043.4a4.2 4.2 0 1 0 8.4 0a4.2 4.2 0 1 0 -8.4 0M482.6 1045.3a4.2 4.2 0 1 0 8.4 0a4.2 4.2 0 1 0 -8.4 0M485.1 1040.5a4.2 4.2 0 1 0 8.4 0a4.2 4.2 0 1 0 -8.4 0M488.1 1037.2a4.2 4.2 0 1 0 8.4 0a4.2 4.2 0 1 0 -8.4 0M489.7 1046.8a4.2 4.2 0 1 0 8.4 0a4.2 4.2 0 1 0 -8.4 0M493.6 1049.2a4.2 4.2 0 1 0 8.4 0a4.2 4.2 0 1 0 -8.4 0M495.7 1054.5a4.2 4.2 0 1 0 8.4 0a4.2 4.2 0 1 0 -8.4 0M498.1 1056.9a4.2 4.2 0 1 0 8.4 0a4.2 4.2 0 1 0 -8.4 0M501.1 1053.2a4.2 4.2 0 1 0 8.4 0a4.2 4.2 0 1 0 -8.4 0M502.9 1055.3a4.2 4.2 0 1 0 8.4 0a4.2 4.2 0 1 0 -8.4 0M505.5 1059.2a4.2 4.2 0 1 0 8.4 0a4.2 4.2 0 1 0 -8.4 0M508.0 1057.6a4.2 4.2 0 1 0 8.4 0a4.2 4.2 0 1 0 -8.4 0M509.5 1061.4a4.2 4.2 0 1 0 8.4 0a4.2 4.2 0 1 0 -8.4 0M511.9 1062.8a4.2 4.2 0 1 0 8.4 0a4.2 4.2 0 1 0 -8.4 0M514.8 1060.5a4.2 4.2 0 1 0 8.4 0a4.2 4.2 0 1 0 -8.4 0M517.4 1060.4a4.2 4.2 0 1 0 8.4 0a4.2 4.2 0 1 0 -8.4 0M519.6 1062.4a4.2 4.2 0 1 0 8.4 0a4.2 4.2 0 1 0 -8.4 0M524.7 1046.2a4.2 4.2 0 1 0 8.4 0a4.2 4.2 0 1 0 -8.4 0M527.1 1049.0a4.2 4.2 0 1 0 8.4 0a4.2 4.2 0 1 0 -8.4 0M531.1 1047.7a4.2 4.2 0 1 0 8.4 0a4.2 4.2 0 1 0 -8.4 0M533.7 1052.3a4.2 4.2 0 1 0 8.4 0a4.2 4.2 0 1 0 -8.4 0M537.5 1052.9a4.2 4.2 0 1 0 8.4 0a4.2 4.2 0 1 0 -8.4 0M552.9 1054.9a4.2 4.2 0 1 0 8.4 0a4.2 4.2 0 1 0 -8.4 0M555.7 1057.8a4.2 4.2 0 1 0 8.4 0a4.2 4.2 0 1 0 -8.4 0M557.6 1054.4a4.2 4.2 0 1 0 8.4 0a4.2 4.2 0 1 0 -8.4 0M560.2 1052.4a4.2 4.2 0 1 0 8.4 0a4.2 4.2 0 1 0 -8.4 0M563.0 1052.9a4.2 4.2 0 1 0 8.4 0a4.2 4.2 0 1 0 -8.4 0M564.2 1052.3a4.2 4.2 0 1 0 8.4 0a4.2 4.2 0 1 0 -8.4 0M567.7 1053.9a4.2 4.2 0 1 0 8.4 0a4.2 4.2 0 1 0 -8.4 0M570.1 1057.2a4.2 4.2 0 1 0 8.4 0a4.2 4.2 0 1 0 -8.4 0M572.0 1057.7a4.2 4.2 0 1 0 8.4 0a4.2 4.2 0 1 0 -8.4 0M573.9 1053.0a4.2 4.2 0 1 0 8.4 0a4.2 4.2 0 1 0 -8.4 0M576.4 1055.0a4.2 4.2 0 1 0 8.4 0a4.2 4.2 0 1 0 -8.4 0M578.7 1052.1a4.2 4.2 0 1 0 8.4 0a4.2 4.2 0 1 0 -8.4 0M581.6 1053.5a4.2 4.2 0 1 0 8.4 0a4.2 4.2 0 1 0 -8.4 0M584.4 1052.4a4.2 4.2 0 1 0 8.4 0a4.2 4.2 0 1 0 -8.4 0M586.7 1056.3a4.2 4.2 0 1 0 8.4 0a4.2 4.2 0 1 0 -8.4 0M588.1 1056.0a4.2 4.2 0 1 0 8.4 0a4.2 4.2 0 1 0 -8.4 0M590.7 1056.8a4.2 4.2 0 1 0 8.4 0a4.2 4.2 0 1 0 -8.4 0M593.3 1052.0a4.2 4.2 0 1 0 8.4 0a4.2 4.2 0 1 0 -8.4 0M596.1 1057.1a4.2 4.2 0 1 0 8.4 0a4.2 4.2 0 1 0 -8.4 0M598.1 1059.3a4.2 4.2 0 1 0 8.4 0a4.2 4.2 0 1 0 -8.4 0M600.2 1059.7a4.2 4.2 0 1 0 8.4 0a4.2 4.2 0 1 0 -8.4 0M602.9 1061.5a4.2 4.2 0 1 0 8.4 0a4.2 4.2 0 1 0 -8.4 0M605.3 1059.6a4.2 4.2 0 1 0 8.4 0a4.2 4.2 0 1 0 -8.4 0M607.5 1056.9a4.2 4.2 0 1 0 8.4 0a4.2 4.2 0 1 0 -8.4 0M609.6 1056.0a4.2 4.2 0 1 0 8.4 0a4.2 4.2 0 1 0 -8.4 0M612.0 1059.9a4.2 4.2 0 1 0 8.4 0a4.2 4.2 0 1 0 -8.4 0M614.6 1059.8a4.2 4.2 0 1 0 8.4 0a4.2 4.2 0 1 0 -8.4 0M617.8 1058.4a4.2 4.2 0 1 0 8.4 0a4.2 4.2 0 1 0 -8.4 0M619.3 1061.4a4.2 4.2 0 1 0 8.4 0a4.2 4.2 0 1 0 -8.4 0M622.1 1063.9a4.2 4.2 0 1 0 8.4 0a4.2 4.2 0 1 0 -8.4 0M624.9 1062.5a4.2 4.2 0 1 0 8.4 0a4.2 4.2 0 1 0 -8.4 0M627.6 1069.7a4.2 4.2 0 1 0 8.4 0a4.2 4.2 0 1 0 -8.4 0M630.3 1075.1a4.2 4.2 0 1 0 8.4 0a4.2 4.2 0 1 0 -8.4 0M632.6 1077.9a4.2 4.2 0 1 0 8.4 0a4.2 4.2 0 1 0 -8.4 0M636.3 1079.0a4.2 4.2 0 1 0 8.4 0a4.2 4.2 0 1 0 -8.4 0" stroke="#a50000" stroke-width="3.4" fill="none"/>
<path d="M69.3 747.5a4.2 4.2 0 1 0 8.4 0a4.2 4.2 0 1 0 -8.4 0M124.5 1159.3a4.2 4.2 0 1 0 8.4 0a4.2 4.2 0 1 0 -8.4 0M126.3 1166.0a4.2 4.2 0 1 0 8.4 0a4.2 4.2 0 1 0 -8.4 0M94.7 1021.8a4.2 4.2 0 1 0 8.4 0a4.2 4.2 0 1 0 -8.4 0M82.6 1033.0a4.2 4.2 0 1 0 8.4 0a4.2 4.2 0 1 0 -8.4 0M79.8 1042.3a4.2 4.2 0 1 0 8.4 0a4.2 4.2 0 1 0 -8.4 0M98.4 1048.8a4.2 4.2 0 1 0 8.4 0a4.2 4.2 0 1 0 -8.4 0M71.4 1069.3a4.2 4.2 0 1 0 8.4 0a4.2 4.2 0 1 0 -8.4 0M89.1 1065.6a4.2 4.2 0 1 0 8.4 0a4.2 4.2 0 1 0 -8.4 0M91.0 1068.4a4.2 4.2 0 1 0 8.4 0a4.2 4.2 0 1 0 -8.4 0M74.2 1081.5a4.2 4.2 0 1 0 8.4 0a4.2 4.2 0 1 0 -8.4 0M77.9 1090.8a4.2 4.2 0 1 0 8.4 0a4.2 4.2 0 1 0 -8.4 0M104.0 1077.7a4.2 4.2 0 1 0 8.4 0a4.2 4.2 0 1 0 -8.4 0M101.2 1089.8a4.2 4.2 0 1 0 8.4 0a4.2 4.2 0 1 0 -8.4 0M118.9 1088.0a4.2 4.2 0 1 0 8.4 0a4.2 4.2 0 1 0 -8.4 0M114.3 1100.1a4.2 4.2 0 1 0 8.4 0a4.2 4.2 0 1 0 -8.4 0M112.4 1103.8a4.2 4.2 0 1 0 8.4 0a4.2 4.2 0 1 0 -8.4 0M133.8 1088.0a4.2 4.2 0 1 0 8.4 0a4.2 4.2 0 1 0 -8.4 0M131.0 1101.0a4.2 4.2 0 1 0 8.4 0a4.2 4.2 0 1 0 -8.4 0M137.6 1108.5a4.2 4.2 0 1 0 8.4 0a4.2 4.2 0 1 0 -8.4 0M108.7 1125.3a4.2 4.2 0 1 0 8.4 0a4.2 4.2 0 1 0 -8.4 0M121.7 1119.7a4.2 4.2 0 1 0 8.4 0a4.2 4.2 0 1 0 -8.4 0M143.2 1127.1a4.2 4.2 0 1 0 8.4 0a4.2 4.2 0 1 0 -8.4 0M140.4 1140.2a4.2 4.2 0 1 0 8.4 0a4.2 4.2 0 1 0 -8.4 0M128.2 1156.9a4.2 4.2 0 1 0 8.4 0a4.2 4.2 0 1 0 -8.4 0M152.5 1078.7a4.2 4.2 0 1 0 8.4 0a4.2 4.2 0 1 0 -8.4 0M145.9 1093.6a4.2 4.2 0 1 0 8.4 0a4.2 4.2 0 1 0 -8.4 0M155.3 1094.5a4.2 4.2 0 1 0 8.4 0a4.2 4.2 0 1 0 -8.4 0M161.8 1090.8a4.2 4.2 0 1 0 8.4 0a4.2 4.2 0 1 0 -8.4 0M167.4 1098.2a4.2 4.2 0 1 0 8.4 0a4.2 4.2 0 1 0 -8.4 0M163.7 1112.2a4.2 4.2 0 1 0 8.4 0a4.2 4.2 0 1 0 -8.4 0M172.0 1106.6a4.2 4.2 0 1 0 8.4 0a4.2 4.2 0 1 0 -8.4 0M177.6 1107.5a4.2 4.2 0 1 0 8.4 0a4.2 4.2 0 1 0 -8.4 0M185.1 1099.2a4.2 4.2 0 1 0 8.4 0a4.2 4.2 0 1 0 -8.4 0M188.8 1106.6a4.2 4.2 0 1 0 8.4 0a4.2 4.2 0 1 0 -8.4 0M178.6 1129.0a4.2 4.2 0 1 0 8.4 0a4.2 4.2 0 1 0 -8.4 0M192.5 1114.1a4.2 4.2 0 1 0 8.4 0a4.2 4.2 0 1 0 -8.4 0M196.3 1123.4a4.2 4.2 0 1 0 8.4 0a4.2 4.2 0 1 0 -8.4 0M200.0 1116.9a4.2 4.2 0 1 0 8.4 0a4.2 4.2 0 1 0 -8.4 0M207.5 1105.7a4.2 4.2 0 1 0 8.4 0a4.2 4.2 0 1 0 -8.4 0M211.2 1116.9a4.2 4.2 0 1 0 8.4 0a4.2 4.2 0 1 0 -8.4 0M214.9 1120.6a4.2 4.2 0 1 0 8.4 0a4.2 4.2 0 1 0 -8.4 0M220.5 1110.3a4.2 4.2 0 1 0 8.4 0a4.2 4.2 0 1 0 -8.4 0M226.1 1107.5a4.2 4.2 0 1 0 8.4 0a4.2 4.2 0 1 0 -8.4 0M228.0 1113.1a4.2 4.2 0 1 0 8.4 0a4.2 4.2 0 1 0 -8.4 0M232.6 1076.8a4.2 4.2 0 1 0 8.4 0a4.2 4.2 0 1 0 -8.4 0M229.8 1090.8a4.2 4.2 0 1 0 8.4 0a4.2 4.2 0 1 0 -8.4 0M237.3 1089.8a4.2 4.2 0 1 0 8.4 0a4.2 4.2 0 1 0 -8.4 0M244.7 1088.9a4.2 4.2 0 1 0 8.4 0a4.2 4.2 0 1 0 -8.4 0M248.5 1095.4a4.2 4.2 0 1 0 8.4 0a4.2 4.2 0 1 0 -8.4 0M251.3 1105.7a4.2 4.2 0 1 0 8.4 0a4.2 4.2 0 1 0 -8.4 0M253.1 1076.8a4.2 4.2 0 1 0 8.4 0a4.2 4.2 0 1 0 -8.4 0M257.8 1062.8a4.2 4.2 0 1 0 8.4 0a4.2 4.2 0 1 0 -8.4 0M261.5 1053.5a4.2 4.2 0 1 0 8.4 0a4.2 4.2 0 1 0 -8.4 0M265.2 1040.4a4.2 4.2 0 1 0 8.4 0a4.2 4.2 0 1 0 -8.4 0M293.9 921.1a4.2 4.2 0 1 0 8.4 0a4.2 4.2 0 1 0 -8.4 0M300.5 919.5a4.2 4.2 0 1 0 8.4 0a4.2 4.2 0 1 0 -8.4 0M297.2 927.7a4.2 4.2 0 1 0 8.4 0a4.2 4.2 0 1 0 -8.4 0M305.5 936.9a4.2 4.2 0 1 0 8.4 0a4.2 4.2 0 1 0 -8.4 0M290.6 943.5a4.2 4.2 0 1 0 8.4 0a4.2 4.2 0 1 0 -8.4 0M285.6 953.4a4.2 4.2 0 1 0 8.4 0a4.2 4.2 0 1 0 -8.4 0M283.1 966.7a4.2 4.2 0 1 0 8.4 0a4.2 4.2 0 1 0 -8.4 0M308.8 965.8a4.2 4.2 0 1 0 8.4 0a4.2 4.2 0 1 0 -8.4 0M281.5 986.5a4.2 4.2 0 1 0 8.4 0a4.2 4.2 0 1 0 -8.4 0M277.3 999.8a4.2 4.2 0 1 0 8.4 0a4.2 4.2 0 1 0 -8.4 0M274.8 1008.9a4.2 4.2 0 1 0 8.4 0a4.2 4.2 0 1 0 -8.4 0M310.4 989.8a4.2 4.2 0 1 0 8.4 0a4.2 4.2 0 1 0 -8.4 0M313.7 1022.1a4.2 4.2 0 1 0 8.4 0a4.2 4.2 0 1 0 -8.4 0M317.1 1030.4a4.2 4.2 0 1 0 8.4 0a4.2 4.2 0 1 0 -8.4 0M271.5 1026.3a4.2 4.2 0 1 0 8.4 0a4.2 4.2 0 1 0 -8.4 0M269.0 1040.3a4.2 4.2 0 1 0 8.4 0a4.2 4.2 0 1 0 -8.4 0M264.1 1051.9a4.2 4.2 0 1 0 8.4 0a4.2 4.2 0 1 0 -8.4 0M259.1 1063.5a4.2 4.2 0 1 0 8.4 0a4.2 4.2 0 1 0 -8.4 0M255.8 1075.1a4.2 4.2 0 1 0 8.4 0a4.2 4.2 0 1 0 -8.4 0M320.4 1051.9a4.2 4.2 0 1 0 8.4 0a4.2 4.2 0 1 0 -8.4 0M323.7 1053.6a4.2 4.2 0 1 0 8.4 0a4.2 4.2 0 1 0 -8.4 0M326.2 1066.8a4.2 4.2 0 1 0 8.4 0a4.2 4.2 0 1 0 -8.4 0M350.2 1078.4a4.2 4.2 0 1 0 8.4 0a4.2 4.2 0 1 0 -8.4 0M343.5 1099.9a4.2 4.2 0 1 0 8.4 0a4.2 4.2 0 1 0 -8.4 0M363.4 1111.5a4.2 4.2 0 1 0 8.4 0a4.2 4.2 0 1 0 -8.4 0M368.4 1138.0a4.2 4.2 0 1 0 8.4 0a4.2 4.2 0 1 0 -8.4 0M434.6 1118.1a4.2 4.2 0 1 0 8.4 0a4.2 4.2 0 1 0 -8.4 0M492.2 1096.9a4.2 4.2 0 1 0 8.4 0a4.2 4.2 0 1 0 -8.4 0M466.0 1110.0a4.2 4.2 0 1 0 8.4 0a4.2 4.2 0 1 0 -8.4 0M462.5 1123.1a4.2 4.2 0 1 0 8.4 0a4.2 4.2 0 1 0 -8.4 0M475.6 1124.3a4.2 4.2 0 1 0 8.4 0a4.2 4.2 0 1 0 -8.4 0M480.3 1131.4a4.2 4.2 0 1 0 8.4 0a4.2 4.2 0 1 0 -8.4 0M486.3 1114.8a4.2 4.2 0 1 0 8.4 0a4.2 4.2 0 1 0 -8.4 0M483.9 1118.3a4.2 4.2 0 1 0 8.4 0a4.2 4.2 0 1 0 -8.4 0M501.8 1114.8a4.2 4.2 0 1 0 8.4 0a4.2 4.2 0 1 0 -8.4 0M514.8 1114.8a4.2 4.2 0 1 0 8.4 0a4.2 4.2 0 1 0 -8.4 0M506.5 1121.9a4.2 4.2 0 1 0 8.4 0a4.2 4.2 0 1 0 -8.4 0M498.2 1129.0a4.2 4.2 0 1 0 8.4 0a4.2 4.2 0 1 0 -8.4 0M532.7 1089.8a4.2 4.2 0 1 0 8.4 0a4.2 4.2 0 1 0 -8.4 0M545.8 1087.4a4.2 4.2 0 1 0 8.4 0a4.2 4.2 0 1 0 -8.4 0M547.0 1076.7a4.2 4.2 0 1 0 8.4 0a4.2 4.2 0 1 0 -8.4 0M536.3 1095.7a4.2 4.2 0 1 0 8.4 0a4.2 4.2 0 1 0 -8.4 0M538.7 1119.5a4.2 4.2 0 1 0 8.4 0a4.2 4.2 0 1 0 -8.4 0M541.0 1126.7a4.2 4.2 0 1 0 8.4 0a4.2 4.2 0 1 0 -8.4 0M550.6 1131.4a4.2 4.2 0 1 0 8.4 0a4.2 4.2 0 1 0 -8.4 0M552.9 1142.1a4.2 4.2 0 1 0 8.4 0a4.2 4.2 0 1 0 -8.4 0M558.9 1123.1a4.2 4.2 0 1 0 8.4 0a4.2 4.2 0 1 0 -8.4 0M564.8 1130.2a4.2 4.2 0 1 0 8.4 0a4.2 4.2 0 1 0 -8.4 0M562.5 1138.6a4.2 4.2 0 1 0 8.4 0a4.2 4.2 0 1 0 -8.4 0M576.8 1116.0a4.2 4.2 0 1 0 8.4 0a4.2 4.2 0 1 0 -8.4 0M575.6 1126.7a4.2 4.2 0 1 0 8.4 0a4.2 4.2 0 1 0 -8.4 0M582.7 1131.4a4.2 4.2 0 1 0 8.4 0a4.2 4.2 0 1 0 -8.4 0M588.7 1135.0a4.2 4.2 0 1 0 8.4 0a4.2 4.2 0 1 0 -8.4 0M595.8 1113.6a4.2 4.2 0 1 0 8.4 0a4.2 4.2 0 1 0 -8.4 0M594.6 1139.8a4.2 4.2 0 1 0 8.4 0a4.2 4.2 0 1 0 -8.4 0M599.4 1133.8a4.2 4.2 0 1 0 8.4 0a4.2 4.2 0 1 0 -8.4 0M607.7 1137.4a4.2 4.2 0 1 0 8.4 0a4.2 4.2 0 1 0 -8.4 0M604.1 1152.9a4.2 4.2 0 1 0 8.4 0a4.2 4.2 0 1 0 -8.4 0M611.3 1082.6a4.2 4.2 0 1 0 8.4 0a4.2 4.2 0 1 0 -8.4 0M616.0 1086.2a4.2 4.2 0 1 0 8.4 0a4.2 4.2 0 1 0 -8.4 0M619.6 1101.7a4.2 4.2 0 1 0 8.4 0a4.2 4.2 0 1 0 -8.4 0M627.9 1111.2a4.2 4.2 0 1 0 8.4 0a4.2 4.2 0 1 0 -8.4 0M623.2 1121.9a4.2 4.2 0 1 0 8.4 0a4.2 4.2 0 1 0 -8.4 0M625.6 1131.4a4.2 4.2 0 1 0 8.4 0a4.2 4.2 0 1 0 -8.4 0M631.5 1136.2a4.2 4.2 0 1 0 8.4 0a4.2 4.2 0 1 0 -8.4 0M635.1 1151.7a4.2 4.2 0 1 0 8.4 0a4.2 4.2 0 1 0 -8.4 0M649.4 1150.5a4.2 4.2 0 1 0 8.4 0a4.2 4.2 0 1 0 -8.4 0M652.9 1123.1a4.2 4.2 0 1 0 8.4 0a4.2 4.2 0 1 0 -8.4 0M655.3 1135.0a4.2 4.2 0 1 0 8.4 0a4.2 4.2 0 1 0 -8.4 0M658.9 1096.9a4.2 4.2 0 1 0 8.4 0a4.2 4.2 0 1 0 -8.4 0M663.7 1118.3a4.2 4.2 0 1 0 8.4 0a4.2 4.2 0 1 0 -8.4 0M667.2 1154.0a4.2 4.2 0 1 0 8.4 0a4.2 4.2 0 1 0 -8.4 0M328.7 1081.4a4.2 4.2 0 1 0 8.4 0a4.2 4.2 0 1 0 -8.4 0M330.5 1086.0a4.2 4.2 0 1 0 8.4 0a4.2 4.2 0 1 0 -8.4 0M333.7 1090.3a4.2 4.2 0 1 0 8.4 0a4.2 4.2 0 1 0 -8.4 0M336.0 1091.4a4.2 4.2 0 1 0 8.4 0a4.2 4.2 0 1 0 -8.4 0M339.1 1090.2a4.2 4.2 0 1 0 8.4 0a4.2 4.2 0 1 0 -8.4 0M341.6 1091.3a4.2 4.2 0 1 0 8.4 0a4.2 4.2 0 1 0 -8.4 0M344.1 1091.4a4.2 4.2 0 1 0 8.4 0a4.2 4.2 0 1 0 -8.4 0M346.5 1093.4a4.2 4.2 0 1 0 8.4 0a4.2 4.2 0 1 0 -8.4 0M348.6 1097.1a4.2 4.2 0 1 0 8.4 0a4.2 4.2 0 1 0 -8.4 0M350.6 1095.2a4.2 4.2 0 1 0 8.4 0a4.2 4.2 0 1 0 -8.4 0M353.5 1094.3a4.2 4.2 0 1 0 8.4 0a4.2 4.2 0 1 0 -8.4 0M356.8 1096.7a4.2 4.2 0 1 0 8.4 0a4.2 4.2 0 1 0 -8.4 0M359.7 1095.0a4.2 4.2 0 1 0 8.4 0a4.2 4.2 0 1 0 -8.4 0M361.3 1095.4a4.2 4.2 0 1 0 8.4 0a4.2 4.2 0 1 0 -8.4 0M364.5 1098.2a4.2 4.2 0 1 0 8.4 0a4.2 4.2 0 1 0 -8.4 0M367.3 1099.5a4.2 4.2 0 1 0 8.4 0a4.2 4.2 0 1 0 -8.4 0M369.4 1105.8a4.2 4.2 0 1 0 8.4 0a4.2 4.2 0 1 0 -8.4 0M372.0 1104.0a4.2 4.2 0 1 0 8.4 0a4.2 4.2 0 1 0 -8.4 0M374.2 1109.0a4.2 4.2 0 1 0 8.4 0a4.2 4.2 0 1 0 -8.4 0M376.2 1107.3a4.2 4.2 0 1 0 8.4 0a4.2 4.2 0 1 0 -8.4 0M379.0 1114.2a4.2 4.2 0 1 0 8.4 0a4.2 4.2 0 1 0 -8.4 0M381.0 1111.4a4.2 4.2 0 1 0 8.4 0a4.2 4.2 0 1 0 -8.4 0M383.6 1115.3a4.2 4.2 0 1 0 8.4 0a4.2 4.2 0 1 0 -8.4 0M385.4 1117.0a4.2 4.2 0 1 0 8.4 0a4.2 4.2 0 1 0 -8.4 0M387.6 1116.1a4.2 4.2 0 1 0 8.4 0a4.2 4.2 0 1 0 -8.4 0M390.0 1119.4a4.2 4.2 0 1 0 8.4 0a4.2 4.2 0 1 0 -8.4 0M392.6 1120.8a4.2 4.2 0 1 0 8.4 0a4.2 4.2 0 1 0 -8.4 0M394.7 1125.9a4.2 4.2 0 1 0 8.4 0a4.2 4.2 0 1 0 -8.4 0M396.8 1120.7a4.2 4.2 0 1 0 8.4 0a4.2 4.2 0 1 0 -8.4 0M400.4 1124.7a4.2 4.2 0 1 0 8.4 0a4.2 4.2 0 1 0 -8.4 0M402.9 1122.7a4.2 4.2 0 1 0 8.4 0a4.2 4.2 0 1 0 -8.4 0M404.6 1120.3a4.2 4.2 0 1 0 8.4 0a4.2 4.2 0 1 0 -8.4 0M407.1 1118.4a4.2 4.2 0 1 0 8.4 0a4.2 4.2 0 1 0 -8.4 0M409.5 1111.2a4.2 4.2 0 1 0 8.4 0a4.2 4.2 0 1 0 -8.4 0M412.6 1113.2a4.2 4.2 0 1 0 8.4 0a4.2 4.2 0 1 0 -8.4 0M414.9 1107.4a4.2 4.2 0 1 0 8.4 0a4.2 4.2 0 1 0 -8.4 0M417.2 1100.8a4.2 4.2 0 1 0 8.4 0a4.2 4.2 0 1 0 -8.4 0M420.0 1097.7a4.2 4.2 0 1 0 8.4 0a4.2 4.2 0 1 0 -8.4 0M423.4 1089.0a4.2 4.2 0 1 0 8.4 0a4.2 4.2 0 1 0 -8.4 0M425.6 1095.9a4.2 4.2 0 1 0 8.4 0a4.2 4.2 0 1 0 -8.4 0M427.2 1099.7a4.2 4.2 0 1 0 8.4 0a4.2 4.2 0 1 0 -8.4 0M429.6 1101.6a4.2 4.2 0 1 0 8.4 0a4.2 4.2 0 1 0 -8.4 0M558.3 1123.2a4.2 4.2 0 1 0 8.4 0a4.2 4.2 0 1 0 -8.4 0M560.8 1127.4a4.2 4.2 0 1 0 8.4 0a4.2 4.2 0 1 0 -8.4 0M563.9 1124.0a4.2 4.2 0 1 0 8.4 0a4.2 4.2 0 1 0 -8.4 0M565.8 1124.2a4.2 4.2 0 1 0 8.4 0a4.2 4.2 0 1 0 -8.4 0M568.2 1127.5a4.2 4.2 0 1 0 8.4 0a4.2 4.2 0 1 0 -8.4 0M571.3 1129.0a4.2 4.2 0 1 0 8.4 0a4.2 4.2 0 1 0 -8.4 0M572.8 1131.8a4.2 4.2 0 1 0 8.4 0a4.2 4.2 0 1 0 -8.4 0M576.2 1127.4a4.2 4.2 0 1 0 8.4 0a4.2 4.2 0 1 0 -8.4 0M578.0 1129.7a4.2 4.2 0 1 0 8.4 0a4.2 4.2 0 1 0 -8.4 0M580.5 1135.0a4.2 4.2 0 1 0 8.4 0a4.2 4.2 0 1 0 -8.4 0M583.5 1134.2a4.2 4.2 0 1 0 8.4 0a4.2 4.2 0 1 0 -8.4 0M585.5 1134.0a4.2 4.2 0 1 0 8.4 0a4.2 4.2 0 1 0 -8.4 0M588.0 1135.9a4.2 4.2 0 1 0 8.4 0a4.2 4.2 0 1 0 -8.4 0M590.4 1136.3a4.2 4.2 0 1 0 8.4 0a4.2 4.2 0 1 0 -8.4 0M593.4 1135.6a4.2 4.2 0 1 0 8.4 0a4.2 4.2 0 1 0 -8.4 0M595.8 1138.0a4.2 4.2 0 1 0 8.4 0a4.2 4.2 0 1 0 -8.4 0" stroke="#0000a8" stroke-width="3.4" fill="none"/>
<text x="370.1" y="1037.3" class="mu" fill="#b00000">&#956;&#8242;</text>
<text x="352.5" y="1195.6" class="mu" fill="#0000c8">&#956;&#8242;&#8242;</text>
<path d="M952.0 813.0a4.2 4.2 0 1 0 8.4 0a4.2 4.2 0 1 0 -8.4 0M948.3 825.7a4.2 4.2 0 1 0 8.4 0a4.2 4.2 0 1 0 -8.4 0M955.6 831.2a4.2 4.2 0 1 0 8.4 0a4.2 4.2 0 1 0 -8.4 0M720.8 812.4a4.2 4.2 0 1 0 8.4 0a4.2 4.2 0 1 0 -8.4 0M727.9 863.8a4.2 4.2 0 1 0 8.4 0a4.2 4.2 0 1 0 -8.4 0M723.9 911.3a4.2 4.2 0 1 0 8.4 0a4.2 4.2 0 1 0 -8.4 0M739.0 921.4a4.2 4.2 0 1 0 8.4 0a4.2 4.2 0 1 0 -8.4 0M780.4 873.9a4.2 4.2 0 1 0 8.4 0a4.2 4.2 0 1 0 -8.4 0M777.4 885.0a4.2 4.2 0 1 0 8.4 0a4.2 4.2 0 1 0 -8.4 0M792.5 907.2a4.2 4.2 0 1 0 8.4 0a4.2 4.2 0 1 0 -8.4 0M789.5 930.4a4.2 4.2 0 1 0 8.4 0a4.2 4.2 0 1 0 -8.4 0M798.5 946.6a4.2 4.2 0 1 0 8.4 0a4.2 4.2 0 1 0 -8.4 0M795.5 958.7a4.2 4.2 0 1 0 8.4 0a4.2 4.2 0 1 0 -8.4 0M731.9 946.6a4.2 4.2 0 1 0 8.4 0a4.2 4.2 0 1 0 -8.4 0M742.0 946.6a4.2 4.2 0 1 0 8.4 0a4.2 4.2 0 1 0 -8.4 0M736.0 958.7a4.2 4.2 0 1 0 8.4 0a4.2 4.2 0 1 0 -8.4 0M751.1 970.8a4.2 4.2 0 1 0 8.4 0a4.2 4.2 0 1 0 -8.4 0M763.2 968.8a4.2 4.2 0 1 0 8.4 0a4.2 4.2 0 1 0 -8.4 0M765.2 973.8a4.2 4.2 0 1 0 8.4 0a4.2 4.2 0 1 0 -8.4 0M774.3 981.9a4.2 4.2 0 1 0 8.4 0a4.2 4.2 0 1 0 -8.4 0M784.4 981.9a4.2 4.2 0 1 0 8.4 0a4.2 4.2 0 1 0 -8.4 0M786.4 968.8a4.2 4.2 0 1 0 8.4 0a4.2 4.2 0 1 0 -8.4 0M802.6 971.8a4.2 4.2 0 1 0 8.4 0a4.2 4.2 0 1 0 -8.4 0M807.6 977.9a4.2 4.2 0 1 0 8.4 0a4.2 4.2 0 1 0 -8.4 0M745.1 997.0a4.2 4.2 0 1 0 8.4 0a4.2 4.2 0 1 0 -8.4 0M759.2 999.1a4.2 4.2 0 1 0 8.4 0a4.2 4.2 0 1 0 -8.4 0M768.3 1001.1a4.2 4.2 0 1 0 8.4 0a4.2 4.2 0 1 0 -8.4 0M754.1 1024.3a4.2 4.2 0 1 0 8.4 0a4.2 4.2 0 1 0 -8.4 0M747.1 1034.4a4.2 4.2 0 1 0 8.4 0a4.2 4.2 0 1 0 -8.4 0M757.2 1038.4a4.2 4.2 0 1 0 8.4 0a4.2 4.2 0 1 0 -8.4 0M771.3 1028.3a4.2 4.2 0 1 0 8.4 0a4.2 4.2 0 1 0 -8.4 0M816.7 989.0a4.2 4.2 0 1 0 8.4 0a4.2 4.2 0 1 0 -8.4 0M803.6 1001.1a4.2 4.2 0 1 0 8.4 0a4.2 4.2 0 1 0 -8.4 0M812.7 1004.1a4.2 4.2 0 1 0 8.4 0a4.2 4.2 0 1 0 -8.4 0M820.7 1000.1a4.2 4.2 0 1 0 8.4 0a4.2 4.2 0 1 0 -8.4 0M825.8 1007.1a4.2 4.2 0 1 0 8.4 0a4.2 4.2 0 1 0 -8.4 0M809.6 1014.2a4.2 4.2 0 1 0 8.4 0a4.2 4.2 0 1 0 -8.4 0M828.8 994.0a4.2 4.2 0 1 0 8.4 0a4.2 4.2 0 1 0 -8.4 0M837.9 992.0a4.2 4.2 0 1 0 8.4 0a4.2 4.2 0 1 0 -8.4 0M840.9 1000.1a4.2 4.2 0 1 0 8.4 0a4.2 4.2 0 1 0 -8.4 0M834.9 977.9a4.2 4.2 0 1 0 8.4 0a4.2 4.2 0 1 0 -8.4 0M844.0 981.9a4.2 4.2 0 1 0 8.4 0a4.2 4.2 0 1 0 -8.4 0M831.8 962.7a4.2 4.2 0 1 0 8.4 0a4.2 4.2 0 1 0 -8.4 0M847.0 950.6a4.2 4.2 0 1 0 8.4 0a4.2 4.2 0 1 0 -8.4 0M850.0 961.7a4.2 4.2 0 1 0 8.4 0a4.2 4.2 0 1 0 -8.4 0M855.1 974.8a4.2 4.2 0 1 0 8.4 0a4.2 4.2 0 1 0 -8.4 0M858.1 988.0a4.2 4.2 0 1 0 8.4 0a4.2 4.2 0 1 0 -8.4 0M863.1 986.0a4.2 4.2 0 1 0 8.4 0a4.2 4.2 0 1 0 -8.4 0M865.1 954.7a4.2 4.2 0 1 0 8.4 0a4.2 4.2 0 1 0 -8.4 0M871.2 959.7a4.2 4.2 0 1 0 8.4 0a4.2 4.2 0 1 0 -8.4 0M868.2 937.5a4.2 4.2 0 1 0 8.4 0a4.2 4.2 0 1 0 -8.4 0M875.2 973.8a4.2 4.2 0 1 0 8.4 0a4.2 4.2 0 1 0 -8.4 0M879.3 921.4a4.2 4.2 0 1 0 8.4 0a4.2 4.2 0 1 0 -8.4 0M883.3 960.7a4.2 4.2 0 1 0 8.4 0a4.2 4.2 0 1 0 -8.4 0M888.4 963.7a4.2 4.2 0 1 0 8.4 0a4.2 4.2 0 1 0 -8.4 0M891.4 972.8a4.2 4.2 0 1 0 8.4 0a4.2 4.2 0 1 0 -8.4 0M895.4 963.7a4.2 4.2 0 1 0 8.4 0a4.2 4.2 0 1 0 -8.4 0M897.4 978.9a4.2 4.2 0 1 0 8.4 0a4.2 4.2 0 1 0 -8.4 0M901.5 916.3a4.2 4.2 0 1 0 8.4 0a4.2 4.2 0 1 0 -8.4 0M909.5 932.5a4.2 4.2 0 1 0 8.4 0a4.2 4.2 0 1 0 -8.4 0M911.6 915.3a4.2 4.2 0 1 0 8.4 0a4.2 4.2 0 1 0 -8.4 0M905.8 916.0a4.2 4.2 0 1 0 8.4 0a4.2 4.2 0 1 0 -8.4 0M953.6 831.8a4.2 4.2 0 1 0 8.4 0a4.2 4.2 0 1 0 -8.4 0M958.9 844.1a4.2 4.2 0 1 0 8.4 0a4.2 4.2 0 1 0 -8.4 0M965.9 843.2a4.2 4.2 0 1 0 8.4 0a4.2 4.2 0 1 0 -8.4 0M969.5 856.4a4.2 4.2 0 1 0 8.4 0a4.2 4.2 0 1 0 -8.4 0M960.7 861.7a4.2 4.2 0 1 0 8.4 0a4.2 4.2 0 1 0 -8.4 0M942.2 852.9a4.2 4.2 0 1 0 8.4 0a4.2 4.2 0 1 0 -8.4 0M939.5 863.5a4.2 4.2 0 1 0 8.4 0a4.2 4.2 0 1 0 -8.4 0M933.4 876.7a4.2 4.2 0 1 0 8.4 0a4.2 4.2 0 1 0 -8.4 0M944.8 874.9a4.2 4.2 0 1 0 8.4 0a4.2 4.2 0 1 0 -8.4 0M972.1 879.3a4.2 4.2 0 1 0 8.4 0a4.2 4.2 0 1 0 -8.4 0M921.9 895.1a4.2 4.2 0 1 0 8.4 0a4.2 4.2 0 1 0 -8.4 0M929.0 895.1a4.2 4.2 0 1 0 8.4 0a4.2 4.2 0 1 0 -8.4 0M923.7 903.9a4.2 4.2 0 1 0 8.4 0a4.2 4.2 0 1 0 -8.4 0M936.0 905.7a4.2 4.2 0 1 0 8.4 0a4.2 4.2 0 1 0 -8.4 0M914.9 909.2a4.2 4.2 0 1 0 8.4 0a4.2 4.2 0 1 0 -8.4 0M907.8 916.3a4.2 4.2 0 1 0 8.4 0a4.2 4.2 0 1 0 -8.4 0M915.8 926.0a4.2 4.2 0 1 0 8.4 0a4.2 4.2 0 1 0 -8.4 0M909.6 932.1a4.2 4.2 0 1 0 8.4 0a4.2 4.2 0 1 0 -8.4 0M975.6 909.2a4.2 4.2 0 1 0 8.4 0a4.2 4.2 0 1 0 -8.4 0M980.0 935.6a4.2 4.2 0 1 0 8.4 0a4.2 4.2 0 1 0 -8.4 0M984.4 987.6a4.2 4.2 0 1 0 8.4 0a4.2 4.2 0 1 0 -8.4 0M987.1 1028.1a4.2 4.2 0 1 0 8.4 0a4.2 4.2 0 1 0 -8.4 0M990.6 1054.5a4.2 4.2 0 1 0 8.4 0a4.2 4.2 0 1 0 -8.4 0M993.2 1068.6a4.2 4.2 0 1 0 8.4 0a4.2 4.2 0 1 0 -8.4 0M996.8 1083.5a4.2 4.2 0 1 0 8.4 0a4.2 4.2 0 1 0 -8.4 0M999.4 1108.2a4.2 4.2 0 1 0 8.4 0a4.2 4.2 0 1 0 -8.4 0M1006.4 1109.9a4.2 4.2 0 1 0 8.4 0a4.2 4.2 0 1 0 -8.4 0M1017.0 1109.0a4.2 4.2 0 1 0 8.4 0a4.2 4.2 0 1 0 -8.4 0M1002.0 1117.0a4.2 4.2 0 1 0 8.4 0a4.2 4.2 0 1 0 -8.4 0M1015.2 1129.3a4.2 4.2 0 1 0 8.4 0a4.2 4.2 0 1 0 -8.4 0M1020.5 1087.0a4.2 4.2 0 1 0 8.4 0a4.2 4.2 0 1 0 -8.4 0M1010.8 1110.0a4.2 4.2 0 1 0 8.4 0a4.2 4.2 0 1 0 -8.4 0M1038.1 1083.5a4.2 4.2 0 1 0 8.4 0a4.2 4.2 0 1 0 -8.4 0M1083.9 1087.0a4.2 4.2 0 1 0 8.4 0a4.2 4.2 0 1 0 -8.4 0M1094.5 1078.2a4.2 4.2 0 1 0 8.4 0a4.2 4.2 0 1 0 -8.4 0M1095.6 1078.1a4.2 4.2 0 1 0 8.4 0a4.2 4.2 0 1 0 -8.4 0M1105.1 1075.7a4.2 4.2 0 1 0 8.4 0a4.2 4.2 0 1 0 -8.4 0M1142.0 1071.0a4.2 4.2 0 1 0 8.4 0a4.2 4.2 0 1 0 -8.4 0M1168.2 1079.3a4.2 4.2 0 1 0 8.4 0a4.2 4.2 0 1 0 -8.4 0M1196.8 1072.1a4.2 4.2 0 1 0 8.4 0a4.2 4.2 0 1 0 -8.4 0M1200.3 1081.7a4.2 4.2 0 1 0 8.4 0a4.2 4.2 0 1 0 -8.4 0M1246.8 1071.0a4.2 4.2 0 1 0 8.4 0a4.2 4.2 0 1 0 -8.4 0M1267.0 1071.0a4.2 4.2 0 1 0 8.4 0a4.2 4.2 0 1 0 -8.4 0M1269.4 1082.9a4.2 4.2 0 1 0 8.4 0a4.2 4.2 0 1 0 -8.4 0M1283.7 1092.4a4.2 4.2 0 1 0 8.4 0a4.2 4.2 0 1 0 -8.4 0M1312.2 1071.0a4.2 4.2 0 1 0 8.4 0a4.2 4.2 0 1 0 -8.4 0M1314.6 1075.7a4.2 4.2 0 1 0 8.4 0a4.2 4.2 0 1 0 -8.4 0M1315.8 1063.8a4.2 4.2 0 1 0 8.4 0a4.2 4.2 0 1 0 -8.4 0M1024.3 1080.0a4.2 4.2 0 1 0 8.4 0a4.2 4.2 0 1 0 -8.4 0M1026.6 1080.7a4.2 4.2 0 1 0 8.4 0a4.2 4.2 0 1 0 -8.4 0M1029.7 1080.5a4.2 4.2 0 1 0 8.4 0a4.2 4.2 0 1 0 -8.4 0M1032.2 1077.8a4.2 4.2 0 1 0 8.4 0a4.2 4.2 0 1 0 -8.4 0M1034.5 1077.9a4.2 4.2 0 1 0 8.4 0a4.2 4.2 0 1 0 -8.4 0M1036.6 1076.7a4.2 4.2 0 1 0 8.4 0a4.2 4.2 0 1 0 -8.4 0M1039.5 1069.9a4.2 4.2 0 1 0 8.4 0a4.2 4.2 0 1 0 -8.4 0M1042.0 1069.0a4.2 4.2 0 1 0 8.4 0a4.2 4.2 0 1 0 -8.4 0M1044.3 1065.3a4.2 4.2 0 1 0 8.4 0a4.2 4.2 0 1 0 -8.4 0M1045.8 1063.1a4.2 4.2 0 1 0 8.4 0a4.2 4.2 0 1 0 -8.4 0M1048.5 1060.4a4.2 4.2 0 1 0 8.4 0a4.2 4.2 0 1 0 -8.4 0M1050.5 1063.2a4.2 4.2 0 1 0 8.4 0a4.2 4.2 0 1 0 -8.4 0M1053.5 1062.0a4.2 4.2 0 1 0 8.4 0a4.2 4.2 0 1 0 -8.4 0M1055.5 1057.9a4.2 4.2 0 1 0 8.4 0a4.2 4.2 0 1 0 -8.4 0M1057.5 1059.2a4.2 4.2 0 1 0 8.4 0a4.2 4.2 0 1 0 -8.4 0M1060.3 1053.5a4.2 4.2 0 1 0 8.4 0a4.2 4.2 0 1 0 -8.4 0M1062.4 1054.2a4.2 4.2 0 1 0 8.4 0a4.2 4.2 0 1 0 -8.4 0M1065.3 1051.9a4.2 4.2 0 1 0 8.4 0a4.2 4.2 0 1 0 -8.4 0M1067.4 1056.3a4.2 4.2 0 1 0 8.4 0a4.2 4.2 0 1 0 -8.4 0M1069.9 1057.8a4.2 4.2 0 1 0 8.4 0a4.2 4.2 0 1 0 -8.4 0M1072.0 1058.7a4.2 4.2 0 1 0 8.4 0a4.2 4.2 0 1 0 -8.4 0M1074.6 1067.7a4.2 4.2 0 1 0 8.4 0a4.2 4.2 0 1 0 -8.4 0M1077.0 1069.4a4.2 4.2 0 1 0 8.4 0a4.2 4.2 0 1 0 -8.4 0M1079.5 1072.6a4.2 4.2 0 1 0 8.4 0a4.2 4.2 0 1 0 -8.4 0M1081.0 1078.6a4.2 4.2 0 1 0 8.4 0a4.2 4.2 0 1 0 -8.4 0M1083.6 1077.9a4.2 4.2 0 1 0 8.4 0a4.2 4.2 0 1 0 -8.4 0M1085.7 1079.4a4.2 4.2 0 1 0 8.4 0a4.2 4.2 0 1 0 -8.4 0M1088.1 1076.4a4.2 4.2 0 1 0 8.4 0a4.2 4.2 0 1 0 -8.4 0M1090.3 1073.3a4.2 4.2 0 1 0 8.4 0a4.2 4.2 0 1 0 -8.4 0M1092.9 1072.9a4.2 4.2 0 1 0 8.4 0a4.2 4.2 0 1 0 -8.4 0M1095.7 1068.6a4.2 4.2 0 1 0 8.4 0a4.2 4.2 0 1 0 -8.4 0M1098.1 1066.8a4.2 4.2 0 1 0 8.4 0a4.2 4.2 0 1 0 -8.4 0M1100.4 1066.7a4.2 4.2 0 1 0 8.4 0a4.2 4.2 0 1 0 -8.4 0M1102.4 1063.9a4.2 4.2 0 1 0 8.4 0a4.2 4.2 0 1 0 -8.4 0M1105.0 1065.3a4.2 4.2 0 1 0 8.4 0a4.2 4.2 0 1 0 -8.4 0M1107.4 1064.7a4.2 4.2 0 1 0 8.4 0a4.2 4.2 0 1 0 -8.4 0M1110.8 1058.9a4.2 4.2 0 1 0 8.4 0a4.2 4.2 0 1 0 -8.4 0M1113.4 1061.2a4.2 4.2 0 1 0 8.4 0a4.2 4.2 0 1 0 -8.4 0M1115.0 1058.5a4.2 4.2 0 1 0 8.4 0a4.2 4.2 0 1 0 -8.4 0M1117.9 1060.2a4.2 4.2 0 1 0 8.4 0a4.2 4.2 0 1 0 -8.4 0M1120.9 1057.5a4.2 4.2 0 1 0 8.4 0a4.2 4.2 0 1 0 -8.4 0M1123.3 1054.5a4.2 4.2 0 1 0 8.4 0a4.2 4.2 0 1 0 -8.4 0M1126.2 1054.7a4.2 4.2 0 1 0 8.4 0a4.2 4.2 0 1 0 -8.4 0M1128.8 1054.9a4.2 4.2 0 1 0 8.4 0a4.2 4.2 0 1 0 -8.4 0M1131.7 1049.2a4.2 4.2 0 1 0 8.4 0a4.2 4.2 0 1 0 -8.4 0M1134.6 1045.1a4.2 4.2 0 1 0 8.4 0a4.2 4.2 0 1 0 -8.4 0M1137.4 1046.1a4.2 4.2 0 1 0 8.4 0a4.2 4.2 0 1 0 -8.4 0M1139.3 1045.2a4.2 4.2 0 1 0 8.4 0a4.2 4.2 0 1 0 -8.4 0M1141.7 1051.9a4.2 4.2 0 1 0 8.4 0a4.2 4.2 0 1 0 -8.4 0M1144.4 1057.0a4.2 4.2 0 1 0 8.4 0a4.2 4.2 0 1 0 -8.4 0M1147.0 1057.4a4.2 4.2 0 1 0 8.4 0a4.2 4.2 0 1 0 -8.4 0M1149.1 1058.8a4.2 4.2 0 1 0 8.4 0a4.2 4.2 0 1 0 -8.4 0M1151.1 1061.7a4.2 4.2 0 1 0 8.4 0a4.2 4.2 0 1 0 -8.4 0M1153.9 1060.4a4.2 4.2 0 1 0 8.4 0a4.2 4.2 0 1 0 -8.4 0M1156.6 1058.0a4.2 4.2 0 1 0 8.4 0a4.2 4.2 0 1 0 -8.4 0M1159.2 1062.3a4.2 4.2 0 1 0 8.4 0a4.2 4.2 0 1 0 -8.4 0M1161.5 1061.1a4.2 4.2 0 1 0 8.4 0a4.2 4.2 0 1 0 -8.4 0M1163.8 1062.8a4.2 4.2 0 1 0 8.4 0a4.2 4.2 0 1 0 -8.4 0M1166.4 1061.9a4.2 4.2 0 1 0 8.4 0a4.2 4.2 0 1 0 -8.4 0M1169.4 1065.0a4.2 4.2 0 1 0 8.4 0a4.2 4.2 0 1 0 -8.4 0M1175.8 1047.6a4.2 4.2 0 1 0 8.4 0a4.2 4.2 0 1 0 -8.4 0M1177.9 1050.4a4.2 4.2 0 1 0 8.4 0a4.2 4.2 0 1 0 -8.4 0M1181.2 1049.4a4.2 4.2 0 1 0 8.4 0a4.2 4.2 0 1 0 -8.4 0M1184.6 1053.5a4.2 4.2 0 1 0 8.4 0a4.2 4.2 0 1 0 -8.4 0M1187.2 1055.5a4.2 4.2 0 1 0 8.4 0a4.2 4.2 0 1 0 -8.4 0M1203.6 1057.3a4.2 4.2 0 1 0 8.4 0a4.2 4.2 0 1 0 -8.4 0M1206.5 1059.1a4.2 4.2 0 1 0 8.4 0a4.2 4.2 0 1 0 -8.4 0M1209.3 1056.7a4.2 4.2 0 1 0 8.4 0a4.2 4.2 0 1 0 -8.4 0M1211.6 1058.1a4.2 4.2 0 1 0 8.4 0a4.2 4.2 0 1 0 -8.4 0M1214.3 1057.6a4.2 4.2 0 1 0 8.4 0a4.2 4.2 0 1 0 -8.4 0M1216.6 1059.7a4.2 4.2 0 1 0 8.4 0a4.2 4.2 0 1 0 -8.4 0M1219.1 1061.0a4.2 4.2 0 1 0 8.4 0a4.2 4.2 0 1 0 -8.4 0M1221.8 1059.8a4.2 4.2 0 1 0 8.4 0a4.2 4.2 0 1 0 -8.4 0M1223.8 1061.2a4.2 4.2 0 1 0 8.4 0a4.2 4.2 0 1 0 -8.4 0M1226.5 1062.2a4.2 4.2 0 1 0 8.4 0a4.2 4.2 0 1 0 -8.4 0M1229.1 1060.8a4.2 4.2 0 1 0 8.4 0a4.2 4.2 0 1 0 -8.4 0M1231.9 1056.5a4.2 4.2 0 1 0 8.4 0a4.2 4.2 0 1 0 -8.4 0M1234.5 1060.5a4.2 4.2 0 1 0 8.4 0a4.2 4.2 0 1 0 -8.4 0M1236.6 1056.6a4.2 4.2 0 1 0 8.4 0a4.2 4.2 0 1 0 -8.4 0M1240.0 1058.9a4.2 4.2 0 1 0 8.4 0a4.2 4.2 0 1 0 -8.4 0M1241.4 1054.0a4.2 4.2 0 1 0 8.4 0a4.2 4.2 0 1 0 -8.4 0M1244.4 1058.5a4.2 4.2 0 1 0 8.4 0a4.2 4.2 0 1 0 -8.4 0M1246.6 1064.2a4.2 4.2 0 1 0 8.4 0a4.2 4.2 0 1 0 -8.4 0M1248.9 1071.2a4.2 4.2 0 1 0 8.4 0a4.2 4.2 0 1 0 -8.4 0M1251.8 1068.0a4.2 4.2 0 1 0 8.4 0a4.2 4.2 0 1 0 -8.4 0M1253.4 1066.8a4.2 4.2 0 1 0 8.4 0a4.2 4.2 0 1 0 -8.4 0M1255.8 1065.9a4.2 4.2 0 1 0 8.4 0a4.2 4.2 0 1 0 -8.4 0M1259.1 1065.6a4.2 4.2 0 1 0 8.4 0a4.2 4.2 0 1 0 -8.4 0M1261.1 1059.9a4.2 4.2 0 1 0 8.4 0a4.2 4.2 0 1 0 -8.4 0M1263.3 1058.4a4.2 4.2 0 1 0 8.4 0a4.2 4.2 0 1 0 -8.4 0M1266.0 1060.4a4.2 4.2 0 1 0 8.4 0a4.2 4.2 0 1 0 -8.4 0M1267.9 1061.0a4.2 4.2 0 1 0 8.4 0a4.2 4.2 0 1 0 -8.4 0M1270.0 1064.9a4.2 4.2 0 1 0 8.4 0a4.2 4.2 0 1 0 -8.4 0M1272.7 1064.6a4.2 4.2 0 1 0 8.4 0a4.2 4.2 0 1 0 -8.4 0M1275.4 1069.7a4.2 4.2 0 1 0 8.4 0a4.2 4.2 0 1 0 -8.4 0M1277.7 1074.2a4.2 4.2 0 1 0 8.4 0a4.2 4.2 0 1 0 -8.4 0M1281.6 1084.9a4.2 4.2 0 1 0 8.4 0a4.2 4.2 0 1 0 -8.4 0M1283.6 1088.0a4.2 4.2 0 1 0 8.4 0a4.2 4.2 0 1 0 -8.4 0M1286.0 1088.8a4.2 4.2 0 1 0 8.4 0a4.2 4.2 0 1 0 -8.4 0" stroke="#a50000" stroke-width="3.4" fill="none"/>
<path d="M773.8 1161.0a4.2 4.2 0 1 0 8.4 0a4.2 4.2 0 1 0 -8.4 0M775.8 1171.0a4.2 4.2 0 1 0 8.4 0a4.2 4.2 0 1 0 -8.4 0M744.1 1014.2a4.2 4.2 0 1 0 8.4 0a4.2 4.2 0 1 0 -8.4 0M733.0 1026.3a4.2 4.2 0 1 0 8.4 0a4.2 4.2 0 1 0 -8.4 0M728.9 1036.4a4.2 4.2 0 1 0 8.4 0a4.2 4.2 0 1 0 -8.4 0M747.1 1044.5a4.2 4.2 0 1 0 8.4 0a4.2 4.2 0 1 0 -8.4 0M720.8 1062.6a4.2 4.2 0 1 0 8.4 0a4.2 4.2 0 1 0 -8.4 0M736.0 1063.6a4.2 4.2 0 1 0 8.4 0a4.2 4.2 0 1 0 -8.4 0M741.0 1061.6a4.2 4.2 0 1 0 8.4 0a4.2 4.2 0 1 0 -8.4 0M723.9 1076.8a4.2 4.2 0 1 0 8.4 0a4.2 4.2 0 1 0 -8.4 0M726.9 1089.9a4.2 4.2 0 1 0 8.4 0a4.2 4.2 0 1 0 -8.4 0M753.1 1076.8a4.2 4.2 0 1 0 8.4 0a4.2 4.2 0 1 0 -8.4 0M750.1 1089.9a4.2 4.2 0 1 0 8.4 0a4.2 4.2 0 1 0 -8.4 0M768.3 1088.9a4.2 4.2 0 1 0 8.4 0a4.2 4.2 0 1 0 -8.4 0M764.2 1101.0a4.2 4.2 0 1 0 8.4 0a4.2 4.2 0 1 0 -8.4 0M761.2 1106.0a4.2 4.2 0 1 0 8.4 0a4.2 4.2 0 1 0 -8.4 0M782.4 1088.9a4.2 4.2 0 1 0 8.4 0a4.2 4.2 0 1 0 -8.4 0M780.4 1102.0a4.2 4.2 0 1 0 8.4 0a4.2 4.2 0 1 0 -8.4 0M786.4 1112.1a4.2 4.2 0 1 0 8.4 0a4.2 4.2 0 1 0 -8.4 0M771.3 1123.2a4.2 4.2 0 1 0 8.4 0a4.2 4.2 0 1 0 -8.4 0M756.2 1129.2a4.2 4.2 0 1 0 8.4 0a4.2 4.2 0 1 0 -8.4 0M792.5 1131.3a4.2 4.2 0 1 0 8.4 0a4.2 4.2 0 1 0 -8.4 0M789.5 1146.4a4.2 4.2 0 1 0 8.4 0a4.2 4.2 0 1 0 -8.4 0M801.6 1077.8a4.2 4.2 0 1 0 8.4 0a4.2 4.2 0 1 0 -8.4 0M796.5 1094.9a4.2 4.2 0 1 0 8.4 0a4.2 4.2 0 1 0 -8.4 0M808.6 1089.9a4.2 4.2 0 1 0 8.4 0a4.2 4.2 0 1 0 -8.4 0M814.7 1101.0a4.2 4.2 0 1 0 8.4 0a4.2 4.2 0 1 0 -8.4 0M813.7 1116.1a4.2 4.2 0 1 0 8.4 0a4.2 4.2 0 1 0 -8.4 0M822.8 1109.0a4.2 4.2 0 1 0 8.4 0a4.2 4.2 0 1 0 -8.4 0M828.8 1111.1a4.2 4.2 0 1 0 8.4 0a4.2 4.2 0 1 0 -8.4 0M833.9 1102.0a4.2 4.2 0 1 0 8.4 0a4.2 4.2 0 1 0 -8.4 0M836.9 1113.1a4.2 4.2 0 1 0 8.4 0a4.2 4.2 0 1 0 -8.4 0M828.8 1136.3a4.2 4.2 0 1 0 8.4 0a4.2 4.2 0 1 0 -8.4 0M840.9 1122.2a4.2 4.2 0 1 0 8.4 0a4.2 4.2 0 1 0 -8.4 0M849.0 1127.2a4.2 4.2 0 1 0 8.4 0a4.2 4.2 0 1 0 -8.4 0M857.1 1122.2a4.2 4.2 0 1 0 8.4 0a4.2 4.2 0 1 0 -8.4 0M845.0 1135.3a4.2 4.2 0 1 0 8.4 0a4.2 4.2 0 1 0 -8.4 0M861.1 1136.3a4.2 4.2 0 1 0 8.4 0a4.2 4.2 0 1 0 -8.4 0M869.2 1133.3a4.2 4.2 0 1 0 8.4 0a4.2 4.2 0 1 0 -8.4 0M877.3 1137.3a4.2 4.2 0 1 0 8.4 0a4.2 4.2 0 1 0 -8.4 0M881.3 1124.2a4.2 4.2 0 1 0 8.4 0a4.2 4.2 0 1 0 -8.4 0M883.3 1107.0a4.2 4.2 0 1 0 8.4 0a4.2 4.2 0 1 0 -8.4 0M889.4 1127.2a4.2 4.2 0 1 0 8.4 0a4.2 4.2 0 1 0 -8.4 0M895.4 1135.3a4.2 4.2 0 1 0 8.4 0a4.2 4.2 0 1 0 -8.4 0M897.4 1139.3a4.2 4.2 0 1 0 8.4 0a4.2 4.2 0 1 0 -8.4 0M901.5 1155.5a4.2 4.2 0 1 0 8.4 0a4.2 4.2 0 1 0 -8.4 0M905.5 1127.2a4.2 4.2 0 1 0 8.4 0a4.2 4.2 0 1 0 -8.4 0M911.6 1119.1a4.2 4.2 0 1 0 8.4 0a4.2 4.2 0 1 0 -8.4 0M718.8 1110.1a4.2 4.2 0 1 0 8.4 0a4.2 4.2 0 1 0 -8.4 0M985.3 900.4a4.2 4.2 0 1 0 8.4 0a4.2 4.2 0 1 0 -8.4 0M983.5 902.2a4.2 4.2 0 1 0 8.4 0a4.2 4.2 0 1 0 -8.4 0M990.6 912.7a4.2 4.2 0 1 0 8.4 0a4.2 4.2 0 1 0 -8.4 0M981.8 923.3a4.2 4.2 0 1 0 8.4 0a4.2 4.2 0 1 0 -8.4 0M994.1 926.8a4.2 4.2 0 1 0 8.4 0a4.2 4.2 0 1 0 -8.4 0M996.8 939.2a4.2 4.2 0 1 0 8.4 0a4.2 4.2 0 1 0 -8.4 0M978.3 946.2a4.2 4.2 0 1 0 8.4 0a4.2 4.2 0 1 0 -8.4 0M974.7 955.0a4.2 4.2 0 1 0 8.4 0a4.2 4.2 0 1 0 -8.4 0M972.1 965.6a4.2 4.2 0 1 0 8.4 0a4.2 4.2 0 1 0 -8.4 0M999.4 951.5a4.2 4.2 0 1 0 8.4 0a4.2 4.2 0 1 0 -8.4 0M1002.9 992.0a4.2 4.2 0 1 0 8.4 0a4.2 4.2 0 1 0 -8.4 0M969.5 999.9a4.2 4.2 0 1 0 8.4 0a4.2 4.2 0 1 0 -8.4 0M966.8 1006.1a4.2 4.2 0 1 0 8.4 0a4.2 4.2 0 1 0 -8.4 0M1005.6 1012.2a4.2 4.2 0 1 0 8.4 0a4.2 4.2 0 1 0 -8.4 0M1008.2 1028.9a4.2 4.2 0 1 0 8.4 0a4.2 4.2 0 1 0 -8.4 0M1011.7 1039.5a4.2 4.2 0 1 0 8.4 0a4.2 4.2 0 1 0 -8.4 0M960.7 1029.8a4.2 4.2 0 1 0 8.4 0a4.2 4.2 0 1 0 -8.4 0M964.2 1038.6a4.2 4.2 0 1 0 8.4 0a4.2 4.2 0 1 0 -8.4 0M954.5 1040.4a4.2 4.2 0 1 0 8.4 0a4.2 4.2 0 1 0 -8.4 0M951.9 1051.0a4.2 4.2 0 1 0 8.4 0a4.2 4.2 0 1 0 -8.4 0M944.8 1076.5a4.2 4.2 0 1 0 8.4 0a4.2 4.2 0 1 0 -8.4 0M948.3 1080.0a4.2 4.2 0 1 0 8.4 0a4.2 4.2 0 1 0 -8.4 0M941.3 1092.3a4.2 4.2 0 1 0 8.4 0a4.2 4.2 0 1 0 -8.4 0M902.6 1143.4a4.2 4.2 0 1 0 8.4 0a4.2 4.2 0 1 0 -8.4 0M902.6 1157.5a4.2 4.2 0 1 0 8.4 0a4.2 4.2 0 1 0 -8.4 0M1013.5 1065.9a4.2 4.2 0 1 0 8.4 0a4.2 4.2 0 1 0 -8.4 0M1022.3 1080.0a4.2 4.2 0 1 0 8.4 0a4.2 4.2 0 1 0 -8.4 0M1024.0 1087.0a4.2 4.2 0 1 0 8.4 0a4.2 4.2 0 1 0 -8.4 0M1017.0 1101.1a4.2 4.2 0 1 0 8.4 0a4.2 4.2 0 1 0 -8.4 0M1032.8 1097.6a4.2 4.2 0 1 0 8.4 0a4.2 4.2 0 1 0 -8.4 0M1039.9 1101.1a4.2 4.2 0 1 0 8.4 0a4.2 4.2 0 1 0 -8.4 0M1071.6 1087.0a4.2 4.2 0 1 0 8.4 0a4.2 4.2 0 1 0 -8.4 0M1083.9 1120.5a4.2 4.2 0 1 0 8.4 0a4.2 4.2 0 1 0 -8.4 0M1142.0 1100.1a4.2 4.2 0 1 0 8.4 0a4.2 4.2 0 1 0 -8.4 0M1117.0 1111.4a4.2 4.2 0 1 0 8.4 0a4.2 4.2 0 1 0 -8.4 0M1112.2 1126.9a4.2 4.2 0 1 0 8.4 0a4.2 4.2 0 1 0 -8.4 0M1122.9 1126.9a4.2 4.2 0 1 0 8.4 0a4.2 4.2 0 1 0 -8.4 0M1130.1 1136.4a4.2 4.2 0 1 0 8.4 0a4.2 4.2 0 1 0 -8.4 0M1136.0 1116.2a4.2 4.2 0 1 0 8.4 0a4.2 4.2 0 1 0 -8.4 0M1134.8 1123.3a4.2 4.2 0 1 0 8.4 0a4.2 4.2 0 1 0 -8.4 0M1152.7 1117.4a4.2 4.2 0 1 0 8.4 0a4.2 4.2 0 1 0 -8.4 0M1164.6 1118.6a4.2 4.2 0 1 0 8.4 0a4.2 4.2 0 1 0 -8.4 0M1158.7 1125.7a4.2 4.2 0 1 0 8.4 0a4.2 4.2 0 1 0 -8.4 0M1149.1 1132.9a4.2 4.2 0 1 0 8.4 0a4.2 4.2 0 1 0 -8.4 0M1182.5 1093.6a4.2 4.2 0 1 0 8.4 0a4.2 4.2 0 1 0 -8.4 0M1195.6 1090.0a4.2 4.2 0 1 0 8.4 0a4.2 4.2 0 1 0 -8.4 0M1197.9 1079.3a4.2 4.2 0 1 0 8.4 0a4.2 4.2 0 1 0 -8.4 0M1186.0 1100.7a4.2 4.2 0 1 0 8.4 0a4.2 4.2 0 1 0 -8.4 0M1188.4 1125.7a4.2 4.2 0 1 0 8.4 0a4.2 4.2 0 1 0 -8.4 0M1192.0 1132.9a4.2 4.2 0 1 0 8.4 0a4.2 4.2 0 1 0 -8.4 0M1200.3 1138.8a4.2 4.2 0 1 0 8.4 0a4.2 4.2 0 1 0 -8.4 0M1203.9 1150.7a4.2 4.2 0 1 0 8.4 0a4.2 4.2 0 1 0 -8.4 0M1207.5 1129.3a4.2 4.2 0 1 0 8.4 0a4.2 4.2 0 1 0 -8.4 0M1213.4 1136.4a4.2 4.2 0 1 0 8.4 0a4.2 4.2 0 1 0 -8.4 0M1213.4 1148.3a4.2 4.2 0 1 0 8.4 0a4.2 4.2 0 1 0 -8.4 0M1226.5 1122.1a4.2 4.2 0 1 0 8.4 0a4.2 4.2 0 1 0 -8.4 0M1221.8 1141.2a4.2 4.2 0 1 0 8.4 0a4.2 4.2 0 1 0 -8.4 0M1233.7 1138.8a4.2 4.2 0 1 0 8.4 0a4.2 4.2 0 1 0 -8.4 0M1239.6 1148.3a4.2 4.2 0 1 0 8.4 0a4.2 4.2 0 1 0 -8.4 0M1245.6 1121.0a4.2 4.2 0 1 0 8.4 0a4.2 4.2 0 1 0 -8.4 0M1249.1 1140.0a4.2 4.2 0 1 0 8.4 0a4.2 4.2 0 1 0 -8.4 0M1257.5 1146.0a4.2 4.2 0 1 0 8.4 0a4.2 4.2 0 1 0 -8.4 0M1253.9 1161.4a4.2 4.2 0 1 0 8.4 0a4.2 4.2 0 1 0 -8.4 0M1262.2 1085.2a4.2 4.2 0 1 0 8.4 0a4.2 4.2 0 1 0 -8.4 0M1259.8 1092.4a4.2 4.2 0 1 0 8.4 0a4.2 4.2 0 1 0 -8.4 0M1267.0 1094.8a4.2 4.2 0 1 0 8.4 0a4.2 4.2 0 1 0 -8.4 0M1269.4 1109.0a4.2 4.2 0 1 0 8.4 0a4.2 4.2 0 1 0 -8.4 0M1277.7 1118.6a4.2 4.2 0 1 0 8.4 0a4.2 4.2 0 1 0 -8.4 0M1272.9 1128.1a4.2 4.2 0 1 0 8.4 0a4.2 4.2 0 1 0 -8.4 0M1275.3 1142.4a4.2 4.2 0 1 0 8.4 0a4.2 4.2 0 1 0 -8.4 0M1281.3 1142.4a4.2 4.2 0 1 0 8.4 0a4.2 4.2 0 1 0 -8.4 0M1284.8 1160.2a4.2 4.2 0 1 0 8.4 0a4.2 4.2 0 1 0 -8.4 0M1299.1 1159.0a4.2 4.2 0 1 0 8.4 0a4.2 4.2 0 1 0 -8.4 0M1302.7 1130.5a4.2 4.2 0 1 0 8.4 0a4.2 4.2 0 1 0 -8.4 0M1305.1 1146.0a4.2 4.2 0 1 0 8.4 0a4.2 4.2 0 1 0 -8.4 0M1308.7 1103.1a4.2 4.2 0 1 0 8.4 0a4.2 4.2 0 1 0 -8.4 0M1314.6 1126.9a4.2 4.2 0 1 0 8.4 0a4.2 4.2 0 1 0 -8.4 0M1315.8 1163.8a4.2 4.2 0 1 0 8.4 0a4.2 4.2 0 1 0 -8.4 0M1227.7 1136.4a4.2 4.2 0 1 0 8.4 0a4.2 4.2 0 1 0 -8.4 0M1231.8 1138.0a4.2 4.2 0 1 0 8.4 0a4.2 4.2 0 1 0 -8.4 0M1235.8 1140.0a4.2 4.2 0 1 0 8.4 0a4.2 4.2 0 1 0 -8.4 0M900.3 1126.9a4.2 4.2 0 1 0 8.4 0a4.2 4.2 0 1 0 -8.4 0M902.7 1126.0a4.2 4.2 0 1 0 8.4 0a4.2 4.2 0 1 0 -8.4 0M905.4 1124.1a4.2 4.2 0 1 0 8.4 0a4.2 4.2 0 1 0 -8.4 0M907.7 1119.7a4.2 4.2 0 1 0 8.4 0a4.2 4.2 0 1 0 -8.4 0M909.7 1120.2a4.2 4.2 0 1 0 8.4 0a4.2 4.2 0 1 0 -8.4 0M912.1 1117.5a4.2 4.2 0 1 0 8.4 0a4.2 4.2 0 1 0 -8.4 0M914.6 1115.0a4.2 4.2 0 1 0 8.4 0a4.2 4.2 0 1 0 -8.4 0M917.4 1113.1a4.2 4.2 0 1 0 8.4 0a4.2 4.2 0 1 0 -8.4 0M919.6 1112.6a4.2 4.2 0 1 0 8.4 0a4.2 4.2 0 1 0 -8.4 0M922.0 1108.3a4.2 4.2 0 1 0 8.4 0a4.2 4.2 0 1 0 -8.4 0M924.3 1107.5a4.2 4.2 0 1 0 8.4 0a4.2 4.2 0 1 0 -8.4 0M926.3 1101.8a4.2 4.2 0 1 0 8.4 0a4.2 4.2 0 1 0 -8.4 0M929.0 1102.5a4.2 4.2 0 1 0 8.4 0a4.2 4.2 0 1 0 -8.4 0M931.7 1095.2a4.2 4.2 0 1 0 8.4 0a4.2 4.2 0 1 0 -8.4 0M933.8 1091.9a4.2 4.2 0 1 0 8.4 0a4.2 4.2 0 1 0 -8.4 0M936.0 1088.8a4.2 4.2 0 1 0 8.4 0a4.2 4.2 0 1 0 -8.4 0M1041.5 1115.7a4.2 4.2 0 1 0 8.4 0a4.2 4.2 0 1 0 -8.4 0M1043.7 1117.5a4.2 4.2 0 1 0 8.4 0a4.2 4.2 0 1 0 -8.4 0M1047.1 1117.3a4.2 4.2 0 1 0 8.4 0a4.2 4.2 0 1 0 -8.4 0M1049.0 1120.2a4.2 4.2 0 1 0 8.4 0a4.2 4.2 0 1 0 -8.4 0M1052.5 1119.1a4.2 4.2 0 1 0 8.4 0a4.2 4.2 0 1 0 -8.4 0M1054.9 1113.2a4.2 4.2 0 1 0 8.4 0a4.2 4.2 0 1 0 -8.4 0M1056.4 1113.3a4.2 4.2 0 1 0 8.4 0a4.2 4.2 0 1 0 -8.4 0M1059.3 1111.8a4.2 4.2 0 1 0 8.4 0a4.2 4.2 0 1 0 -8.4 0M1061.9 1110.7a4.2 4.2 0 1 0 8.4 0a4.2 4.2 0 1 0 -8.4 0M1063.4 1109.8a4.2 4.2 0 1 0 8.4 0a4.2 4.2 0 1 0 -8.4 0M1066.4 1107.6a4.2 4.2 0 1 0 8.4 0a4.2 4.2 0 1 0 -8.4 0M1068.4 1105.6a4.2 4.2 0 1 0 8.4 0a4.2 4.2 0 1 0 -8.4 0M1070.4 1101.4a4.2 4.2 0 1 0 8.4 0a4.2 4.2 0 1 0 -8.4 0M1073.1 1097.9a4.2 4.2 0 1 0 8.4 0a4.2 4.2 0 1 0 -8.4 0M1075.4 1098.9a4.2 4.2 0 1 0 8.4 0a4.2 4.2 0 1 0 -8.4 0M1077.3 1098.5a4.2 4.2 0 1 0 8.4 0a4.2 4.2 0 1 0 -8.4 0M1080.4 1101.1a4.2 4.2 0 1 0 8.4 0a4.2 4.2 0 1 0 -8.4 0" stroke="#0000a8" stroke-width="3.4" fill="none"/>
<text x="861.8" y="898.2" class="mu" fill="#b00000">&#956;&#8242;</text>
<text x="860.1" y="1192.5" class="mu" fill="#0000c8">&#956;&#8242;&#8242;</text>
<path d="M1369.2 774.1a4.2 4.2 0 1 0 8.4 0a4.2 4.2 0 1 0 -8.4 0M1375.8 827.4a4.2 4.2 0 1 0 8.4 0a4.2 4.2 0 1 0 -8.4 0M1429.0 847.0a4.2 4.2 0 1 0 8.4 0a4.2 4.2 0 1 0 -8.4 0M1425.8 856.7a4.2 4.2 0 1 0 8.4 0a4.2 4.2 0 1 0 -8.4 0M1371.4 883.9a4.2 4.2 0 1 0 8.4 0a4.2 4.2 0 1 0 -8.4 0M1386.6 895.9a4.2 4.2 0 1 0 8.4 0a4.2 4.2 0 1 0 -8.4 0M1439.9 881.7a4.2 4.2 0 1 0 8.4 0a4.2 4.2 0 1 0 -8.4 0M1437.7 908.9a4.2 4.2 0 1 0 8.4 0a4.2 4.2 0 1 0 -8.4 0M1381.2 922.0a4.2 4.2 0 1 0 8.4 0a4.2 4.2 0 1 0 -8.4 0M1389.9 924.1a4.2 4.2 0 1 0 8.4 0a4.2 4.2 0 1 0 -8.4 0M1383.4 938.3a4.2 4.2 0 1 0 8.4 0a4.2 4.2 0 1 0 -8.4 0M1446.4 928.5a4.2 4.2 0 1 0 8.4 0a4.2 4.2 0 1 0 -8.4 0M1443.1 941.5a4.2 4.2 0 1 0 8.4 0a4.2 4.2 0 1 0 -8.4 0M1398.6 951.3a4.2 4.2 0 1 0 8.4 0a4.2 4.2 0 1 0 -8.4 0M1410.5 950.2a4.2 4.2 0 1 0 8.4 0a4.2 4.2 0 1 0 -8.4 0M1413.8 956.7a4.2 4.2 0 1 0 8.4 0a4.2 4.2 0 1 0 -8.4 0M1422.5 965.4a4.2 4.2 0 1 0 8.4 0a4.2 4.2 0 1 0 -8.4 0M1431.2 967.6a4.2 4.2 0 1 0 8.4 0a4.2 4.2 0 1 0 -8.4 0M1434.5 951.3a4.2 4.2 0 1 0 8.4 0a4.2 4.2 0 1 0 -8.4 0M1448.6 955.7a4.2 4.2 0 1 0 8.4 0a4.2 4.2 0 1 0 -8.4 0M1455.1 964.3a4.2 4.2 0 1 0 8.4 0a4.2 4.2 0 1 0 -8.4 0M1392.1 981.7a4.2 4.2 0 1 0 8.4 0a4.2 4.2 0 1 0 -8.4 0M1407.3 985.0a4.2 4.2 0 1 0 8.4 0a4.2 4.2 0 1 0 -8.4 0M1416.0 988.3a4.2 4.2 0 1 0 8.4 0a4.2 4.2 0 1 0 -8.4 0M1400.8 1013.3a4.2 4.2 0 1 0 8.4 0a4.2 4.2 0 1 0 -8.4 0M1395.3 1024.1a4.2 4.2 0 1 0 8.4 0a4.2 4.2 0 1 0 -8.4 0M1404.0 1029.6a4.2 4.2 0 1 0 8.4 0a4.2 4.2 0 1 0 -8.4 0M1419.2 1018.7a4.2 4.2 0 1 0 8.4 0a4.2 4.2 0 1 0 -8.4 0M1463.8 977.4a4.2 4.2 0 1 0 8.4 0a4.2 4.2 0 1 0 -8.4 0M1451.8 989.3a4.2 4.2 0 1 0 8.4 0a4.2 4.2 0 1 0 -8.4 0M1466.0 992.6a4.2 4.2 0 1 0 8.4 0a4.2 4.2 0 1 0 -8.4 0M1470.3 990.4a4.2 4.2 0 1 0 8.4 0a4.2 4.2 0 1 0 -8.4 0M1458.4 1003.5a4.2 4.2 0 1 0 8.4 0a4.2 4.2 0 1 0 -8.4 0M1474.7 997.0a4.2 4.2 0 1 0 8.4 0a4.2 4.2 0 1 0 -8.4 0M1476.8 983.9a4.2 4.2 0 1 0 8.4 0a4.2 4.2 0 1 0 -8.4 0M1486.6 983.9a4.2 4.2 0 1 0 8.4 0a4.2 4.2 0 1 0 -8.4 0M1487.7 992.6a4.2 4.2 0 1 0 8.4 0a4.2 4.2 0 1 0 -8.4 0M1482.3 968.7a4.2 4.2 0 1 0 8.4 0a4.2 4.2 0 1 0 -8.4 0M1492.1 973.0a4.2 4.2 0 1 0 8.4 0a4.2 4.2 0 1 0 -8.4 0M1479.0 950.2a4.2 4.2 0 1 0 8.4 0a4.2 4.2 0 1 0 -8.4 0M1494.2 940.4a4.2 4.2 0 1 0 8.4 0a4.2 4.2 0 1 0 -8.4 0M1497.5 953.5a4.2 4.2 0 1 0 8.4 0a4.2 4.2 0 1 0 -8.4 0M1500.8 970.9a4.2 4.2 0 1 0 8.4 0a4.2 4.2 0 1 0 -8.4 0M1504.0 968.7a4.2 4.2 0 1 0 8.4 0a4.2 4.2 0 1 0 -8.4 0M1507.3 981.7a4.2 4.2 0 1 0 8.4 0a4.2 4.2 0 1 0 -8.4 0M1506.2 983.9a4.2 4.2 0 1 0 8.4 0a4.2 4.2 0 1 0 -8.4 0M1511.6 949.1a4.2 4.2 0 1 0 8.4 0a4.2 4.2 0 1 0 -8.4 0M1516.0 932.8a4.2 4.2 0 1 0 8.4 0a4.2 4.2 0 1 0 -8.4 0M1518.1 954.6a4.2 4.2 0 1 0 8.4 0a4.2 4.2 0 1 0 -8.4 0M1520.3 969.8a4.2 4.2 0 1 0 8.4 0a4.2 4.2 0 1 0 -8.4 0M1524.7 970.9a4.2 4.2 0 1 0 8.4 0a4.2 4.2 0 1 0 -8.4 0M1526.8 918.7a4.2 4.2 0 1 0 8.4 0a4.2 4.2 0 1 0 -8.4 0M1531.2 960.0a4.2 4.2 0 1 0 8.4 0a4.2 4.2 0 1 0 -8.4 0M1537.7 962.2a4.2 4.2 0 1 0 8.4 0a4.2 4.2 0 1 0 -8.4 0M1535.5 968.7a4.2 4.2 0 1 0 8.4 0a4.2 4.2 0 1 0 -8.4 0M1543.1 966.5a4.2 4.2 0 1 0 8.4 0a4.2 4.2 0 1 0 -8.4 0M1539.9 975.2a4.2 4.2 0 1 0 8.4 0a4.2 4.2 0 1 0 -8.4 0M1545.3 980.7a4.2 4.2 0 1 0 8.4 0a4.2 4.2 0 1 0 -8.4 0M1548.6 920.9a4.2 4.2 0 1 0 8.4 0a4.2 4.2 0 1 0 -8.4 0M1555.1 920.9a4.2 4.2 0 1 0 8.4 0a4.2 4.2 0 1 0 -8.4 0M1557.3 935.0a4.2 4.2 0 1 0 8.4 0a4.2 4.2 0 1 0 -8.4 0M1561.6 905.7a4.2 4.2 0 1 0 8.4 0a4.2 4.2 0 1 0 -8.4 0M1551.8 921.0a4.2 4.2 0 1 0 8.4 0a4.2 4.2 0 1 0 -8.4 0M1629.4 729.3a4.2 4.2 0 1 0 8.4 0a4.2 4.2 0 1 0 -8.4 0M1631.9 755.9a4.2 4.2 0 1 0 8.4 0a4.2 4.2 0 1 0 -8.4 0M1619.3 804.1a4.2 4.2 0 1 0 8.4 0a4.2 4.2 0 1 0 -8.4 0M1626.9 806.6a4.2 4.2 0 1 0 8.4 0a4.2 4.2 0 1 0 -8.4 0M1635.7 805.4a4.2 4.2 0 1 0 8.4 0a4.2 4.2 0 1 0 -8.4 0M1614.2 811.7a4.2 4.2 0 1 0 8.4 0a4.2 4.2 0 1 0 -8.4 0M1599.0 819.3a4.2 4.2 0 1 0 8.4 0a4.2 4.2 0 1 0 -8.4 0M1596.4 835.8a4.2 4.2 0 1 0 8.4 0a4.2 4.2 0 1 0 -8.4 0M1604.0 834.5a4.2 4.2 0 1 0 8.4 0a4.2 4.2 0 1 0 -8.4 0M1611.7 834.5a4.2 4.2 0 1 0 8.4 0a4.2 4.2 0 1 0 -8.4 0M1605.3 843.4a4.2 4.2 0 1 0 8.4 0a4.2 4.2 0 1 0 -8.4 0M1607.8 853.5a4.2 4.2 0 1 0 8.4 0a4.2 4.2 0 1 0 -8.4 0M1590.1 859.9a4.2 4.2 0 1 0 8.4 0a4.2 4.2 0 1 0 -8.4 0M1586.3 872.6a4.2 4.2 0 1 0 8.4 0a4.2 4.2 0 1 0 -8.4 0M1581.2 884.0a4.2 4.2 0 1 0 8.4 0a4.2 4.2 0 1 0 -8.4 0M1593.9 884.0a4.2 4.2 0 1 0 8.4 0a4.2 4.2 0 1 0 -8.4 0M1573.6 901.7a4.2 4.2 0 1 0 8.4 0a4.2 4.2 0 1 0 -8.4 0M1578.7 905.5a4.2 4.2 0 1 0 8.4 0a4.2 4.2 0 1 0 -8.4 0M1568.5 910.6a4.2 4.2 0 1 0 8.4 0a4.2 4.2 0 1 0 -8.4 0M1583.8 911.9a4.2 4.2 0 1 0 8.4 0a4.2 4.2 0 1 0 -8.4 0M1555.9 919.5a4.2 4.2 0 1 0 8.4 0a4.2 4.2 0 1 0 -8.4 0M1562.2 923.3a4.2 4.2 0 1 0 8.4 0a4.2 4.2 0 1 0 -8.4 0M1557.1 934.7a4.2 4.2 0 1 0 8.4 0a4.2 4.2 0 1 0 -8.4 0M1563.5 929.6a4.2 4.2 0 1 0 8.4 0a4.2 4.2 0 1 0 -8.4 0M1638.3 854.8a4.2 4.2 0 1 0 8.4 0a4.2 4.2 0 1 0 -8.4 0M1639.5 877.6a4.2 4.2 0 1 0 8.4 0a4.2 4.2 0 1 0 -8.4 0M1643.3 911.9a4.2 4.2 0 1 0 8.4 0a4.2 4.2 0 1 0 -8.4 0M1645.9 984.1a4.2 4.2 0 1 0 8.4 0a4.2 4.2 0 1 0 -8.4 0M1649.7 1017.1a4.2 4.2 0 1 0 8.4 0a4.2 4.2 0 1 0 -8.4 0M1653.5 1037.4a4.2 4.2 0 1 0 8.4 0a4.2 4.2 0 1 0 -8.4 0M1656.0 1057.6a4.2 4.2 0 1 0 8.4 0a4.2 4.2 0 1 0 -8.4 0M1658.6 1077.9a4.2 4.2 0 1 0 8.4 0a4.2 4.2 0 1 0 -8.4 0M1682.6 1090.6a4.2 4.2 0 1 0 8.4 0a4.2 4.2 0 1 0 -8.4 0M1733.3 1084.4a4.2 4.2 0 1 0 8.4 0a4.2 4.2 0 1 0 -8.4 0M1751.9 1077.0a4.2 4.2 0 1 0 8.4 0a4.2 4.2 0 1 0 -8.4 0M1790.4 1070.7a4.2 4.2 0 1 0 8.4 0a4.2 4.2 0 1 0 -8.4 0M1815.2 1078.2a4.2 4.2 0 1 0 8.4 0a4.2 4.2 0 1 0 -8.4 0M1848.8 1079.4a4.2 4.2 0 1 0 8.4 0a4.2 4.2 0 1 0 -8.4 0M1928.3 1093.1a4.2 4.2 0 1 0 8.4 0a4.2 4.2 0 1 0 -8.4 0M1959.3 1069.5a4.2 4.2 0 1 0 8.4 0a4.2 4.2 0 1 0 -8.4 0M1960.6 1077.0a4.2 4.2 0 1 0 8.4 0a4.2 4.2 0 1 0 -8.4 0M1659.9 1113.4a4.2 4.2 0 1 0 8.4 0a4.2 4.2 0 1 0 -8.4 0M1662.8 1102.8a4.2 4.2 0 1 0 8.4 0a4.2 4.2 0 1 0 -8.4 0M1664.9 1097.8a4.2 4.2 0 1 0 8.4 0a4.2 4.2 0 1 0 -8.4 0M1667.1 1093.9a4.2 4.2 0 1 0 8.4 0a4.2 4.2 0 1 0 -8.4 0M1670.4 1091.6a4.2 4.2 0 1 0 8.4 0a4.2 4.2 0 1 0 -8.4 0M1673.0 1091.3a4.2 4.2 0 1 0 8.4 0a4.2 4.2 0 1 0 -8.4 0M1674.9 1086.0a4.2 4.2 0 1 0 8.4 0a4.2 4.2 0 1 0 -8.4 0M1677.1 1084.4a4.2 4.2 0 1 0 8.4 0a4.2 4.2 0 1 0 -8.4 0M1679.9 1083.2a4.2 4.2 0 1 0 8.4 0a4.2 4.2 0 1 0 -8.4 0M1682.9 1078.7a4.2 4.2 0 1 0 8.4 0a4.2 4.2 0 1 0 -8.4 0M1685.2 1081.2a4.2 4.2 0 1 0 8.4 0a4.2 4.2 0 1 0 -8.4 0M1687.6 1076.0a4.2 4.2 0 1 0 8.4 0a4.2 4.2 0 1 0 -8.4 0M1689.9 1076.3a4.2 4.2 0 1 0 8.4 0a4.2 4.2 0 1 0 -8.4 0M1692.2 1074.0a4.2 4.2 0 1 0 8.4 0a4.2 4.2 0 1 0 -8.4 0M1695.8 1070.1a4.2 4.2 0 1 0 8.4 0a4.2 4.2 0 1 0 -8.4 0M1697.7 1068.9a4.2 4.2 0 1 0 8.4 0a4.2 4.2 0 1 0 -8.4 0M1699.8 1064.4a4.2 4.2 0 1 0 8.4 0a4.2 4.2 0 1 0 -8.4 0M1703.0 1060.5a4.2 4.2 0 1 0 8.4 0a4.2 4.2 0 1 0 -8.4 0M1705.0 1058.5a4.2 4.2 0 1 0 8.4 0a4.2 4.2 0 1 0 -8.4 0M1707.6 1061.7a4.2 4.2 0 1 0 8.4 0a4.2 4.2 0 1 0 -8.4 0M1710.9 1059.7a4.2 4.2 0 1 0 8.4 0a4.2 4.2 0 1 0 -8.4 0M1713.6 1058.3a4.2 4.2 0 1 0 8.4 0a4.2 4.2 0 1 0 -8.4 0M1715.3 1057.6a4.2 4.2 0 1 0 8.4 0a4.2 4.2 0 1 0 -8.4 0M1717.8 1064.4a4.2 4.2 0 1 0 8.4 0a4.2 4.2 0 1 0 -8.4 0M1720.5 1061.3a4.2 4.2 0 1 0 8.4 0a4.2 4.2 0 1 0 -8.4 0M1723.5 1065.4a4.2 4.2 0 1 0 8.4 0a4.2 4.2 0 1 0 -8.4 0M1725.9 1067.0a4.2 4.2 0 1 0 8.4 0a4.2 4.2 0 1 0 -8.4 0M1728.8 1068.1a4.2 4.2 0 1 0 8.4 0a4.2 4.2 0 1 0 -8.4 0M1730.7 1072.6a4.2 4.2 0 1 0 8.4 0a4.2 4.2 0 1 0 -8.4 0M1733.8 1071.6a4.2 4.2 0 1 0 8.4 0a4.2 4.2 0 1 0 -8.4 0M1736.3 1065.2a4.2 4.2 0 1 0 8.4 0a4.2 4.2 0 1 0 -8.4 0M1738.9 1066.8a4.2 4.2 0 1 0 8.4 0a4.2 4.2 0 1 0 -8.4 0M1742.2 1062.7a4.2 4.2 0 1 0 8.4 0a4.2 4.2 0 1 0 -8.4 0M1743.9 1062.9a4.2 4.2 0 1 0 8.4 0a4.2 4.2 0 1 0 -8.4 0M1746.5 1063.3a4.2 4.2 0 1 0 8.4 0a4.2 4.2 0 1 0 -8.4 0M1749.2 1063.1a4.2 4.2 0 1 0 8.4 0a4.2 4.2 0 1 0 -8.4 0M1752.0 1062.1a4.2 4.2 0 1 0 8.4 0a4.2 4.2 0 1 0 -8.4 0M1754.7 1061.3a4.2 4.2 0 1 0 8.4 0a4.2 4.2 0 1 0 -8.4 0M1757.8 1061.5a4.2 4.2 0 1 0 8.4 0a4.2 4.2 0 1 0 -8.4 0M1760.9 1057.2a4.2 4.2 0 1 0 8.4 0a4.2 4.2 0 1 0 -8.4 0M1762.6 1055.2a4.2 4.2 0 1 0 8.4 0a4.2 4.2 0 1 0 -8.4 0M1765.9 1055.9a4.2 4.2 0 1 0 8.4 0a4.2 4.2 0 1 0 -8.4 0M1767.9 1051.6a4.2 4.2 0 1 0 8.4 0a4.2 4.2 0 1 0 -8.4 0M1771.3 1053.6a4.2 4.2 0 1 0 8.4 0a4.2 4.2 0 1 0 -8.4 0M1773.9 1052.0a4.2 4.2 0 1 0 8.4 0a4.2 4.2 0 1 0 -8.4 0M1776.8 1047.4a4.2 4.2 0 1 0 8.4 0a4.2 4.2 0 1 0 -8.4 0M1779.5 1045.4a4.2 4.2 0 1 0 8.4 0a4.2 4.2 0 1 0 -8.4 0M1781.6 1047.0a4.2 4.2 0 1 0 8.4 0a4.2 4.2 0 1 0 -8.4 0M1784.2 1044.7a4.2 4.2 0 1 0 8.4 0a4.2 4.2 0 1 0 -8.4 0M1787.7 1051.5a4.2 4.2 0 1 0 8.4 0a4.2 4.2 0 1 0 -8.4 0M1790.0 1056.4a4.2 4.2 0 1 0 8.4 0a4.2 4.2 0 1 0 -8.4 0M1792.9 1054.4a4.2 4.2 0 1 0 8.4 0a4.2 4.2 0 1 0 -8.4 0M1794.9 1054.4a4.2 4.2 0 1 0 8.4 0a4.2 4.2 0 1 0 -8.4 0M1797.9 1059.1a4.2 4.2 0 1 0 8.4 0a4.2 4.2 0 1 0 -8.4 0M1800.3 1060.8a4.2 4.2 0 1 0 8.4 0a4.2 4.2 0 1 0 -8.4 0M1803.3 1057.6a4.2 4.2 0 1 0 8.4 0a4.2 4.2 0 1 0 -8.4 0M1805.6 1060.5a4.2 4.2 0 1 0 8.4 0a4.2 4.2 0 1 0 -8.4 0M1808.2 1058.3a4.2 4.2 0 1 0 8.4 0a4.2 4.2 0 1 0 -8.4 0M1810.6 1058.0a4.2 4.2 0 1 0 8.4 0a4.2 4.2 0 1 0 -8.4 0M1812.3 1063.7a4.2 4.2 0 1 0 8.4 0a4.2 4.2 0 1 0 -8.4 0M1815.4 1063.4a4.2 4.2 0 1 0 8.4 0a4.2 4.2 0 1 0 -8.4 0M1818.3 1061.3a4.2 4.2 0 1 0 8.4 0a4.2 4.2 0 1 0 -8.4 0M1820.2 1064.5a4.2 4.2 0 1 0 8.4 0a4.2 4.2 0 1 0 -8.4 0M1822.4 1046.3a4.2 4.2 0 1 0 8.4 0a4.2 4.2 0 1 0 -8.4 0M1825.6 1050.0a4.2 4.2 0 1 0 8.4 0a4.2 4.2 0 1 0 -8.4 0M1829.5 1049.7a4.2 4.2 0 1 0 8.4 0a4.2 4.2 0 1 0 -8.4 0M1832.3 1052.7a4.2 4.2 0 1 0 8.4 0a4.2 4.2 0 1 0 -8.4 0M1835.1 1054.6a4.2 4.2 0 1 0 8.4 0a4.2 4.2 0 1 0 -8.4 0M1850.6 1060.0a4.2 4.2 0 1 0 8.4 0a4.2 4.2 0 1 0 -8.4 0M1852.9 1058.5a4.2 4.2 0 1 0 8.4 0a4.2 4.2 0 1 0 -8.4 0M1855.3 1058.3a4.2 4.2 0 1 0 8.4 0a4.2 4.2 0 1 0 -8.4 0M1858.3 1060.6a4.2 4.2 0 1 0 8.4 0a4.2 4.2 0 1 0 -8.4 0M1860.5 1059.2a4.2 4.2 0 1 0 8.4 0a4.2 4.2 0 1 0 -8.4 0M1863.7 1060.0a4.2 4.2 0 1 0 8.4 0a4.2 4.2 0 1 0 -8.4 0M1865.4 1061.0a4.2 4.2 0 1 0 8.4 0a4.2 4.2 0 1 0 -8.4 0M1868.1 1059.7a4.2 4.2 0 1 0 8.4 0a4.2 4.2 0 1 0 -8.4 0M1871.2 1059.3a4.2 4.2 0 1 0 8.4 0a4.2 4.2 0 1 0 -8.4 0M1873.6 1059.0a4.2 4.2 0 1 0 8.4 0a4.2 4.2 0 1 0 -8.4 0M1876.2 1063.9a4.2 4.2 0 1 0 8.4 0a4.2 4.2 0 1 0 -8.4 0M1878.0 1063.1a4.2 4.2 0 1 0 8.4 0a4.2 4.2 0 1 0 -8.4 0M1880.9 1061.1a4.2 4.2 0 1 0 8.4 0a4.2 4.2 0 1 0 -8.4 0M1883.7 1060.9a4.2 4.2 0 1 0 8.4 0a4.2 4.2 0 1 0 -8.4 0M1885.6 1061.8a4.2 4.2 0 1 0 8.4 0a4.2 4.2 0 1 0 -8.4 0M1888.0 1058.3a4.2 4.2 0 1 0 8.4 0a4.2 4.2 0 1 0 -8.4 0M1891.1 1063.3a4.2 4.2 0 1 0 8.4 0a4.2 4.2 0 1 0 -8.4 0M1893.7 1069.3a4.2 4.2 0 1 0 8.4 0a4.2 4.2 0 1 0 -8.4 0M1896.5 1072.5a4.2 4.2 0 1 0 8.4 0a4.2 4.2 0 1 0 -8.4 0M1898.1 1067.2a4.2 4.2 0 1 0 8.4 0a4.2 4.2 0 1 0 -8.4 0M1901.4 1066.2a4.2 4.2 0 1 0 8.4 0a4.2 4.2 0 1 0 -8.4 0M1903.8 1066.5a4.2 4.2 0 1 0 8.4 0a4.2 4.2 0 1 0 -8.4 0M1905.5 1064.4a4.2 4.2 0 1 0 8.4 0a4.2 4.2 0 1 0 -8.4 0M1908.6 1064.9a4.2 4.2 0 1 0 8.4 0a4.2 4.2 0 1 0 -8.4 0M1910.7 1062.3a4.2 4.2 0 1 0 8.4 0a4.2 4.2 0 1 0 -8.4 0M1913.5 1063.1a4.2 4.2 0 1 0 8.4 0a4.2 4.2 0 1 0 -8.4 0M1916.5 1067.0a4.2 4.2 0 1 0 8.4 0a4.2 4.2 0 1 0 -8.4 0M1918.9 1068.0a4.2 4.2 0 1 0 8.4 0a4.2 4.2 0 1 0 -8.4 0M1921.9 1069.6a4.2 4.2 0 1 0 8.4 0a4.2 4.2 0 1 0 -8.4 0M1924.7 1076.4a4.2 4.2 0 1 0 8.4 0a4.2 4.2 0 1 0 -8.4 0M1926.6 1076.7a4.2 4.2 0 1 0 8.4 0a4.2 4.2 0 1 0 -8.4 0M1929.8 1082.8a4.2 4.2 0 1 0 8.4 0a4.2 4.2 0 1 0 -8.4 0M1931.7 1085.2a4.2 4.2 0 1 0 8.4 0a4.2 4.2 0 1 0 -8.4 0M1934.5 1089.4a4.2 4.2 0 1 0 8.4 0a4.2 4.2 0 1 0 -8.4 0" stroke="#a50000" stroke-width="3.4" fill="none"/>
<path d="M1422.3 1189.5a4.2 4.2 0 1 0 8.4 0a4.2 4.2 0 1 0 -8.4 0M1392.1 994.8a4.2 4.2 0 1 0 8.4 0a4.2 4.2 0 1 0 -8.4 0M1380.1 1013.3a4.2 4.2 0 1 0 8.4 0a4.2 4.2 0 1 0 -8.4 0M1376.8 1025.2a4.2 4.2 0 1 0 8.4 0a4.2 4.2 0 1 0 -8.4 0M1395.3 1030.7a4.2 4.2 0 1 0 8.4 0a4.2 4.2 0 1 0 -8.4 0M1368.1 1057.8a4.2 4.2 0 1 0 8.4 0a4.2 4.2 0 1 0 -8.4 0M1383.4 1053.5a4.2 4.2 0 1 0 8.4 0a4.2 4.2 0 1 0 -8.4 0M1388.8 1053.5a4.2 4.2 0 1 0 8.4 0a4.2 4.2 0 1 0 -8.4 0M1386.6 1061.1a4.2 4.2 0 1 0 8.4 0a4.2 4.2 0 1 0 -8.4 0M1371.4 1075.2a4.2 4.2 0 1 0 8.4 0a4.2 4.2 0 1 0 -8.4 0M1373.6 1089.3a4.2 4.2 0 1 0 8.4 0a4.2 4.2 0 1 0 -8.4 0M1400.8 1068.7a4.2 4.2 0 1 0 8.4 0a4.2 4.2 0 1 0 -8.4 0M1397.5 1085.0a4.2 4.2 0 1 0 8.4 0a4.2 4.2 0 1 0 -8.4 0M1416.0 1083.9a4.2 4.2 0 1 0 8.4 0a4.2 4.2 0 1 0 -8.4 0M1412.7 1098.0a4.2 4.2 0 1 0 8.4 0a4.2 4.2 0 1 0 -8.4 0M1409.5 1104.6a4.2 4.2 0 1 0 8.4 0a4.2 4.2 0 1 0 -8.4 0M1427.9 1099.1a4.2 4.2 0 1 0 8.4 0a4.2 4.2 0 1 0 -8.4 0M1431.2 1085.0a4.2 4.2 0 1 0 8.4 0a4.2 4.2 0 1 0 -8.4 0M1433.4 1111.1a4.2 4.2 0 1 0 8.4 0a4.2 4.2 0 1 0 -8.4 0M1419.2 1125.2a4.2 4.2 0 1 0 8.4 0a4.2 4.2 0 1 0 -8.4 0M1406.2 1127.4a4.2 4.2 0 1 0 8.4 0a4.2 4.2 0 1 0 -8.4 0M1402.9 1133.9a4.2 4.2 0 1 0 8.4 0a4.2 4.2 0 1 0 -8.4 0M1439.9 1133.9a4.2 4.2 0 1 0 8.4 0a4.2 4.2 0 1 0 -8.4 0M1437.7 1152.4a4.2 4.2 0 1 0 8.4 0a4.2 4.2 0 1 0 -8.4 0M1425.8 1175.2a4.2 4.2 0 1 0 8.4 0a4.2 4.2 0 1 0 -8.4 0M1448.6 1070.9a4.2 4.2 0 1 0 8.4 0a4.2 4.2 0 1 0 -8.4 0M1442.1 1091.5a4.2 4.2 0 1 0 8.4 0a4.2 4.2 0 1 0 -8.4 0M1455.1 1083.9a4.2 4.2 0 1 0 8.4 0a4.2 4.2 0 1 0 -8.4 0M1459.5 1088.3a4.2 4.2 0 1 0 8.4 0a4.2 4.2 0 1 0 -8.4 0M1463.8 1099.1a4.2 4.2 0 1 0 8.4 0a4.2 4.2 0 1 0 -8.4 0M1460.5 1116.5a4.2 4.2 0 1 0 8.4 0a4.2 4.2 0 1 0 -8.4 0M1468.1 1107.8a4.2 4.2 0 1 0 8.4 0a4.2 4.2 0 1 0 -8.4 0M1474.7 1112.2a4.2 4.2 0 1 0 8.4 0a4.2 4.2 0 1 0 -8.4 0M1481.2 1101.3a4.2 4.2 0 1 0 8.4 0a4.2 4.2 0 1 0 -8.4 0M1485.5 1110.0a4.2 4.2 0 1 0 8.4 0a4.2 4.2 0 1 0 -8.4 0M1475.8 1141.5a4.2 4.2 0 1 0 8.4 0a4.2 4.2 0 1 0 -8.4 0M1487.7 1125.2a4.2 4.2 0 1 0 8.4 0a4.2 4.2 0 1 0 -8.4 0M1492.1 1140.4a4.2 4.2 0 1 0 8.4 0a4.2 4.2 0 1 0 -8.4 0M1498.6 1131.7a4.2 4.2 0 1 0 8.4 0a4.2 4.2 0 1 0 -8.4 0M1505.1 1125.2a4.2 4.2 0 1 0 8.4 0a4.2 4.2 0 1 0 -8.4 0M1511.6 1147.0a4.2 4.2 0 1 0 8.4 0a4.2 4.2 0 1 0 -8.4 0M1518.1 1140.4a4.2 4.2 0 1 0 8.4 0a4.2 4.2 0 1 0 -8.4 0M1524.7 1147.0a4.2 4.2 0 1 0 8.4 0a4.2 4.2 0 1 0 -8.4 0M1529.0 1129.6a4.2 4.2 0 1 0 8.4 0a4.2 4.2 0 1 0 -8.4 0M1530.1 1112.2a4.2 4.2 0 1 0 8.4 0a4.2 4.2 0 1 0 -8.4 0M1535.5 1133.9a4.2 4.2 0 1 0 8.4 0a4.2 4.2 0 1 0 -8.4 0M1542.1 1142.6a4.2 4.2 0 1 0 8.4 0a4.2 4.2 0 1 0 -8.4 0M1545.3 1153.5a4.2 4.2 0 1 0 8.4 0a4.2 4.2 0 1 0 -8.4 0M1548.6 1175.2a4.2 4.2 0 1 0 8.4 0a4.2 4.2 0 1 0 -8.4 0M1552.9 1138.3a4.2 4.2 0 1 0 8.4 0a4.2 4.2 0 1 0 -8.4 0M1559.5 1136.1a4.2 4.2 0 1 0 8.4 0a4.2 4.2 0 1 0 -8.4 0M1647.1 843.4a4.2 4.2 0 1 0 8.4 0a4.2 4.2 0 1 0 -8.4 0M1651.0 858.6a4.2 4.2 0 1 0 8.4 0a4.2 4.2 0 1 0 -8.4 0M1656.0 867.5a4.2 4.2 0 1 0 8.4 0a4.2 4.2 0 1 0 -8.4 0M1643.3 878.9a4.2 4.2 0 1 0 8.4 0a4.2 4.2 0 1 0 -8.4 0M1658.6 885.2a4.2 4.2 0 1 0 8.4 0a4.2 4.2 0 1 0 -8.4 0M1639.5 915.7a4.2 4.2 0 1 0 8.4 0a4.2 4.2 0 1 0 -8.4 0M1638.3 937.2a4.2 4.2 0 1 0 8.4 0a4.2 4.2 0 1 0 -8.4 0M1635.8 951.2a4.2 4.2 0 1 0 8.4 0a4.2 4.2 0 1 0 -8.4 0M1662.4 934.7a4.2 4.2 0 1 0 8.4 0a4.2 4.2 0 1 0 -8.4 0M1631.9 971.4a4.2 4.2 0 1 0 8.4 0a4.2 4.2 0 1 0 -8.4 0M1666.2 985.4a4.2 4.2 0 1 0 8.4 0a4.2 4.2 0 1 0 -8.4 0M1670.0 994.3a4.2 4.2 0 1 0 8.4 0a4.2 4.2 0 1 0 -8.4 0M1629.4 1006.9a4.2 4.2 0 1 0 8.4 0a4.2 4.2 0 1 0 -8.4 0M1623.1 1029.8a4.2 4.2 0 1 0 8.4 0a4.2 4.2 0 1 0 -8.4 0M1619.3 1033.6a4.2 4.2 0 1 0 8.4 0a4.2 4.2 0 1 0 -8.4 0M1673.8 1019.6a4.2 4.2 0 1 0 8.4 0a4.2 4.2 0 1 0 -8.4 0M1676.3 1033.6a4.2 4.2 0 1 0 8.4 0a4.2 4.2 0 1 0 -8.4 0M1680.1 1055.1a4.2 4.2 0 1 0 8.4 0a4.2 4.2 0 1 0 -8.4 0M1685.2 1070.3a4.2 4.2 0 1 0 8.4 0a4.2 4.2 0 1 0 -8.4 0M1615.5 1069.1a4.2 4.2 0 1 0 8.4 0a4.2 4.2 0 1 0 -8.4 0M1604.0 1080.5a4.2 4.2 0 1 0 8.4 0a4.2 4.2 0 1 0 -8.4 0M1600.2 1088.1a4.2 4.2 0 1 0 8.4 0a4.2 4.2 0 1 0 -8.4 0M1610.4 1096.9a4.2 4.2 0 1 0 8.4 0a4.2 4.2 0 1 0 -8.4 0M1588.8 1105.8a4.2 4.2 0 1 0 8.4 0a4.2 4.2 0 1 0 -8.4 0M1583.8 1113.4a4.2 4.2 0 1 0 8.4 0a4.2 4.2 0 1 0 -8.4 0M1576.2 1121.0a4.2 4.2 0 1 0 8.4 0a4.2 4.2 0 1 0 -8.4 0M1568.5 1128.6a4.2 4.2 0 1 0 8.4 0a4.2 4.2 0 1 0 -8.4 0M1558.4 1136.2a4.2 4.2 0 1 0 8.4 0a4.2 4.2 0 1 0 -8.4 0M1550.8 1146.4a4.2 4.2 0 1 0 8.4 0a4.2 4.2 0 1 0 -8.4 0M1562.8 1132.0a4.2 4.2 0 1 0 8.4 0a4.2 4.2 0 1 0 -8.4 0M1579.8 1117.0a4.2 4.2 0 1 0 8.4 0a4.2 4.2 0 1 0 -8.4 0M1593.8 1098.0a4.2 4.2 0 1 0 8.4 0a4.2 4.2 0 1 0 -8.4 0M1700.4 1108.4a4.2 4.2 0 1 0 8.4 0a4.2 4.2 0 1 0 -8.4 0M1728.3 1116.0a4.2 4.2 0 1 0 8.4 0a4.2 4.2 0 1 0 -8.4 0M1728.3 1093.1a4.2 4.2 0 1 0 8.4 0a4.2 4.2 0 1 0 -8.4 0M1789.2 1096.8a4.2 4.2 0 1 0 8.4 0a4.2 4.2 0 1 0 -8.4 0M1763.1 1111.7a4.2 4.2 0 1 0 8.4 0a4.2 4.2 0 1 0 -8.4 0M1731.4 1118.0a4.2 4.2 0 1 0 8.4 0a4.2 4.2 0 1 0 -8.4 0M1761.8 1126.6a4.2 4.2 0 1 0 8.4 0a4.2 4.2 0 1 0 -8.4 0M1769.3 1127.9a4.2 4.2 0 1 0 8.4 0a4.2 4.2 0 1 0 -8.4 0M1784.2 1118.0a4.2 4.2 0 1 0 8.4 0a4.2 4.2 0 1 0 -8.4 0M1780.5 1125.4a4.2 4.2 0 1 0 8.4 0a4.2 4.2 0 1 0 -8.4 0M1775.5 1134.1a4.2 4.2 0 1 0 8.4 0a4.2 4.2 0 1 0 -8.4 0M1776.7 1141.6a4.2 4.2 0 1 0 8.4 0a4.2 4.2 0 1 0 -8.4 0M1800.3 1118.0a4.2 4.2 0 1 0 8.4 0a4.2 4.2 0 1 0 -8.4 0M1812.8 1120.4a4.2 4.2 0 1 0 8.4 0a4.2 4.2 0 1 0 -8.4 0M1805.3 1130.4a4.2 4.2 0 1 0 8.4 0a4.2 4.2 0 1 0 -8.4 0M1796.6 1137.8a4.2 4.2 0 1 0 8.4 0a4.2 4.2 0 1 0 -8.4 0M1845.1 1073.2a4.2 4.2 0 1 0 8.4 0a4.2 4.2 0 1 0 -8.4 0M1842.6 1086.9a4.2 4.2 0 1 0 8.4 0a4.2 4.2 0 1 0 -8.4 0M1830.1 1089.4a4.2 4.2 0 1 0 8.4 0a4.2 4.2 0 1 0 -8.4 0M1832.6 1098.1a4.2 4.2 0 1 0 8.4 0a4.2 4.2 0 1 0 -8.4 0M1835.1 1130.4a4.2 4.2 0 1 0 8.4 0a4.2 4.2 0 1 0 -8.4 0M1838.8 1137.8a4.2 4.2 0 1 0 8.4 0a4.2 4.2 0 1 0 -8.4 0M1847.5 1144.0a4.2 4.2 0 1 0 8.4 0a4.2 4.2 0 1 0 -8.4 0M1856.2 1131.6a4.2 4.2 0 1 0 8.4 0a4.2 4.2 0 1 0 -8.4 0M1862.4 1145.3a4.2 4.2 0 1 0 8.4 0a4.2 4.2 0 1 0 -8.4 0M1874.9 1126.6a4.2 4.2 0 1 0 8.4 0a4.2 4.2 0 1 0 -8.4 0M1872.4 1136.6a4.2 4.2 0 1 0 8.4 0a4.2 4.2 0 1 0 -8.4 0M1881.1 1145.3a4.2 4.2 0 1 0 8.4 0a4.2 4.2 0 1 0 -8.4 0M1892.3 1124.2a4.2 4.2 0 1 0 8.4 0a4.2 4.2 0 1 0 -8.4 0M1896.0 1146.5a4.2 4.2 0 1 0 8.4 0a4.2 4.2 0 1 0 -8.4 0M1850.0 1157.7a4.2 4.2 0 1 0 8.4 0a4.2 4.2 0 1 0 -8.4 0M1861.2 1154.0a4.2 4.2 0 1 0 8.4 0a4.2 4.2 0 1 0 -8.4 0M1887.3 1156.5a4.2 4.2 0 1 0 8.4 0a4.2 4.2 0 1 0 -8.4 0M1904.7 1155.2a4.2 4.2 0 1 0 8.4 0a4.2 4.2 0 1 0 -8.4 0M1898.5 1163.9a4.2 4.2 0 1 0 8.4 0a4.2 4.2 0 1 0 -8.4 0M1902.2 1172.6a4.2 4.2 0 1 0 8.4 0a4.2 4.2 0 1 0 -8.4 0M1865.8 1140.0a4.2 4.2 0 1 0 8.4 0a4.2 4.2 0 1 0 -8.4 0M1870.8 1142.0a4.2 4.2 0 1 0 8.4 0a4.2 4.2 0 1 0 -8.4 0M1875.8 1144.0a4.2 4.2 0 1 0 8.4 0a4.2 4.2 0 1 0 -8.4 0M1910.9 1083.2a4.2 4.2 0 1 0 8.4 0a4.2 4.2 0 1 0 -8.4 0M1908.4 1089.4a4.2 4.2 0 1 0 8.4 0a4.2 4.2 0 1 0 -8.4 0M1914.6 1093.1a4.2 4.2 0 1 0 8.4 0a4.2 4.2 0 1 0 -8.4 0M1917.1 1106.8a4.2 4.2 0 1 0 8.4 0a4.2 4.2 0 1 0 -8.4 0M1925.8 1121.7a4.2 4.2 0 1 0 8.4 0a4.2 4.2 0 1 0 -8.4 0M1919.6 1132.9a4.2 4.2 0 1 0 8.4 0a4.2 4.2 0 1 0 -8.4 0M1922.1 1147.8a4.2 4.2 0 1 0 8.4 0a4.2 4.2 0 1 0 -8.4 0M1929.5 1145.3a4.2 4.2 0 1 0 8.4 0a4.2 4.2 0 1 0 -8.4 0M1932.0 1168.9a4.2 4.2 0 1 0 8.4 0a4.2 4.2 0 1 0 -8.4 0M1945.7 1168.9a4.2 4.2 0 1 0 8.4 0a4.2 4.2 0 1 0 -8.4 0M1949.4 1135.3a4.2 4.2 0 1 0 8.4 0a4.2 4.2 0 1 0 -8.4 0M1953.1 1152.7a4.2 4.2 0 1 0 8.4 0a4.2 4.2 0 1 0 -8.4 0M1956.8 1103.0a4.2 4.2 0 1 0 8.4 0a4.2 4.2 0 1 0 -8.4 0M1960.6 1132.9a4.2 4.2 0 1 0 8.4 0a4.2 4.2 0 1 0 -8.4 0M1961.8 1176.3a4.2 4.2 0 1 0 8.4 0a4.2 4.2 0 1 0 -8.4 0M1688.0 1091.0a4.2 4.2 0 1 0 8.4 0a4.2 4.2 0 1 0 -8.4 0M1690.7 1092.6a4.2 4.2 0 1 0 8.4 0a4.2 4.2 0 1 0 -8.4 0M1692.7 1095.7a4.2 4.2 0 1 0 8.4 0a4.2 4.2 0 1 0 -8.4 0M1695.0 1097.3a4.2 4.2 0 1 0 8.4 0a4.2 4.2 0 1 0 -8.4 0M1698.2 1101.7a4.2 4.2 0 1 0 8.4 0a4.2 4.2 0 1 0 -8.4 0M1700.0 1100.0a4.2 4.2 0 1 0 8.4 0a4.2 4.2 0 1 0 -8.4 0M1703.2 1100.9a4.2 4.2 0 1 0 8.4 0a4.2 4.2 0 1 0 -8.4 0M1705.4 1098.3a4.2 4.2 0 1 0 8.4 0a4.2 4.2 0 1 0 -8.4 0M1708.4 1092.8a4.2 4.2 0 1 0 8.4 0a4.2 4.2 0 1 0 -8.4 0M1710.7 1090.2a4.2 4.2 0 1 0 8.4 0a4.2 4.2 0 1 0 -8.4 0M1713.5 1090.9a4.2 4.2 0 1 0 8.4 0a4.2 4.2 0 1 0 -8.4 0M1715.1 1085.6a4.2 4.2 0 1 0 8.4 0a4.2 4.2 0 1 0 -8.4 0M1717.6 1087.3a4.2 4.2 0 1 0 8.4 0a4.2 4.2 0 1 0 -8.4 0M1721.0 1088.3a4.2 4.2 0 1 0 8.4 0a4.2 4.2 0 1 0 -8.4 0M1723.3 1089.7a4.2 4.2 0 1 0 8.4 0a4.2 4.2 0 1 0 -8.4 0M1726.0 1087.8a4.2 4.2 0 1 0 8.4 0a4.2 4.2 0 1 0 -8.4 0M1728.3 1090.6a4.2 4.2 0 1 0 8.4 0a4.2 4.2 0 1 0 -8.4 0" stroke="#0000a8" stroke-width="3.4" fill="none"/>
<text x="1575.2" y="800.0" class="mu" fill="#b00000">&#956;&#8242;</text>
<text x="1594.8" y="1184.0" class="mu" fill="#0000c8">&#956;&#8242;&#8242;</text>
<path d="M1946.5 545V555.5" stroke="#000" stroke-width="3.5"/>
<text x="490.0" y="74" class="hl" font-style="italic">H</text>
<text x="522.5" y="82.7" class="hl" font-style="italic" style="font-size:28px">dc</text>
<text x="556.9" y="74" class="hl">=</text>
<text x="593.9" y="74" class="hl">0</text>
<text x="1021.6" y="77.3" class="hl" font-style="italic">H</text>
<text x="1054.1" y="86.0" class="hl" font-style="italic" style="font-size:28px">dc</text>
<text x="1088.5" y="77.3" class="hl">=</text>
<text x="1125.5" y="77.3" class="hl" textLength="156.0" lengthAdjust="spacing">0.32 kOe</text>
<text x="1673.5" y="75.8" class="hl" font-style="italic">H</text>
<text x="1706.0" y="84.5" class="hl" font-style="italic" style="font-size:28px">dc</text>
<text x="1740.4" y="75.8" class="hl">=</text>
<text x="1777.4" y="75.8" class="hl" textLength="154.9" lengthAdjust="spacing">3.08 kOe</text>
<text x="386.5" y="735.8" class="hl" font-style="italic">H</text>
<text x="419.0" y="744.5" class="hl" font-style="italic" style="font-size:28px">dc</text>
<text x="453.4" y="735.8" class="hl">=</text>
<text x="490.4" y="735.8" class="hl" textLength="155.7" lengthAdjust="spacing">4.67 kOe</text>
<text x="1018.1" y="737.4" class="hl" font-style="italic">H</text>
<text x="1050.6" y="746.1" class="hl" font-style="italic" style="font-size:28px">dc</text>
<text x="1085.0" y="737.4" class="hl">=</text>
<text x="1122.0" y="737.4" class="hl" textLength="155.7" lengthAdjust="spacing">6.24 kOe</text>
<text x="1669.0" y="740.3" class="hl" font-style="italic">H</text>
<text x="1701.5" y="749.0" class="hl" font-style="italic" style="font-size:28px">dc</text>
<text x="1735.9" y="740.3" class="hl">=</text>
<text x="1772.9" y="740.3" class="hl" textLength="154.6" lengthAdjust="spacing">7.02 kOe</text>
<rect x="74.9" y="19.1" width="599.6" height="541.9" fill="none" stroke="#000" stroke-width="3.2"/>
<rect x="719.7" y="22.8" width="598.1" height="539.5" fill="none" stroke="#000" stroke-width="3.2"/>
<rect x="1368.2" y="20.7" width="596.2" height="541.6" fill="none" stroke="#000" stroke-width="3.2"/>
<rect x="73" y="680.5" width="599.8" height="540.3" fill="none" stroke="#000" stroke-width="3.2"/>
<rect x="723.1" y="684" width="599.9" height="539.9" fill="none" stroke="#000" stroke-width="3.2"/>
<rect x="1371.6" y="684" width="598" height="539.9" fill="none" stroke="#000" stroke-width="3.2"/>
<path d="M64.4 613.3H1964" stroke="#000" stroke-width="3.4" fill="none"/>
<path d="M86.4 600.0999999999999L64.9 613.3L86.4 626.5M1942 600.0999999999999L1963.5 613.3L1942 626.5" stroke="#000" stroke-width="3.8" fill="none" stroke-linecap="round" stroke-linejoin="round"/>
<path d="M74.5 1281H1974.3" stroke="#000" stroke-width="3.4" fill="none"/>
<path d="M96.5 1267.8L75.0 1281L96.5 1294.2M1952.3 1267.8L1973.8 1281L1952.3 1294.2" stroke="#000" stroke-width="3.8" fill="none" stroke-linecap="round" stroke-linejoin="round"/>
<text x="848.0" y="662.2" class="ax" textLength="196.2" lengthAdjust="spacingAndGlyphs">Frequency</text>
<text x="1064.8" y="662.2" class="ax">(GHz)</text>
<text x="851.8" y="1328.0" class="ax" textLength="196.2" lengthAdjust="spacingAndGlyphs">Frequency</text>
<text x="1068.6" y="1328.0" class="ax">(GHz)</text>
<text transform="translate(37.8 414) rotate(-90)" class="ax">Permeability</text>
<text transform="translate(37.3 1076.9) rotate(-90)" class="ax">Permeability</text>
<rect x="613.5" y="1307.6" width="70.9" height="74" fill="#b0b0b0"/>
<text x="647.5" y="1358.9" class="pl" text-anchor="middle">g</text>
<path d="M889.45 1903.6V1888.6M889.45 1362V1377M1039.5 1903.6V1888.6M1039.5 1362V1377M1189.55 1903.6V1888.6M1189.55 1362V1377M739.4 1795.28H754.4M1339.6 1795.28H1324.6M739.4 1686.96H754.4M1339.6 1686.96H1324.6M739.4 1578.64H754.4M1339.6 1578.64H1324.6M739.4 1470.32H754.4M1339.6 1470.32H1324.6" stroke="#000" stroke-width="2" fill="none"/>
<text x="731.9" y="1911.9" text-anchor="end" class="tl">0</text>
<text x="731.9" y="1803.58" text-anchor="end" class="tl">5</text>
<text x="731.9" y="1695.26" text-anchor="end" class="tl">10</text>
<text x="731.9" y="1586.94" text-anchor="end" class="tl">15</text>
<text x="731.9" y="1478.62" text-anchor="end" class="tl">20</text>
<text x="731.9" y="1370.3" text-anchor="end" class="tl">25</text>
<text x="739.4" y="1935.2" text-anchor="middle" class="tl">0</text>
<text x="889.45" y="1935.2" text-anchor="middle" class="tl">2</text>
<text x="1039.5" y="1935.2" text-anchor="middle" class="tl">4</text>
<text x="1189.55" y="1935.2" text-anchor="middle" class="tl">6</text>
<text x="1339.6" y="1935.2" text-anchor="middle" class="tl">8</text>
<path d="M739.4 1766L1280 1362.5" stroke="#000" stroke-width="1.4" fill="none"/>
<circle cx="762.4" cy="1750.9" r="7.4" fill="#000"/>
<circle cx="787" cy="1734.5" r="7.4" fill="#000"/>
<circle cx="813.6" cy="1718.3" r="7.4" fill="#000"/>
<circle cx="840.6" cy="1691" r="7.4" fill="#000"/>
<circle cx="855.9" cy="1685.5" r="7.4" fill="#000"/>
<circle cx="969.5" cy="1582.2" r="7.4" fill="#000"/>
<circle cx="1089.4" cy="1479.9" r="7.4" fill="#000"/>
<circle cx="1206.9" cy="1414.5" r="7.4" fill="#000"/>
<circle cx="1265.6" cy="1393.2" r="7.4" fill="#000"/>
<rect x="739.4" y="1362.0" width="600.2" height="541.6" fill="none" stroke="#000" stroke-width="3"/>
<text x="946" y="1977" class="gx" font-style="italic">H</text>
<text x="980.7" y="1986.2" class="gx" font-style="italic" style="font-size:30px">dc</text>
<text x="1023.8" y="1977" class="gx">(kOe)</text>
<g transform="translate(685.5 1737.8) rotate(-90)"><text x="0" y="0" class="gx" font-style="italic">f</text><text x="22" y="10.5" class="gx" font-style="italic" style="font-size:30px">r</text><text x="46.9" y="0" class="gx">(GHz)</text></g>
</svg>
</body></html>
